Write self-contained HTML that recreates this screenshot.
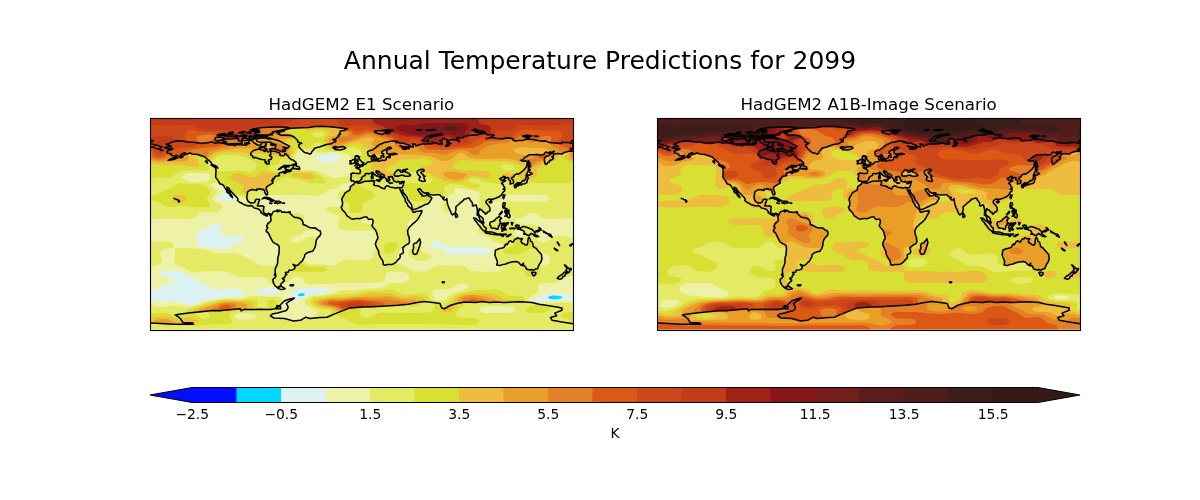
<!DOCTYPE html>
<html><head><meta charset="utf-8"><title>Annual Temperature Predictions for 2099</title>
<style>
html,body{margin:0;padding:0;background:#fff;}
body{width:1200px;height:500px;overflow:hidden;}
svg{display:block;}
text{font-family:"DejaVu Sans","Liberation Sans",sans-serif;fill:#000;}
</style></head><body>
<svg width="1200" height="500" viewBox="0 0 1200 500">
<rect width="1200" height="500" fill="#fff"/>
<text x="600" y="69.3" text-anchor="middle" font-size="25">Annual Temperature Predictions for 2099</text>
<text x="361.4" y="109.6" text-anchor="middle" font-size="16.67">HadGEM2 E1 Scenario</text>
<text x="868.6" y="109.6" text-anchor="middle" font-size="16.67">HadGEM2 A1B-Image Scenario</text>
<defs><clipPath id="mc"><rect x="0.2" y="-0.3" width="423" height="212"/></clipPath>
</defs>
<g transform="translate(150.30,118.80)" clip-path="url(#mc)">
<rect x="-1" y="-1" width="425" height="214" fill="#00d8fe"/>
<path fill="#dcf1f2" d="M-5.4 -5.4l433.6 0 0 222.2 -433.6 0zM150.5 174.5l-2.4 .9 -.6 .9 .3 .6 1.5 .5 2 0 2.1-.5 1.1-.9 -.1-.9 -.7-.5 -1.5-.2zM401.7 176.8l-3 1 -.7 .5 -.1 .6 .5 .6 1.6 .6 5 .6 5-.8 1.6-.7 .4-.6 -.9-.8 -2.9-.9 -3.2-.3z"/>
<path fill="#eef2a8" d="M-5.4 -5.4l433.6 0 0 178.7 -5.6 0 -3 1.5 -2.9 .5 -13.5-.8 -6.7 .4 -3.6 1.1 -8.9 4.1 -1.6 1.2 -.6 1.1 .1 .3 1.9 .7 4.7 .8 3.6-1.5 2-.4 11.8 0 12.9-1.5 9.4 .2 0 35.8 -433.6 0 0-35.8 5.5 0 7.1 1.6 3.2 .4 3.5-.1 8.6-.8 4.4 0 3.2 .8 5.6 2.8 2.3 .4 2.4 .1 4.7-1.1 5.8-3 3-.9 10.5-1.1 11.2-1.9 10.3 0 3.5-.4 3-1.2 .8-.9 .3-1.2 -.5-1.4 -1.3-1.3 -2-.9 -2.7-.6 -6.4-.3 -12.3 1 -3.3-.2 -2.3-.5 -2-1.1 -2.4-2.2 -1.5-1 -8.4-3.2 -4.8-3.8 -7.6-2.9 -6.2-3.8 -2.1-.6 -2.3-.2 -11.7 1 -2.1 .7 -.8 1.1 .2 1.4 1.5 1.3 7.8 2.3 2.5 1.1 .9 1.2 -.2 .9 -.6 .6 -1.8 .9 -7.2 2.1 -5.2 3.1 -5.6 2.3 -3 1.6 -5.5 0zM64.4 105.8l-2 .3 -2.1 .8 -4.8 3.3 -6.2 2.7 -1.7 1.1 -.8 1.8 .2 4.4 -1.3 3.5 .2 1.2 .7 .9 2.2 1.2 3.9 .9 14.4 2.2 6.4-.1 3.3-.5 2-.6 5-3.7 7.9-2.8 1.3-.7 .8-.9 .1-1.2 -.7-1 -1.2-.8 -2-.6 -4.1-.3 -9.7 .6 -2.4-.2 -1.9-.6 -1.2-.9 -.5-1.2 1.2-5 -.4-1.7 -1-1 -1.5-.6 -2-.4zM74.4 71.1l-2.5 3.9 -3.7 3.5 -.3 .9 .5 .9 1.6 .8 2.4 .6 3.2 .4 2.6-.1 3-.8 3.3-2.4 0-1.2 -1.4-1.4 -1-.6 -1.8 .2 -1.5-.7 -1.7-1.2zM114.3 169.2l-3.5 .5 -2.3 .7 -1.6 1.2 -.3 1.2 1.3 1.2 3.2 1.1 3.8 .5 4.7 0 3.5-.3 2.8-.8 1.9-1.2 .8-1.4 0-.6 -.4-.3 -1.8-1.2 -1.2-.4 -4.7-.4zM161.3 168.9l-10.8 .9 -3.9 .7 -2.3 .8 -2.1 1.3 -1.8 2.2 -1.4 2.7 -.3 2 2.4 1.2 .3 1.9 3.5-.2 2.6-.8 7.9-3.5 5-2.6 2.7-.5 7.5-.2 3.6-.6 3.5-1.1 1.2-.9 .5-.9 -.2-.6 -.8-.6 -3.3-.7 -6-.5zM176 35.7l-6.2 .7 -2.9 .7 -1.5 1.1 -.2 .7 .2 .9 1.2 1.5 2.2 1.1 3.4 .7 4.4 .4 4.4 0 4.1-.5 2.6-1 1.3-1.3 .2-1.2 -.4-1.2 -1.2-1.2 -1.6-.8 -4.1-.9zM287.5 122.9l-3.2 .3 -2.3 1.1 -1.2 1.8 -.1 1.2 .4 .8 .7 .6 1.3 .5 6.8 .7 2 .4 1.2 .8 2.7 3 1.4 .8 1.8 .4 5 .3 12.9-.3 11.4 .5 4.7-.1 3-.4 2-.8 1.5-1.1 .8-1.4 -.1-1.2 -.7-.9 -1.5-.6 -2.6-.4 -32.9-.1 -4.7-.3 -2.3-.9 -2.1-2.7 -1.5-1.1 -2-.7z"/>
<path fill="#e4ea63" d="M-5.4 -5.4l433.6 0 0 105.2 -19.4-.2 -10 .6 -4.4-.2 -2.1-.4 -1.6-.8 -3.3-3.2 -1.4-.9 -1.9-.6 -2-.2 -1.8 .2 -1.7 .6 -3.4 2.6 -2.2 1.2 -2.7 .7 -4.9 .8 -.7 .3 -.3 .5 .3 1.5 .7 1.2 2.3 1.5 3.5 .7 8.8-.2 3 .3 2.8 1.2 1.3 1.2 1.1 1.5 1.5 .7 .3 .5 0 .8 -1.1 1.8 -2.1 5 -.2 1.1 .2 1.2 .6 .9 2 1.2 3.5 .5 3.6-.5 2-.9 3.2-2.8 1.8-1.1 2.4-.8 2.9-.4 4.7 .1 4.1 .6 2.7 1.1 2.3 1.9 5.6 0 0 29.4 -5.6 0 0 .2 0 .4 5.6 0 0 6.1 -5.6 0 -8.2 2.8 -5.4 3.3 -3.1 1.1 -3.6 .4 -9.4 0 -3.7 .8 -1.2 .9 -.5 1.2 .8 4.1 -.4 1.5 -1.7 1.4 -4.7 2.5 -1.8 1.3 -1.4 1.8 -.6 2.1 .6 1.2 1.6 .8 11.3 1.6 5.8 .2 2.1-.9 2.6-.6 13-.9 4.4 .4 3.5 1.3 5.6 0 0 31.8 -433.6 0 0-31.7 5.5 0 3.6 2 4.4 .8 7-.1 10.3-1.2 2.6 .3 5.6 1.1 4.7 .1 3.2-.3 3.3-.8 8.2-3.1 2.9-.8 18.2-3.1 16.8-.4 3.9-.7 5.2-1.7 2.3-.4 10.6 .9 14.9 .2 1.8 .4 1.1 .6 .6 .9 .5 1.5 .2 1.4 -1.5 4.7 -.2 2.1 -1.7 3.2 -.1 1.2 -1.5 .9 -4.4 1.4 -.7 .9 .3 .9 1.2 1 2.1 .6 10 1 7.3 1.4 3.2 0 3.9-.6 5.2-2.3 4.7 .3 2.4-.5 1.5-.9 1-1.8 2.7-2.6 .1-.9 -.6-.6 -9.5-5.2 -2.1-1.5 -.9-1.2 -.2-1.8 .7-1.4 1.8-1.5 3.1-1.6 3.3-.8 8.8-.5 7.3-1.2 4.4-1.1 5.9-2.3 3.2-.8 3-.1 8.5 .6 11.4-2.1 10.9 .1 3.5-.3 3.5-1.2 3.3-2.7 1.4-.7 12.4-.5 4.5-.9 1.6-.8 1.2-1 .7-1.2 .2-1.4 -.8-3.6 -.7-.9 -1.2-.6 -6.1-.9 -8.8-.3 -3.3 .7 -2.3 1.5 -.7 1.7 .3 4.1 -.2 1.2 -.9 1.1 -1.5 .5 -27 .6 -13.5 0 -29 1.5 -4.4-.2 -3-.8 -1.5-1.2 -1.2-3.3 -1-1.1 -2.4-.9 -3.6-.1 -2 .4 -1.6 .6 -1.3 .9 -2 2.3 -1.3 1.1 -5.3 2 -.9 1.3 .5 2.6 -.6 .6 -1.3 .2 -2.6-1.1 -5.3-3.8 -2.8-.9 -.9-.8 -.9-2.1 -.9-1.2 -1.3-.9 -2-.7 -5.3-.5 -12.9 .8 -6.8-.3 -4-1.3 -5.4-3.7 -2-.6 -2.4-.4 -10.6 .2 -9.4-.3 -8.8 1.1 -3.5 0 -3.2-1.1 -5.9-3.8 -5.9-1.8 -1.6-.8 -1.1-1.1 -.5-2.1 .3-12.9 .6-.4 1.5-.2 10.5-.3 4.1 .2 13.3 1.5 3.2 1 5.3 2.3 2.9 .7 4.1 .2 10.3-.4 7.6 .7 3.6 1.2 5.2 3.3 6.5 2.5 4.4 3.4 2 .9 3.6 .5 7.9-.3 4.1 .2 1.3-1.4 .8-2.3 .2-4.5 1.2-7.6 -.1-3 -.6-1.1 -.7-.9 -3.9-2.3 -1.4-1.5 -3.3-6.5 -2.1-2.9 -.4-1.5 .8-5.3 .9-1.4 1.8-2.1 .6-1.2 .1-1.4 -.4-3.9 3.4-3 3-.9 3.2 0 3.8 1.2 5.3 .1 3.5 1.7 2.4-.7 2.3-.3 2.4 .1 2 .6 1.7 1.2 .9 1.8 .1 1.8 -.7 2 -.1 1.8 .2 1.3 .6 .9 5 2.6 1.4 .4 3.8 .3 1.2 .6 .6 .6 0 .6 -.3 .3 -6.4 0 -3.3 .6 -1.9 1.2 -3.1 3 -1.7 .6 -6.8 1.5 -1.7 1 -.7 1.2 .4 1.5 1.7 1.2 2.7 .7 3.2 .1 2.1-.4 1.6-.7 1-.9 2.1-2.6 1.7-.9 5.3-.6 5 0 .9 .2 0 1.2 -1.3 3.3 -1.4 5.1 -1.7 3.5 -1.8 1.7 -3.8 1.3 -1.5 .8 -1.2 1.2 -.7 1.6 -.7 3 .2 1.4 2.4 2.4 2.4 1.1 3.8 .4 9.4-.4 8.8 1.2 2.3 .1 1.5-.3 1.5-.6 2.9-2.8 1.5-1 3.2-1.1 5.6-.3 15 .5 4.1-.3 2.9-.8 1.6-1 .7-1.2 -.5-3.8 .2-1.5 .9-1 1.8-1 .3-.6 .2-1.2 -.6-4.1 1.4-5 0-1.7 -1.1-4.1 -1.1-1.4 -1.2-.7 -7.9 .3 -10-.4 -9.7 .1 -3.5-.3 -2.6-.9 -1.9-1.4 -.7-1.2 -.2-1.2 .2-2.3 1.8-4.4 -.1-1.5 -.6-1.2 -.9-.9 -1.8-.8 -7.7-2.4 -1.3-.9 -.7-.9 -.2-1.1 .4-.9 1-.9 1.5-.6 3.5-.2 7.7 1 1.2-.7 .8-1.8 -.2-2.4 -1.5-3.1 -2.1-.9 -1.1-1 -.2-1.2 .5-1.7 1.4-2.7 1.5-1.3 2.3-.7 4.4-.1 1.3-.8 2-2.9 2.3-2.4 -.1-.9 -1.4-.7 -4.7 .6 -4.7 1.3 -2.1 1.2 -3.1 2.7 -8.6 2.1 -1.4 .8 -3.5 3.2 -1.8 .9 -2.1 .5 -4.4 .2 -11.7-.7 -26.4 .3 -8.5-.4 -2.1 .6 -1.8-.6 -2.6 .3 -2.1 .6 -2.3 1.2 -1.1 1.5 1.7 .8 .7 1 .3 1.1 -.2 2.7 .3 .9 .6 .4 2.7 .8 1 1.1 .1 3.8 .5 2.4 -.4 .3 -1.8-.9 -2.3-2.6 -1.5-1 -6.5-2.1 -5-.6 -2.7-1.3 -.5-.6 .1-.6 1.8-1.2 1.4-1.8 -.4-1.6 -.8-1 -3.6-1.3 -4.7-.8 -5.5-3.8 -3.3-.4 -5.5-6.1 -3.3-1.8 -2-1.5 -4.4 .2 -1.2 .4 -.7 .7 -.2 .9 .3 1.2 1.5 1.7 4.1 2.7 .7 1.4 -.3 .9 -.7 .9 -4 3.2 -.6 1.2 .2 1.2 .9 1.2 1.4 1 6.1 2.8 1 .9 .4 .8 -.1 1.5 -.8 1.5 -1.3 1.4 -1.4 .9 -1.8 .7 -2.4 .4 -9.9-.3 -3.3 .3 -2 1 -2.6 2.9 -1.5 1.1 -2.1 .9 -2.6 .5 -45.5-.3zM40.7 54.2l-4.2 .7 -2.8 1.3 -1 .9 -.4 .9 0 .9 .4 .8 1.8 1.5 2.9 1.2 3.3 .7 3.5 .3 6.8-.1 5.2-.5 1.8-.7 1.1-1.8 .4-2 -.1-1.5 -.8-1 -1.5-.8 -2.7-.5 -4.3-.4zM140.8 46.5l-1.5 .6 .1 .6 1.7 .9 1.1-.1 .5-.8 .1-.9 -.6-.4zM150.2 31.8l-1.8 1 -1.5 1.4 -3.2 6.2 1.4 2.9 .3 2.6 2.2 2.7 .2 .9 -.4 .8 .7 .6 2.4 .3 9.9-.1 4.7 .6 3.3 1.1 6.1 3.1 4.1 1.8 3 1 2.6 .4 5-.3 9.1-1.5 1.2-.5 .8-2.1 .9-1.1 -1.6-4.4 .1-1.5 .7-2.1 -.7-1.7 0-1.2 .9-2.2 -.5-1.9 -.9-1.5 -2.1-1.5 -5.6-1.6 -5.5-.7 -4.7-.1 -8.8 .7 -3.6 0 -2.5-.6 -2.2-1.1 -1.4 .5 -2.1 1.5 -1.4 .3 -3.9-1.1 -3.2-1.5zM214.4 98.7l-1.7 .8 -1.7 1.3 .2 1.5 .9 1.1 2.1 1.1 3.2 .8 3.5 .3 .9-.7 .9-2 -.1-.9 -.7-.9 -3.3-1.1 -2.4-1.2zM259.1 85.5l-.4 .7 .4 .9 .8 .9 .9 .1 .3-.8 -.3-.8 -.9-.9zM305.7 69.1l-.8 .3 -.4 .6 .2 2.7 -.7 1.3 -1.4 1 -4.5 2.4 -2.9 2.9 -.9 .2 -.9-.3 -2.8-2.3 -2.2-1 -5.3-.4 -2 .3 -.4 .6 .7 2 0 1.2 -.9 1.8 -1.5 1.6 -1.4 .9 -6.8 2.6 -7.1 3.7 -.1 .8 1 .7 4.2-.4 1.4 .2 .8 .7 .1 1.5 -1.6 2.6 -1.9 2 -.9 .5 -3.2 .2 -2.7 .7 -1.7 1.2 -1.2 1.6 -.5 2 .6 3 -.4 4.1 1.4 6.4 -.2 3.9 -1 1.7 -3.7 2.7 -2.4 2.3 -1.4 1.1 -2.1 2.7 -1.3 3.5 .2 1.2 .8 .9 .2 .9 -1.2 3.8 .1 .5 2.1 1.1 7.1 2.5 1.4 .9 2.2 2.3 1 .8 1.8 .5 2.6 .3 7.1 .2 4.4-.5 2.6-1 3.8-2.8 1.9-1 2.5-.7 3.3-.3 8.2 .4 8.8-.2 3.8 .3 3.3 1.1 4.9 3.6 1.8 .7 2.3 .3 10.9-.1 9.1 .3 3.2-.3 2.4-.7 1.4-.9 .9-.8 .4-1.2 .1-1.5 -.5-.3 -3.2-.6 -1.5-1.2 -.7-4 -1.5-4.5 -.1-2.9 .5-1.5 .9-1.1 1.8-1.2 3.8-1.5 1-.9 .2-.8 -1.6-1.5 -1.6-1 -7.4-2.6 -4.4-3.6 -7-2.3 -2.4-1.7 -.7-1.1 -.1-1.8 .4-1.8 1.5-2.9 0-2.6 .5-1.8 -.7-2.9 0-1.4 .6-.1 .6 .2 1.2 1.2 .5 1.5 -.1 3 .7 1.2 1.5 .8 3.8 0 2-2 3.6-1.8 2.9-2.5 1.5-.8 .9 0 .6 .4 .5 .9 .4 1.8 .8 .7 1.9-1.1 2-.7 6.9-1 .9-.6 0-.9 -.5-1.8 -1.1-1.4 -1.3-.9 -.6 0 -.4 .6 .3 1.7 -.2 1.2 -.8 .6 -.9-.2 -1-1.3 0-2 -.3-.6 -3.7-2.7 -.8-.8 -.4-1.5 .1-2.9 .5-1.6 .9-1 2.7-.6 4.9-.3 31.7 .1 2.7-.5 2-.7 1.5-1 .4-1.2 -.3-1.2 -1.5-1.1 -2.1-.8 -2.9-.4 -16.2 .2 -14.1-.4 -5.6 .6 -1.3 .5 -1.1 1.7 -1.7 .7 -1.1 1.7 -1.2 .8 -2.4 .4 -5 .3 -2 .8 -2.1-.3 -.8 .2 -.4 .4 -.1 .9 2.2 4.1 .3 2.4 -.4 1.1 -1.1 1.2 -1.4 1 -1.2 .2 -1.5-.6 -4.4-3.8 0-2.4 -1-3.8 -.2-2 .3-1.8 1-2.9 .2-1.5 -.3-1.2 -.7-.9 -2.5-1 -9.7-1.5 -7.3-1.9zM367.7 111.7l-2.7 .6 -1.6 1.2 -.4 .8 0 .9 .3 .9 .8 .9 2.1 .8 3 .2 2.9-.4 2.3-1 .1-.5 -.8-1.8 -1.3-1.5 -2.4-1zM391.8 134.8l-.5 .4 -.2 .6 .2 5 -1.5 4.1 .1 1.1 .4 .4 2.9 .2 3.3-.6 1.7-1.1 1-1.8 .4-2.3 -.4-2.1 -1-1.5 -1.5-1 -2.3-.9zM90.3 194.5l-3 .5 -1.9 1 -.7 1.1 .5 1.5 1.5 1.2 2.1 .8 2.6 .4 3.3 0 4.4-.5 3.5-.7 2.1-1 1-1.4 -.3-.9 -.7-.5 -2.8-.9 -6.1-.7zM309.6 164.5l-2.7 .9 -4.2 3.3 -2.5 1.1 -3.3 .4 -9.4 .2 -2.3 .4 -1.8 .7 -1.1 1 -.4 1.4 .5 2.1 1.2 2.6 1.5 2.1 1.9 1 2.3 .3 2.6-.4 3.9-1.7 5.2-4.1 2.4-1.4 3.5-1.4 7.4-2 2.3-1.2 1.1-1.1 .2-.9 -.1-.9 -.5-.9 -1-.7 -3.2-.9zM334.8 187.4l-2.9 .6 -1.9 1.2 -.7 1.8 .2 .8 .7 .9 2.3 1.1 3.5 .5 21.1 0 3.2-.4 2.4-.6 1.8-1 .6-1.3 -.4-1.2 -1.4-1.1 -2.1-.8 -2.6-.4 -4.1-.2zM294.8 83.2l.7-.2 .9 .5 1.1 2 2.1 5.9 .1 1.5 -.4 .9 -2.4-.3 -2-.6 -1.5-1 -.9-1.3 -.5-2.1 .3-2.3 1-1.8zM-5.4 120.8l5.5 0 2.4 1.7 2.9 .8 10.3-.5 3.7 .3 1.9 .8 1.4 1.3 .7 1.5 .1 1.7 -1 .7 -5.3 .6 -3 .6 -2 .8 -1.5 1.1 -.6 1.2 -.1 1.5 1.3 4.4 .1 2.3 -.6 2.4 -1.3 1.4 -1.7 .8 -5.6 1.6 -1.2 .6 -.9 .9 -5.5 0zM268.7 121.7l.6 0 .6 .4 .7 1.6 -.8 6.2 .1 1.2 1.6 1.4 1.9 1.2 6.2 1.9 1.4 .8 .5 .8 -.1 .9 -.7 1.2 -1.4 1 -2.3 1 -3 .4 -4.1 .2 -3.5-.4 -2.3-.6 -2.4-1.2 -2.1-1.6 -1.5-1.7 -.6-2.1 .6-2.1 1.2-1.1 2.7-1.5 2.3-4.4 3.3-2.9zM-5.4 156.5l0-4.8 5.5 0 1 2.6 -.2 1.4 -.8 .8z"/>
<path fill="#d8e033" d="M-5.4 -5.4l433.6 0 0 67.2 -5.6 0 -1.5 1.4 -1.5 .7 -4.4 .8 -20.8-.3 -14.1-.6 -2.6 .1 -2.4 .8 -2.3 .5 -4.4 .2 -1.6-.4 -.3-.6 .1-1.1 -2.3-1 -.4 1.3 -.8 .6 -1.5 .5 -1.2-.2 -.9-.7 -1.6-2.6 -1-1.1 -4.1-.8 -.9 .4 -.2 .6 1.4 1.4 .2 .7 -1.7 2.3 -.8 .5 -6.8-.8 -10.3-.6 -1.7-.6 -2.7-2 -1.9-.9 -2.5-.6 -2.3 0 -2.1 .6 -1.4 .9 -.7 1.2 .2 .9 .6 .5 1.3 .5 6.2 .8 1.7 .5 .8 .6 .3 .9 -.3 .9 -.8 .7 -2.6 .8 -3.5 .1 -3.7-.8 -4.5-2.2 -2.7-.6 -8.8-.6 -5.9 .5 -2 .7 -1.1 1.1 -.2 1.4 1 3 .1 1.1 -2.5 3.7 -3.5-1.2 -9.1-.5 -8.8-2.7 -.7 .5 .1 .8 1 1.8 1.4 1.3 1.4 .4 3.3-.6 2.3 1.7 .7 1.3 -.1 .9 -.6 .9 -.9 .9 -.5 .1 -3.6-.3 -7.9 .2 -3.5-.3 -3.2-.9 -1.6-1.5 -.2-1.2 .7-3.8 -.7-1.5 -2.1-1.1 -5-1.5 -1.2-.6 2.2-2.3 .6-1.8 -.1-1.2 -2.6-.9 -4.1-.5 -1.8-.5 -1-.7 -2-2.4 -.8 0 -1.5 2.4 -1.2 .4 -1.4-.7 -2.4-2.8 -1.2-.4 -2.3 2.4 -.9 .5 -.9 .2 -.5-.5 .4-1.5 -.4-.8 -1.5-.8 -1.7-.1 -.5 3.2 .6 1.5 .2 2 -.1 .6 -.6 .3 -11.7-2.3 -1.2-.9 -1.3-2.7 -1.3-.5 -2.4-.4 -4.7-.2 -.4-.6 -.2-1.2 .1-.9 .5-.7 1.2-.5 3.8-.2 1.5-.3 2.6-2.3 1.2-.7 .9-1.4 -.1-3.3 -.8-1.4 -2-5.6 0-.9 1.2-3.2 0-1.8 -1.2-2 -2.4-2.1 -2.4-1 -2.9-.2 -3.5 .5 -5.3 1.9 -2.6 .5 -8.8 .3 -5.9-.3 -1.5-.4 -.9-.7 -.6-3.2 -1.1-1.5 -2.1-1.3 -2.3-.5 -1.8 .3 -1.5 .7 -3.2 3.5 -1.8 1.1 -2.6 .2 -6.2-1 -.8 .2 -3.3 1.9 -1.3 1.4 -1.1 1.7 -1.7 4.1 -2 2.5 -1.2 .4 -5.9-.6 -2.9 .5 -.9 .7 -.4 2.4 -1 1.2 -1.8 .8 -6.7 2.1 -1.3 .9 -.3 .9 .6 .7 1.4 .7 8.6 2.8 3.5-.5 3.3 .4 1.2-.3 .8-.6 .3-.6 -2-1.8 0-.6 .9-.3 1.3 .4 2.8 1.4 4.1 1.1 3.5 .3 9.4 .1 4.4 .6 4 1.7 8.9 5.9 1 1.2 .2 1.2 -.6 .6 -1.3 .5 -5.5 .4 -6.7-.5 -2.9-.6 -9.8-2.8 -12.8-2.4 -3-.2 -2.4 .9 -2.6 2.9 -1.1 .9 -1.8 .8 -2.4 .6 -1.3 1.2 -4.2 2.6 -.7 .9 -.2 .9 .5 3.8 -.5 .9 -.5 .3 -.7 .1 -.9-.4 -1.7-2.3 -.9-.7 -3.2-.6 -3.6 .9 -3.8 0 -1.7 .4 -1.7 1.1 -1.6 2.6 -.9 .6 -6.7-1.4 -4.4-.5 -4.5-3 -1.7-1.9 -2-.4 -.9-.5 -2.5-2.8 -3.5-2.1 -3.2-3.5 -1-1.4 -.3-1.5 .4-2.7 .7-1.7 .9-.7 8.2 .4 7.3-1.1 4.1-.3 4.5 .4 7 1.3 2.1-.1 2.3-1 2.1-2.1 1.3-2.4 .2-2.3 -.6-2.1 -1.2-1.1 -6.8-2.1 -5.3-2.7 -4.1-1 -6.1-.5 -6.8 .3 -4.7 .7 -2.8 1.1 -4.2 3 -5.2 1.4 -.6 .6 -.3 1.8 1.4 3.5 0 1.2 -.6 .9 -1.8 .8 -4.1 .5 -12.6-.3 -7.1 .6 -3.1 .7 -2.3 .9 -1.6 1 -3 2.8 -2.6 1.2 -3.2 .3 -11.2-.2 -3.2 1 -2.4 1.9 -5.5 0zM167.5 12.7l-2.7 .7 -1.9 1.1 -.7 1.5 .6 1.2 1.2 .7 1.4 .5 3.3 0 3.2-1.2 1.2-.9 .7-.9 -.1-1.2 -1.5-1.1 -2.1-.4zM261.4 53.2l-1.9 1 .1 2 -.9 1.2 -1.7 .5 -4 .1 -2 1.2 -1.2 1.1 -.7 1.2 -.1 .6 .4 .7 .9 .7 1.4 .2 1.3 .7 1.4 .2 10-.2 9.3 .6 3.3-.3 2.9-.6 2.1-.8 .8-.9 0-.9 -.7-.9 -3.1-1.7 -5-1.8 -3.8 .7 -2.3-1.9 -2.1-2.5 -2.3-.4zM355.1 45.3l-3.3 .6 -.9 .6 -.4 .6 0 .9 .4 1.2 .6 .9 1.2 .8 3 .7 4.4 .2 3.2-.4 1-.5 .5-.6 .1-.8 -.4-.9 -2.1-1.8 -3.3-1.2zM28.1 64.4l3.2 0 9.1 1.4 11.1-.2 2.1 .4 1.8 .8 5.3 6.4 -.5 1.2 -2.7 2.7 -.7 2 .2 1.5 .5 1.5 3 4.4 -.1 1.1 -1.5 .8 -3 .2 -10.3-.3 -13.5-1.1 -10.2 .9 -3.8-.1 -3.7-1 -3.6-2.6 -1.6-.8 -7.3-2.1 -1.8-1.4 -5.5 0 0-1.6 5.5 0 .8-.9 1.6-.8 7-2 5-3.4 7.1-2.6 4.1-3.4zM204.7 65.3l1.2-.1 3 .7 1.1 .7 2.4 2.2 1.3 .9 8.2 3 1.8 1.4 .7 1.8 -.6 2.3 -1.7 1.8 -2.1 1.1 -5 1.7 -2 1.3 -.9 1.8 .3 4.1 -.4 1.7 -2 1.5 -3.2 .8 -4.1-.4 -1.8-.7 -1.2-.9 -.9-1.7 .3-4.1 -.4-1.8 -.9-.9 -1.3-.7 -3.5-.6 -.8-2.2 .4-2.4 1.6-2.7 1.1-1.1 3.6-2.3 2.2-3.5zM367.4 119.9l2 0 1.5 .6 .5 .6 1.1 2.9 2.2 1.5 .9 .1 .9-.4 1.8-2.8 .5-.1 .9 .3 2.4 2 2 4.4 -.6 .5 -2.9 .3 -2.3 .6 -1.8 .9 -4.1 2.9 -4.1 1.2 -4.7 .4 -4.7-.2 -3.2-.7 -2-1.2 -.7-1.5 .8-1.4 2.1-1.3 5.6-1.9 1.9-.9 .9-1.2 -.3-2.4 .4-1.1 1.2-1.4zM240.6 123.4l3.2 .1 2.6 .8 1.2 1.2 -.1 1.5 -3.1 5 -2.4 2.3 -1.4 .6 -1.5 .3 -1.8-.1 -1.4-.4 -1.5-1 -1.1-1.7 -.3-2.1 .5-2.4 .9-1.5 1.5-1.2 2-.9zM150 144.3l1.6-.1 3.2 2.4 3.3 1.1 3.2 .2 7.9-.2 3.6 .5 3.2 1.4 .6 .6 .1 .8 -1 1.1 -1.8 .7 -6.1 .7 -18.8-.3 -3.2-.4 -2.6-.9 2-4.9zM387.7 149.9l1 0 .9 .8 .3 1.2 -.1 1.2 -.7 1.5 -1.2 1.6 -2.3 1.5 -3.5 .6 -3.6-.4 -2.7-1.3 -1.5-2 -.3-2.4 .8-2 3.7 .7 4.2 .2zM383.2 154.2l-.6 .7 .1 .8 .5 .7 .9 .2 .8-.9 -.1-.8 -.7-.7zM334.8 171.2l10.6-.7 3.5 .6 2.3 1.2 4.2 3.3 2.9 1.1 2.9 .2 7.1-.3 2.9 .4 1.2 .6 .9 1 1.2 3.6 -.6 .6 -1.2 .5 -4.4 .5 -13.2 .6 -8.8-.1 -6.5 .3 -7.9-.7 -6.8 .8 -9.2 .1 -1.3 1.5 -4.2 2.3 -2 1.7 -2.4 3.6 -.8 2.3 .4 .9 .7 .6 2.7 1 3.8 .4 11.4 .2 3 .7 1.4 1.2 .2 .9 -.3 1.2 -.7 .9 -1.2 .8 -3.2 .9 -5 .3 -14.1-.5 -32.3-.4 -40.5 0 -18.2 .7 -6.8-.3 -3.8-1.1 -5.6-3.6 -6.7-2.8 -1.6-1.1 -1.7-1.6 -5.2 .7 -2-.2 1.7-2.7 0-.9 -.7-.9 -2.3-.8 -8.5-1 -4.4-1.3 -2.3-1.3 -1.8-1.4 -1.4-1.8 -.7-1.7 .3-1.2 .8-.9 1.6-.7 2.3-.6 30.3-3.5 10.5-.7 11.8-2.6 13.2 0 10.6-1.2 2.3 .4 5.6 3 4.4 1.3 4.4 .1 11.2-.8 4.7 .4 2 .7 1.5 1 1.2 1.3 .7 1.6 .5 2.4 -.4 .3 -6.8 1.4 -1.5 .6 -1.1 1.1 -1.1 .8 -3.3 1 -2.9 0 -2.9-.6 -4.7 .1 -21.2 1.5 -19.1 .9 -2.8 .5 -2 4.1 0 1.5 .5 1.1 1.4 1.2 1.8 .8 2.3 .6 2.4 0 2-.3 1.8-.7 5.6-3.7 3.5-.8 35.2 .7 8.5-.3 5.3-.7 2.3-.9 1.1-1.1 .4-1.2 0-3.8 .3-1.1 2.4-.5 2.6 .2 1.4 .8 2.1 2.3 1.3 .3 .5-.3 0-1.4 .8-1.2 3.6-3.3 3.3-3.5 2.6-1.9 2.9-1.4 3.8-1.1 14.1-3zM89.4 181.1l13.2-.6 2.3 .4 1.5 .8 .6 .7 .1 1.2 0 5.6 -.4 1.2 -1.2 .9 -2.9 .8 -4.1 .3 -11.5 0 -2.9 .5 -2.3 .8 -1.7 1.4 -.6 1.7 .4 1.8 2 3.5 .2 1.2 -.9 1 -2.1 .8 -5.9 .6 -14.6-.2 -11.2 1.2 -6.2 .2 -20.8-.7 -18.2-1.2 -7.6-.1 0-11.1 5.5 0 6.2 .8 7.1-.4 2.9 .1 2.6 .6 5.3 2.2 1.8 .5 2.3-1.6 5.6-1.1 1.9-.7 .6-.9 -.3-1.2 .2-.6 1.2-.8 20.8-6.5 11.4-2.4 5.3-.8 4.4-.1zM52.1 193.9l-5.4 .6 -1 .3 -.2 .9 .9 1.1 1.9 1.2 2.9 1.2 2.4 .6 2 0 1.8-.4 1.5-.8 1-1.2 .2-.9 -.3-.8 -1.8-1.4 -1.5-.5zM119.3 181l2.4-.2 2.3 .4 1.5 .8 1.2 1.3 1.1 2.7 -2.1 2.9 -1.1 1 -1.7 .6 -2.4 .2 -2.3-.4 -1.4-.8 .5-4.4 0-2.9 .6-.7zM376.2 189.3l8.8-3.3 1.2 0 7.9 .8 3.8 .8 1.9 1 -.7 2.1 -1.5 1.4 -2.6 1.2 -3.5 .7 -5.9 .3 -5.3-.2 -3.2-.8 -1.2-.6 -.8-.9 -.2-.8 .2-.6zM407.6 186.9l1.8-.3 1.1 .3 0 .2 -.5 .4 -1.2 0 -1.5-.4zM416.4 193.6l11.8 .2 0 11.1 -5.6 0 -1.5-.3 -1.3-1 -.9-1.8 -1-1 -5.3-2.5 -1.3-1.2 -.2-1.1 .9-1.3 1.8-.7z"/>
<path fill="#eebd3f" d="M-5.4 -5.4l433.6 0 0 49.4 -5.6 0 -4.4-1.7 -3.2-1.9 -.9-.9 -.3-.9 2-2.8 .5-1.3 -.8 0 -3.8 1.3 -4.2 .2 -.6 .3 0 .2 .9 1.5 .1 .9 -.5 .9 -1 .9 -2.3 1.3 -3.5 1.3 -3.3 1.6 -3.6 .5 -1.9 1.1 -5 4.1 -.6 .9 -.1 .9 .9 3.8 -.3 .9 -.7 .9 -1.9 .9 -3.8 .9 -1.5 .1 -2-.5 -1.2 .9 -.9 .2 -3.8-.6 -1.7-.7 -1.4-1.2 -1-1.8 .5-.6 4-2 2.2-1.8 1-1.5 .3-2.6 -3.3-.6 -7.3-3 -5-1.2 -4.7-.5 -28.2 .1 -4.7-.3 -7.6-1 -3 .1 -3.8 1.4 -3.4 2.4 -.8 1.1 -.2 .9 .2 .9 .7 .9 2.9 1.5 5 1.1 4.7 .3 13.5 .1 6.5 .6 1.7 .6 1.1 1.1 .5 1.4 0 1.8 -.4 1 -.8 .8 -2.4 .5 -2.1-.3 -7-1.8 -2.7-.2 -2.3 .2 -3.8 1.3 -4.7 3.2 -1.5 .7 -2.3 .5 -3.6 .1 -7.3-.5 -4.7-.9 -2.3-1 -8-4.4 -9.7-3.5 -3.2-.8 -.4-.5 -.3-2 .1-.6 .6-.7 2.4-1 6.7-1.4 1.5-.7 .6-.6 .1-.9 -.6-1.2 -1.3-1.2 -1.8-.9 -2.6-.8 -3.2-.3 -9.7 1.1 -10 .1 -3.5 .8 -4.5 3.6 -6.9 2.6 -2.1 1.5 -.5 1.4 .7 1.2 2.7 1.3 4.4 .8 .3 .2 .6 2.7 2 1.8 -1.3 2 -.4 .2 -.9-.5 -1.8-1.8 -.8-.3 -.9 .1 -.9 .6 -1.1 2 -.7 .2 -1.4-1.3 -3-4 -3.8-2.5 -1.4-.5 -.9 .2 -.5 .6 -.4 1.5 -3.2-2.1 -1.7-3.8 -.1-1.8 .2-1.5 1.9-2.9 2.9-1.2 1-.8 -1.3-2.4 -1.2-1.2 -.9-.3 -3.8-.4 -1.1-.6 -.9-1 -.4-1.5 .5-1.2 3.1-2.3 -2.6-.3 -2-.6 -1.9-1.2 -2.9-2.9 -1.2-.5 -1.4-.1 -5 .5 -7.2 1.6 -2.2 .7 -1.5 1.7 -2 .7 -5.3 .3 -3.8-.1 -2.4-.4 -1.5-.7 -1-1.1 -1.1-2.3 -1.9-2.9 -.5-1.2 .4-1.2 3.3-3.2 1.2-1.8 0-1.7 -1.2-1.5 -3-1.1 -4.4-.5 -3.8 .2 -6.7 1.2 -2.1 .1 -1.8-.5 -1.4-1.2 -2.7-.1 -8.5 .3 -6 .7 .3 1.2 1.6 2.9 2.1 .5 1.9 1 1.7 1.5 .5 1.1 -.3 .6 -.6 .2 -6.9 1.3 -1.3 .6 -.7 .9 .1 .5 .6 .8 5 2.6 .8 .7 .5 .9 0 1.5 -1 5.9 -.9 2 -.9 .6 -.9-.1 -2.9-1.1 -3.3 .4 -2.9-.6 -7.6-.1 -2.1 .4 -2.3-1.4 -2.4-.4 -12.3-.7 -2.6 .4 -6.5-1.1 -11.7-.6 -5 0 -5.3 .6 -4.4 1.2 -2.4 1.1 -3.5 2.9 -2.6 1.1 -2.4-.2 -3.8-1.8 -4-1.2 -3-.4 -2.1 .1 3.4 3.9 1.8 4.7 .2 1.1 -.3 .6 -1.6 .8 -2.9 .1 -5-.3 -12-1.8 -14.1 0 -6.2-.3 -6.5-1.4 -5.5 0zM233.2 37l-1.7 1.3 -1.3 1.8 0 .6 2.2-.2 1.4-.7 .3-.9 0-1.2 -.3-.7zM378.5 52.7l-.8 .5 -.6 1.3 .1 1.1 .8 .5 1.7-.5 .6-.9 -.3-1.1 -.9-.8zM111.3 53l3.3-.3 5.9 .9 4.1 1.2 1.8 .8 .5 .6 -.4 .9 -3.4 4.1 -1.7 3 -3.5 2.6 -1.2 1.2 -.8 2 .3 2.7 -.4 .6 -.6-.2 -1.2-1.6 -1.1-.7 -2.1-.7 -2-.2 -3.6 1 -3.2 0 -2 .4 -2.1 1.1 -1.8 1.9 -1.7-.6 -1.7-1 -.4-.9 .1-.9 1.4-2.9 -.1-.9 -.4-.6 -2.1-1.4 -5.3-1.8 -2.4-1.1 -2-1.7 -1.1-1.9 .1-1.5 1.3-1.5 2.6-1 2.9-.4 2.4 .2 2.3 .5 7.4 3.2 1.7 .2 1.8-.2 2.6-1 3.9-3.1zM148 54.2l7.4-.1 4.3 .6 1.9 .8 1.3 1 1.1 1.5 .1 1.2 -1 .7 -2.4 .3 -8.2-.8 -7.8-1.7 -2-.9 -1.4-1.2 .2-.6 1-.4zM356.1 54.5l4.8 0 2.4 .6 1 .5 -.1 .9 -2 2.9 .2 2.4 -.3 .9 -.6 .2 -.9-.3 -2.3-2.8 -.9-.7 -4.1-1.3 -2.4 .2 .6-1.4 1-1 1.7-.7zM26.4 76.2l4 0 3.2 1 1.2 .7 .8 .9 .3 1.2 -.2 .9 -.6 .8 -.9 .5 -2.9 .8 -4.4 .1 -3-.6 -.8-.7 -.3-.9 .2-2.7 1.2-1.3zM218.7 174.5l19.2 0 3.6 .5 7.6 2.3 3.5 .7 4.1 .1 8.5-.4 3.6 .2 2.2 .4 1.6 .9 .7 .9 .3 1.5 -7.6 2.9 -7.2 1.4 -25.3 2 -19.9 1 -12.7 1.3 -2.1 .5 -8.1 2.6 -4.1 .7 -1.7-.4 -.2-1.8 -.7-.8 -1-.6 -2.9-.9 -7.9-1.1 -3.3-.7 -3.1-1.7 -1.1-1.2 -.6-1.2 .1-1.2 1.1-1.1 1.9-.8 3.4-.7 10.7-1.4 14-.4 14.5-1.8zM319.8 174.5l6.8-.2 16.4 .9 3.3 .9 5.6 3.4 4 1.6 3 .3 7.6-1 2.4 .5 1.5 1 -1.2 .5 -1.8 .2 -8.5 .1 -6.2 .6 -6.4 .1 -5.9 .5 -8.2-.6 -7.4 .9 -11.4-.1 -4.4 .9 -2.5 1 -4.1 5.5 -1.4 1.2 -1.7 .9 -2.4 .4 -2.3-.3 -1.9-1 -1.3-1.4 -.6-1.5 2.3 .4 1.8-.4 7.5-4.7 .5-.6 .6-2.3 .9-2.1 1.3-1.5 1.5-1.1 2.1-.9 2.8-.9zM74.5 182.2l6.4-.2 15.5 .6 3.3 .4 1.7 .8 1.1 1.3 .4 1.8 -.3 2.6 -1.2 .9 -2.6 .6 -4.4 .1 -2.7 .3 -4.1-.5 -14.9 1.7 -9.7-.1 -15.9 .7 -3.1-.2 -1.4-.6 .8-1.1 1.5-.9 8.1-3 14.4-3.9zM3.7 198.4l9.7-.6 4.1 .3 11.7 2.8 3.5 1.4 .2-1.7 1.3-1.3 2.5-.7 3.1-.1 2.3 .5 2.7 1.1 2 1.1 .9 1.2 -.6 .9 -1.2 .5 -6.1 1.3 -5.6-.6 -3.8 .8 -10.3 .1 -13.8-.8 -4.4-.7 -1.8-.6 -5.5 0 0-1.6 5.5 0 .5-1.6 1-1.1z"/>
<path fill="#e99f25" d="M-5.4 -5.4l433.6 0 0 46.8 -5.6 0 -2.5-1.3 -1.3-1.8 .5-4.1 0-.3 -.8-.4 -2.4-.2 -4.7 1.6 -5.3-.2 -1.3 .4 -.7 .6 -.8 3.5 -.7 .9 -1 .9 -2.2 .8 -.7-.3 .4-1.7 2-3 -.5-.2 -4.7 2.5 -1.6 3 -1.1 .9 -3.2 1.2 -5.3 3.1 -3.5 1.1 -4.6-4.5 -3.9-1.1 -1.5-.7 -3.5-.3 -8.8-1.6 -3.8-.4 -26.2 .3 -5.5-.4 -2.7-.5 -2.5-.9 -1.9-1.1 -3-2.4 -2.3-.7 -1.8 .1 -1.7 .7 -3.9 3.7 -3.1 2 -3.3 1.1 -3.5 .5 -4.1-.6 -7.9-3.6 -5.6-1.3 -17.9-1.3 -12.9-.2 -1.5 .3 -5 0 -1.7-.8 -2.1-2.2 -.9-.5 -1.2 .2 -.8 .6 -1.2 2.4 -5.3 .1 -4.1-.3 -2.4-.5 -.4-.6 .2-.7 .8-.9 3.7-1.9 1.1-1.2 .4-1.2 -.2-.5 -2.6-.9 -.7-.9 .2-1.2 2.3-3.2 -.2-.9 -1.3-1.1 -3.3-.8 -3.5 .2 -5.9 1.7 -8.5 2.9 -8.2 2.3 -5.4 2.4 -1.9 .3 -3.5-.3 -1.6-.6 -.9-.8 -1.4-3.6 -.1-1.1 .4-1.2 1.5-1.5 2.1-1.3 1.7-.5 2.7 .1 .5-.3 1.8-1.8 1.5-2.6 1.7-1.5 -.1-.6 -2.5-.8 -9.7-1.2 -7.9-.2 -6.5 .2 -7.9 .8 -10.3 .1 -8.2 .6 -3.2-.2 -1.1 .4 -.5 1.8 -1.8 2 .1 .6 1.5 .6 6.7 .9 1.7 1.2 .4 .6 0 .5 -.6 .4 -10.8 1.1 -2.1 .7 -.4 .8 .8 .9 5.9 3.5 1.3 1.2 .3 .8 -.3 2.4 1.2 2 .6 1.8 0 1.5 -.3 .6 -3.2-.4 -3.5 .6 -3.6-1.3 -6.4-.2 -.6-.2 -.7-.9 -.1-1.5 .8-.8 2.6-.9 .3-2.1 -.2-1.2 -.7-.8 -2.9-1.6 -2.3-.5 -1.2 .3 -.9 1.1 -.7 2.1 .7 2.7 -.6 .9 -.9 .3 -1.4-.1 -4.1-1 -4.4 0 -4.1-.9 -4.7-.3 -4.2 .1 -14 1.3 -7.7 1.2 -5.2 1.4 -2 1.2 -3.2 3.2 -1.9 1.2 -1.2-.2 -3.8-1.5 -4.5-1.2 -7.8-1.2 -1.5 .5 -.9 .9 .9 2.4 -.4 1.8 -.9 .8 -1.6 .7 -4.4 .4 -11.5-.2 -9.1 .7 -4.7-.1 -2.9-.5 -3-.9 -5.5 0zM103.8 21.6l-.4 .6 .4 .8 3.2 2.3 2.1 .6 .7-.2 .6-.6 0-.9 -.8-.7 -3.8-2 -1.1-.2zM369.7 28.9l-2.9 .5 -2 .8 -1 1.1 .1 1.1 .9 .9 1.6 .9 6.5 2.1 3.3 1.4 2.1-.1 6.1-1.7 7.4-.4 1.1-.5 2.7-1.7 3.8-.3 1.1-.3 .1-.3 -1.8-1.1 -2.1-.9 -5.5-1.3 -16.2-.4zM296.8 52.7l4-.1 11.7 1.5 3.2 .9 .6 .3 .2 .6 -.7 .9 -2.1 1.8 -3.6 2 -3.2 .5 -4.1-.2 -2.9-.7 -2.7-1 -2-1.2 -1.6-1.5 -.6-1.2 .5-1.1 1.3-.9zM318.7 176.3l7.6 0 8.5 1.3 6.5 1.7 6.2 2.9 -7.1 1 -8.2-.5 -8 1 -9.4-.4 -4.9 .1 -1.9-.4 -.2-1.4 .2-1.2 .8-1.2 1.1-.8 3.5-1.3zM207.7 178.2l31.4-.8 12 2.7 12.1 .6 2.1 .6 1.5 1.1 -.8 .6 -3.1 1.2 -5.6 1.3 -24.1 1.9 -19.6 1.1 -12.7 1.2 -9.1 2.5 -2.9 .5 -1.4-.3 -.9-1.7 -2.1-1.2 -3.2-1 -9.7-1.7 -2.5-1.1 -1.1-1.5 .1-.9 .5-.6 1.8-1 3.6-1 4.9-.8 4.4-.2 10 .1zM76.5 183l6.1 .2 10.9 1.3 2.8 .9 .6 .6 .1 .9 -1 1.1 -3.3 1.5 -1.3 .2 -3.2-.1 -6.1 1.3 -5.3 .7 -5 .3 -9.1-.2 -10.3 .5 -2.9-.1 -1.2-.3 1.5-1.1 2.3-1 15.3-4.9 4.7-1.2zM10 200.1l4.2 .1 4.1 .7 4.9 1.8 .9 .6 .7 .9 -3.8 .4 -4.7-.1 -9.7-.5 -3.2-1 .7-1.2 1.3-.9 2-.5z"/>
<path fill="#e38027" d="M-5.4 -5.4l433.6 0 0 44.2 -5.6 0 -.8-1.4 -.2-4.1 -1.1-.8 -3.8-.1 -4.7 1.3 -1-.1 -2.8-2.3 -7.3-4.4 -.9-.9 -.5-1.2 -3.6-2.2 -2.1-.4 -7.6 .5 -2.7 .9 -2.9 .3 -2.9-.6 -1.8-1.5 -6.2-.1 -4.7 .7 -3.6-1.1 -1.7 1.5 -2.6 .9 -12.6 1.4 -4.7 1.3 -8.3 4.3 -1.6 1.7 -1.1 3 -1 .7 -1.5 .3 -3.4-.4 -6-3.8 -2.3-.7 -2.7-.3 -3.2 .1 -3.2 .6 -2.7 1 -5 2.3 -2.9 .7 -2.4-.2 -5.8-1.2 -10.9-.6 -3.5-.7 -2.6-1.1 -.9-.8 -.4-.9 0-2.7 -3.5-1 -.8 0 -2.1 1.6 -2.4 .6 -2.5 1.2 -2.4 .8 -1.8-.2 -1.8-1.1 -2.9-.3 -1.3-.7 -.9-.9 -2.2-4.1 -5.3-2.7 -2.3-.8 -5.9-1.3 -6.2-2.2 -3.2-.8 -2.6 0 -2.7 .4 -11.7 3.5 -5.3 2.2 -2.9 .8 -4.2 .7 -2.6-.1 -.9-.8 -.4-2.4 .7-1.2 1.5-1.5 1.7 .6 3.6-.1 2.3-.7 1.1-1.2 -.1-1.2 -1-.9 -1.7-.7 -2.1-.1 .7-1.8 -.4-.9 -2.9-.9 -11.2-1.4 -7.6-.2 -6.5 .1 -7.9 1 -6.5 0 -11.7 .7 -4.7-.5 -4.4-.1 -2.7 .3 -.7 .1 -.1 .3 .3 1.4 1.7 .3 3 0 .6 .4 -2.7 2 -.3 1.2 .6 1.1 1.2 .3 7.6 .2 1.5 .5 .4 .6 -.1 .3 -5.6 .2 -3.8-.5 -1.7-.6 -3.6-3 -.9-.4 -1.2 0 -4.2 2.5 -1.6 1.6 -.9 .5 -6.5-.2 -4.1 .6 -4.4-.2 -2 .2 -4.1 1.9 -1 2.3 -1.4 1.1 -1.8 .2 -3.8-.7 -1.6 .3 -1.8 1.2 -3 1 -4.9 2.2 -16 3.6 -2 1.2 -1.7 3.4 -1.3 1.4 -8.8-2.6 -7.3-1.4 -1.5 .3 -4.1 1.7 -.6 .9 -.6 1.9 -1 .8 -1.3 .4 -7.4 .9 -1.7-.3 -1.5-.8 -1.2-.1 -8.2 1.5 -4.7 .1 -3.5-.8 -2.4-1.3 -5.5 0zM123.7 24.5l1.2-.1 2.9 .4 2.4 .7 2 1.1 1 .8 .7 1.2 -.6 2.4 -1.1 .8 -1.4 .2 -1.8-.3 -2.6-1.3 -.9-.9 -.5-2.9zM395.5 34.2l1.2-.1 1.2 .3 .7 .7 0 .6 -.9 1.1 -2.7 1.8 -2.1 2.7 -5.8 1.1 -3.7 2.7 -2.2 1 -2.7-3 -3.9-1.3 -.5-.5 .5-.6 1-.5 4.7 .1 2.1-.3 1.3-.8 .7-1.8 .5-.3 2.2-.6 5.2-.5zM318.8 178l4.9 0 4.9 .8 4.2 1.3 4 2.1 -4.6-.2 -5.9 1.1 -2.9 .2 -10.9-.9 -.3-.2 .1-1.5 1.1-1.3 2-.8zM204.4 179.8l5.6-.2 12.4 .7 14.7 .1 9.6 1.8 9.7 1.1 2.4 .6 .1 .3 -4.8 .9 -20.9 1.9 -12.3 .9 -7.3 .3 -13 1.1 -7.6 2 -2.9 .4 -2-1.9 -2.1-1.1 -3.3-1 -8.3-1.7 -1.8-.9 -.5-.9 .4-.9 1.5-.9 4.9-1.1 4.1-.3 10.6 .1zM76.6 184.2l4.9 .2 3.4 1 .8 .6 .1 .6 -1 2.6 -4.5 1.3 -7.1 .8 -14.4-.6 3.9-1.6 6.9-3.4 3.4-1z"/>
<path fill="#dd5715" d="M-5.4 -5.4l433.6 0 0 36.4 -5.6 0 -1.8-1.5 -3.2 0 -2.6-.5 -3.3-1.3 -3.1-2 -6.6-2.2 -1.7-1 .9-2.4 -.1-1.5 -.8-.8 -1.2-.5 -2.9-.3 -3.3 .4 -2.3 .9 -2.7 2.2 -3.2 .2 -2.9-.2 -1.6-.4 -1.3-.9 -1.5-2 -2.4-.6 -1.7 .3 -2.4 0 -1.7 .5 -1.8 1.2 -1.8 2.2 -1.1 0 -3-.9 -2 0 -3.8 .5 -4.7 1.4 -2.7 .4 -10.6 .2 -2.5 .4 -1.9 .7 -3.2 2.2 -3.2 1.7 -3 1.3 -2 .5 -12.6 .2 -12.7 1.7 -17.6-.3 -2.3-.4 -1.5-.8 -.9-1 -.8-2 -.4-.3 -5.5 0 -2.7-1 -.8-.1 -.9 .4 -1.8 1.6 -1.7 .3 -5.6-1.8 -5.9-1.2 -1.5-.8 -5.5-4.2 -10-2.9 3.5-2.7 0-.5 -1.2-.5 -6.1 .1 -1.6 .4 -1.4 .7 -3.8-.7 -3.2 0 -2.4 .5 -5.8 2.1 -3.6 .4 -2-.6 -3.2-3.1 -1.8-.8 -2.1-.4 -1.3-1.4 -1.6-.6 -14.7-2.1 -12 0 -9.1 1 -6.5 .1 -11.4 .7 -5-.7 -5.6-.1 -17.3 1.1 -6.2 .8 -1.4 .5 -.6 .8 1.8 1.8 .5 .8 .1 1.2 -.6 .9 -2.4 .8 -2.9 0 -3 .5 -2.3-.4 -.9 .2 -.7 .7 -1.5 3.2 -.8 .6 -1.7 0 -2.4-1.4 -1.1-.3 -3.8 .3 -7.8-.1 -.4 .6 .8 2 -.1 .9 -2.6 2.4 -2.9 1.1 -5.3 .9 -10.5 .4 -16.5 2.9 -2.3 .8 -1.5 .9 -1.8 1.8 -1.4 2.6 -2.6 1.3 -2-.1 -5.1-2.8 -2-.5 -3.1 1.8 -2.8 1.2 -3 .7 -2.6 .1 -2.3-.5 -1.8-1.2 -.7-1.2 -.6-3.5 -1.1-1.6 -5.5 0zM56.5 16l-6.2 .6 -2.8 .6 -1.4 .9 -.2 .5 .1 .9 .8 1.2 2.4 2.3 3.5 .9 11.7-.9 .8-.5 .1-2.2 .9-.8 1.5-.1 2.6 .6 1-.2 -.3-.6 -2.2-1.4 -4.4-1.5 -3.2-.5zM253.4 27.4l2.1 .4 .6 .5 -.1 .6 -1.3 .9 -1.5-.1 -.6-.5 -.2-.9 .3-.6zM395.9 35.1l.9 .3 0 .6 -3.9 3.4 -1.7 0 -1.5-.4 -1.1-.7 -.5-.9 4.8-.8zM320.3 180.7l2.2-.2 2 .3 2.4 .6 1.2 .8 -4.7 .6 -5.3-.6 .7-.9zM204.9 181l6.6 .1 17.6 1.9 2.4 .5 1.6 .7 1 .9 .3 .9 -.3 .3 -7 .7 -26.7 1.9 -8.3 1.8 -2-1.6 -2.4-1.2 -8.7-2.5 -1.2-.6 -.4-.6 1-.9 3.2-.7 12-.3zM75.5 186l2.7 0 1.8 .8 .5 .9 -.3 2.1 -6.7 .9 -5-.3 .7-1.5 1.7-1.4 2.1-.9z"/>
<path fill="#cc481b" d="M-5.4 -5.4l433.6 0 0 30.7 -5.6 0 -8.8-1.5 -4.4 .2 -2.3-.7 -.4-.3 .6-.5 4.4-3 .4-1.2 -.1-1.1 -1.3-3 -1.3-1.5 -2.1-1 -3.2-.5 -12.9 .5 -14.1-.9 -4.1 .1 -3.6 1.1 -4.6 2.5 -1.4 1.5 -1.3 2.7 -11.4 1.1 -5.9-.4 -3.8-1.3 -3 .7 -7.3 .6 -2.9 .9 -5.7 4.2 -2.9 1.4 -2.6 .9 -6.5 .8 -16.4 .7 -10-.5 -2.6-.5 -2-1 -6.2-.9 -5-.2 -.5-.1 -1.3-2.3 -1.7-.7 -1.5 .2 -1.1 .7 -1.6 3.1 -10.2-2 -1.5-.5 -1.2-.8 -1.1-1.2 -.8-1.8 -1.6-1.2 -2.6-1 -6.2-1.7 -.3-.2 1.7-1.5 .3-.8 -.8-.9 -1.8-.4 -9.4-.3 -4.4-.9 -3.8-.4 -2.9 .3 -4.7 1.6 -1.8 .2 -6.2-2.3 -4.4-.5 -2.9-.9 -15.6-2.2 -12.3 .1 -8.2 1 -5.9 .1 -11.4 .7 -4.7-.7 -3.8-.2 -10.3 .2 -9.7 .5 -7.9 1.6 -1.2 .7 -.6 .9 .3 .9 1.8 1 .6 .7 -.1 .9 -1.4 .7 -1.2 .1 -2.6-.6 -2.1 .1 -1.7-.2 -1.2-.5 -1.2-1.4 -1.5-.1 -.8 .7 .2 1.5 -.3 1.8 .1 2.2 -.4 .7 -.8 .3 -3.7-2.1 -.8-1.4 -1.7-1.1 -2-1.9 -.9 0 -2.7 1.2 -1.4 .1 -3.3-.9 -3.5 0 -4.4-.9 -12.9-.1 -3.8-.5 -7.4-1.5 -3.2 .2 -1.5 .7 -1 1.5 -1.3 4.1 0 1.1 .3 .9 2.1 1.8 7 1.9 3.4 1.3 1 .6 -.5 .6 -2.4 1.2 -3.3 .8 -15.2 1.9 -4.1 0 -4.2-.8 -1.4 0 -.9 .6 -.4 1 -1.6 2.3 -1.9 2.1 -2.3 1.3 -2.3 .4 -1.3-.3 -1-.8 -1.4-3.3 -2.2-2.3 0-.6 .6-.7 1.2-.3 3.2 1 1.5 .1 .9-.4 -.1-.9 -1.7-.9 -7.1-2.1 -5.5 0zM80.5 18.6l3-.3 .5 .3 -1.4 .4 -2.2-.1zM202.5 182.4l5.5-.2 6.4 .8 8 1.8 1.9 .9 .6 .9 -4.6 .5 -19.9 1.4 -5.9 1.2 -6.2-4 -.5-.6 .2-.3 1.2-.4z"/>
<path fill="#c33b17" d="M-5.4 -5.4l147.2 0 .1 6.1 -.6 1.8 -1.9 1.5 -3 1 -7.3 1.9 -9.2 0 -4.4-1 -2.9-.4 -4.1 .4 -2.1 1 -.5 .6 -.3 .9 -3.6 1.5 -2.3 2.3 -2.1 .6 -4.7-1 -5.6-.5 -9.7 .3 -10.8-.9 -10 .2 -3.5-.2 -4.1-.9 -6.8-3.1 -5-.8 -25.2 .2 -17.6-.2zM187.8 -5.4l240.4 0 0 11.2 -11.2 0 -13.2 .6 -20 .1 -9.4-.5 -4.1 .2 -3.2 .9 -5 3.1 -2.9 1.1 -2.7 .3 -6.7-.4 -2.7 .4 -2.3 1.4 -1.8 2.3 -3.5 .9 -5.9 .3 -2.9-.3 -7.3 0 -2.1 .3 -2.9 1.6 .6 2.3 -1.2 1.8 -2.4 1.5 -3.2 1 -2.9 .3 -3-.3 -1.5-.8 -.5-.9 .1-.8 -.5-.3 -2.9-.8 -3.2 .5 -2-1.3 -1.5-.3 -1.2 .4 -.9 .8 -.4 1 -.5 2.3 -1.2 .9 -2.3 .2 -4.1-.7 -2.9 .4 -3.2 0 -7.1-1 -.5-2.1 -.7-1.2 -1.7-1 -2.7-.5 -3.5 .2 -2.6 1 -1.2 1.2 -.9 2.4 -6.1-1 -1.3-.5 0-2.4 -1.2-1.8 -2.8-1.6 -6.8-1.9 -.3-.3 .5-1.7 -.8-.9 -2.6-.8 -5.9-.7 -14.7-4.7 -2.9-.4 -2.9 .1 -8.5 1.5 -3.6 .3 -3.5 0 -2.6-.6 -1.8-1.1 -.8-1.8zM277.9 17.7l-1.8 .8 -1.5 1.3 -.9 1.5 .3 .8 1.2 .3 1.3-.5 3.2-3.8 -.7-.5zM10.7 17.2l6.8-.1 3.8 .6 2 1.2 .7 1.2 .2 1.2 -3.8 1.9 -6.5 2.3 -2.6 1.7 -7-1.8 -4.2-1.7 -5.5 0 0-3.7 5.5 0 1.8-1.2 2.1-.8zM422.5 20.4l5.7 0 0 3.2 -5.6 0 -3.6-.8zM203 183.9l3.8-.2 3.7 .5 3.1 1.2 .5 .6 .1 .6 -.1 .3 -2.9 .3 -12.6 1 -1.5-.8 -.7-.8 .3-.9 1.1-.6z"/>
<path fill="#a02116" d="M222.4 -5.4l105.9 0 0 6.7 .8 2.1 1 .9 1.5 .8 7.6 2.2 1.3 1.1 .3 1.1 -1.9 4.8 -.9 .5 -1.7 0 -2.4-.5 -4.4-2.3 -3.2-1.1 -1.5-.1 -4.4 2.2 -1.4 1.2 -.8 1.5 -4.5 2.9 -1.5 .6 -6.7 1.3 -3.6-1 -2.6-1.2 -3.2 0 -3 .6 -1.2 .6 -1.5 1.5 -1.2 2.3 -.8 .6 -1.1 .2 -3.6-.3 -3.2 .8 -2.8-.1 -1.2-.3 -.4-.6 3.8-4.2 3.3-2.2 .2-.3 -.3-.2 -2-.2 -3.5 .6 -1.8 .8 -2.9 1.9 -2.1-1.1 -3.2-.7 -12.9-.5 -5.6-2 -7.4-1.9 -.7-.2 .1-1.2 -.8-.7 -3.3-1.1 -3.2-2.2 -7.1-2.5 -3.1-2 -.8-1.2 -.4-1.2z"/>
<path fill="#88151a" d="M274 4.6l28.8-.6 11.5 .7 2.3 .6 1.5 .7 .8 .9 .2 1.2 -.8 1.7 -4 4.4 -.5 1.2 .1 1.2 -.6 .6 -2 1 -5 .6 -1.4-1.4 -1.5-.8 -4.4-.9 -3.5-.1 -3.6 .4 -1.4-.8 -1.8-.1 -6.7 .4 -5.6 1.1 -15-1 -2.9-.7 -5-1.9 -5.7-1.7 -1.5-.9 -.7-1.2 .2-1.1 1.2-1.2 1.8-.8 2.3-.5 3.6 0 8.2 .8zM280 22.5l1.1 0 .7 .5 -1.6 .5 -1.3-.2 -.1-.3z"/>
<path fill="#741d1d" d="M297.5 5.7l6.5 0 5.9 .8 3.1 1.3 .7 .9 0 .8 -.9 1.5 -2.1 1.7 -2 .9 -2.4 .4 -21.1-1.2 -15.3 .3 -2.3-.3 -.7-.3 -.4-.6 .8-1.2 2.5-1.7 2.2-1.1 2.4-.7 3.8-.4 8.8 .2z"/>
<path fill="#591e1c" d="M297.9 7.5l3.7-.2 3.9 .5 2.3 .8 .6 .9 -.6 .9 -1.5 .8 -4.4 .6 -5.6-.5 -2-.6 -1.3-.9 0-.6 1-.7z"/>
<rect x="-1" y="210.6" width="426" height="1.2" fill="#fff" fill-opacity="0.55"/>
<path d="M14.1 28.7L18.8 27.6L21.1 27.9L19.4 26.8L15.9 25.5L19.4 24.4L21.7 23.1L27.6 22.0L32.9 22.5L37.6 23.1L43.4 23.5L48.1 24.1L51.7 24.7L54.0 24.1L55.2 24.1L59.9 23.5L61.1 22.9L64.6 24.1L69.3 23.7L74.0 24.7L76.9 25.6L78.7 26.1L83.4 26.2L84.5 27.2L85.7 25.8L89.2 25.8L92.8 26.1L96.3 26.1L97.5 25.2L98.6 24.1L98.6 22.0L100.4 21.1L102.7 22.9L103.9 24.1L105.7 25.2L108.0 26.4L109.2 26.7L111.0 25.2L111.6 23.7L115.1 23.7L115.9 25.2L115.1 26.4L115.9 27.0L113.3 27.9L110.4 27.8L110.4 29.4L108.6 30.2L105.7 30.9L102.7 31.9L101.0 33.7L100.2 35.2L100.8 36.6L102.2 36.8L102.7 38.8L105.7 38.8L108.6 39.9L111.6 40.7L114.7 41.0L114.8 43.4L115.7 44.4L116.8 45.4L118.6 45.2L119.0 44.0L118.6 42.0L118.0 41.5L120.9 40.2L121.5 39.3L121.3 37.9L119.2 36.8L120.4 35.6L120.4 34.1L119.8 32.4L122.7 32.5L125.1 32.4L127.2 33.5L129.4 34.1L129.8 35.8L129.8 36.6L131.5 37.0L133.9 36.6L135.0 34.9L136.2 35.8L138.0 37.6L139.1 39.3L140.9 40.7L143.3 41.5L144.1 42.3L145.6 43.4L146.0 44.6L144.7 45.2L142.7 45.6L140.9 46.7L137.4 46.6L133.3 46.7L132.3 47.8L130.8 48.4L129.5 49.6L128.0 50.7L129.2 50.5L131.5 48.8L133.3 48.0L135.6 48.1L135.9 48.7L134.5 49.3L135.3 50.5L135.4 51.4L136.6 51.7L138.6 51.9L139.4 52.1L140.6 50.5L141.1 51.7L139.7 52.6L136.8 53.3L134.5 54.6L133.6 54.3L133.9 53.4L135.6 52.5L134.1 52.6L132.7 52.8L132.7 53.3L130.9 53.7L129.2 54.3L128.3 55.2L128.2 55.8L129.2 56.4L128.5 57.0L127.4 57.1L125.6 57.3L124.5 58.0L124.5 58.7L123.9 59.5L123.3 60.0L122.7 59.4L123.2 60.6L122.5 61.9L122.1 62.4L121.7 61.1L121.5 62.2L122.2 62.8L122.7 64.2L121.5 64.9L120.0 65.8L118.6 66.6L117.4 67.4L116.3 68.3L115.8 69.9L116.7 72.2L117.3 74.2L117.2 75.7L116.1 76.2L115.3 75.2L114.3 73.2L114.3 71.9L113.1 70.6L112.4 70.5L111.2 70.8L110.1 70.0L108.0 70.1L106.6 70.1L106.2 71.4L106.6 71.6L105.1 71.5L103.6 70.9L101.2 70.8L99.8 71.4L97.5 72.8L97.0 74.0L97.2 75.3L96.6 76.9L96.5 79.3L97.2 81.4L98.3 83.0L99.8 83.8L100.5 84.3L102.4 84.0L103.9 84.0L104.9 82.8L105.2 81.3L105.7 80.8L107.4 80.4L109.2 80.4L109.4 81.3L108.6 82.4L108.4 84.0L107.9 84.2L107.7 85.1L107.7 86.3L107.0 87.0L108.0 87.2L109.8 87.1L111.6 86.9L113.3 87.7L113.7 88.2L113.3 89.8L113.2 91.1L113.1 92.8L113.5 93.6L114.5 94.5L115.3 95.1L116.3 95.3L117.4 94.9L118.0 94.4L119.2 94.6L120.5 95.5L121.2 96.3L122.7 93.2L123.5 92.6L125.6 92.2L127.4 91.1L127.6 92.2L127.2 93.0L128.9 92.2L129.2 91.4L130.9 92.3L131.5 93.4L133.9 93.2L136.2 93.6L138.6 93.1L139.7 94.5L140.9 95.7L142.7 97.5L144.4 98.6L146.8 98.8L150.3 100.0L151.5 101.0L152.7 103.6L152.7 105.7L154.4 106.3L155.0 106.5L159.1 108.6L162.6 109.1L164.4 109.0L166.2 110.0L167.9 111.4L170.0 112.1L170.5 115.1L169.7 116.8L167.9 118.6L166.2 120.9L165.6 123.3L165.3 126.2L164.7 128.6L164.0 129.8L162.2 132.6L160.6 132.7L157.0 133.9L154.4 136.0L154.3 138.0L153.2 139.7L152.1 142.1L150.3 143.5L148.7 145.3L146.9 146.7L145.4 146.7L142.8 145.6L144.2 147.4L144.8 148.5L143.8 150.3L142.1 151.1L138.6 151.4L138.2 153.2L135.0 153.8L136.6 155.6L135.0 156.2L134.5 158.5L132.1 159.7L132.7 160.3L134.1 161.1L134.0 161.8L132.1 163.8L130.9 164.7L130.3 166.2L131.0 167.1L129.8 167.3L128.0 168.9L126.8 168.5L125.1 167.3L123.9 165.6L122.7 163.2L122.7 160.9L122.6 160.5L124.5 159.1L125.6 157.3L124.8 155.0L125.1 154.4L124.8 152.1L125.1 149.4L125.5 148.9L126.2 147.4L127.3 144.4L127.4 140.9L127.6 138.6L128.6 135.5L128.7 133.4L128.9 130.3L128.8 127.3L127.4 126.0L125.1 124.8L123.1 123.6L121.8 122.0L120.8 119.8L119.5 117.4L118.6 115.1L117.5 113.7L116.0 112.7L115.9 111.2L117.1 109.7L117.5 108.6L116.4 108.3L116.4 106.9L117.3 105.7L117.4 104.7L118.8 104.0L118.8 103.6L120.4 102.6L120.8 101.1L120.4 99.2L120.5 97.8L119.9 97.2L119.5 95.9L118.0 95.1L117.0 95.9L117.0 97.1L115.4 96.9L115.7 96.3L114.0 96.1L113.1 95.7L111.9 94.4L110.6 93.9L110.7 92.8L109.8 91.6L108.5 90.4L108.3 90.1L106.3 89.8L103.9 89.2L102.2 87.5L100.4 86.7L98.0 87.2L94.1 86.0L91.6 84.5L89.2 83.4L87.2 81.7L87.7 80.4L86.4 78.4L84.0 76.0L82.8 74.8L81.1 72.9L79.6 71.6L78.7 69.3L76.6 68.3L76.9 70.5L78.7 72.2L80.4 75.2L81.8 77.3L82.3 78.8L79.8 76.7L79.6 75.2L77.3 73.7L76.3 73.0L77.3 72.2L75.5 70.5L74.3 68.5L73.7 67.3L72.2 65.8L69.8 65.2L68.2 62.7L67.5 61.3L66.0 59.3L65.3 58.2L65.5 55.2L65.8 51.4L64.9 48.8L67.5 49.3L66.7 47.8L64.6 46.6L61.6 45.8L61.1 44.0L58.7 41.7L57.0 40.5L54.6 38.2L51.7 37.1L47.3 35.8L42.3 35.2L39.3 34.1L37.0 35.2L33.5 36.2L35.2 33.8L32.3 34.6L31.1 35.8L29.9 37.2L27.6 38.8L25.2 39.9L22.3 40.9L19.4 41.3L17.8 41.6L20.5 40.2L22.9 39.3L25.8 38.2L27.0 36.6L24.7 37.0L21.1 36.8L21.1 35.2L17.0 34.1L16.4 32.9L18.2 31.7L22.3 30.5L22.3 29.6L20.0 29.9L17.0 29.9ZM205.1 63.5L207.8 64.2L209.0 64.5L211.4 63.6L214.9 62.5L217.2 62.5L220.2 62.2L222.9 61.9L224.3 62.2L223.7 62.9L223.8 64.0L224.0 64.9L223.2 65.9L224.4 66.7L226.9 67.0L229.2 67.6L230.9 69.0L232.5 69.5L233.9 70.1L234.8 69.3L235.0 68.0L236.6 67.0L238.4 67.4L239.5 68.1L240.7 68.6L243.1 68.8L245.4 69.4L246.6 69.0L247.8 68.6L249.3 68.9L251.3 69.0L251.9 68.7L252.5 67.2L253.1 65.9L253.4 64.0L253.9 62.7L253.1 62.7L252.0 62.5L250.7 63.3L249.9 63.4L247.4 62.4L247.2 63.1L245.7 63.1L244.2 62.5L243.5 62.2L243.3 61.1L242.8 60.6L242.7 59.5L242.1 59.3L242.1 58.7L241.9 58.0L241.8 57.8L240.0 57.7L239.5 58.5L239.0 58.8L238.3 58.1L237.9 58.8L238.4 59.5L238.7 60.4L239.5 60.8L239.5 61.4L238.6 61.2L238.6 61.8L238.3 62.8L237.6 62.8L236.8 62.5L236.1 61.3L237.0 60.7L236.1 60.6L235.7 59.9L235.1 59.2L234.1 58.4L234.1 57.1L233.7 56.2L232.5 55.5L230.6 54.6L229.2 53.8L228.9 52.8L227.7 53.1L227.3 52.3L227.5 52.0L225.8 52.5L225.9 53.0L226.0 54.0L227.2 54.5L228.0 55.8L230.4 56.5L230.2 57.1L231.3 57.4L232.5 58.0L233.1 58.6L233.0 58.9L231.3 58.1L230.9 59.1L231.4 59.9L230.7 60.6L230.2 61.2L229.8 61.1L229.9 60.1L230.3 59.7L229.7 58.6L228.7 58.0L228.0 57.8L227.3 57.3L226.5 57.2L225.7 56.7L224.4 55.9L223.7 55.2L223.5 54.6L222.9 53.9L221.8 53.5L220.9 54.1L219.9 54.4L218.4 55.1L217.6 54.8L216.6 54.7L215.5 54.8L214.9 55.3L215.0 55.9L215.2 56.0L213.9 57.1L212.5 57.5L212.3 57.9L211.0 59.3L211.6 60.1L210.8 60.7L210.4 61.5L208.8 62.6L206.2 62.6L205.0 63.3L204.8 63.4L204.0 62.8L203.1 62.0L202.0 62.2L200.8 62.2L201.0 60.6L200.2 60.1L200.8 58.7L201.1 57.3L200.9 56.1L200.4 55.2L201.5 54.7L202.1 54.3L204.7 54.5L206.9 54.6L207.8 54.7L209.3 54.7L209.6 54.6L210.0 53.2L210.1 52.1L210.0 51.4L209.0 50.7L208.8 50.1L208.1 49.9L206.2 49.6L205.7 48.8L206.7 48.5L207.8 48.4L209.0 48.6L209.5 48.5L209.5 47.4L210.0 47.7L211.1 47.8L211.5 47.6L212.7 47.1L213.2 46.1L213.6 45.8L214.8 45.6L216.1 44.6L216.9 43.6L217.7 43.2L219.6 43.0L220.8 42.7L221.5 42.4L221.8 42.2L221.5 41.2L221.1 40.5L220.9 39.3L221.5 38.6L223.8 37.9L223.7 38.5L223.5 39.2L224.2 39.5L223.3 39.8L222.9 40.5L222.6 41.1L223.1 41.7L224.2 42.3L225.5 42.0L227.2 41.7L228.0 42.4L230.4 41.9L232.5 41.3L233.3 41.8L234.6 41.7L234.8 41.2L236.0 40.7L236.1 40.3L236.0 39.0L236.6 38.2L237.9 37.9L238.6 38.8L239.5 38.8L240.0 37.8L240.0 37.1L239.0 36.8L238.8 36.2L240.5 35.8L244.2 35.8L246.8 35.3L245.4 35.0L244.8 34.5L242.5 34.8L240.7 35.0L238.4 35.5L237.2 34.8L236.5 34.1L236.4 32.9L236.4 31.6L238.4 30.6L240.1 29.7L241.2 29.4L240.3 28.5L239.7 28.4L237.4 28.7L236.6 29.8L235.4 30.8L233.7 31.5L232.5 32.3L231.8 32.4L231.6 33.2L231.6 34.4L233.1 35.0L233.4 35.8L232.3 36.6L231.1 36.9L231.0 37.8L230.6 39.1L230.2 39.7L229.7 39.7L228.4 39.9L228.0 40.6L226.5 40.5L226.3 39.9L226.5 39.2L225.3 37.9L224.5 36.6L223.8 35.5L223.7 36.2L222.5 36.5L220.8 37.5L219.6 37.6L217.9 36.5L217.5 34.8L217.2 33.5L217.5 32.6L218.6 32.3L219.6 31.7L221.3 31.1L222.9 30.9L223.1 30.3L224.3 29.5L225.8 28.5L226.3 27.7L228.3 26.7L229.0 25.8L230.7 25.2L233.7 23.8L235.8 23.4L239.2 22.7L241.7 22.2L244.2 22.3L247.8 23.0L245.4 23.6L246.6 23.8L250.1 24.3L253.6 24.5L256.0 25.5L258.9 26.4L259.5 27.4L258.3 27.9L256.0 28.1L252.5 27.6L249.5 26.9L250.7 27.6L252.2 28.8L252.1 29.9L254.8 30.6L256.0 30.2L254.2 29.4L255.4 29.2L257.7 29.8L258.9 29.8L258.3 28.8L260.7 27.7L263.0 28.2L263.0 27.0L262.8 25.4L262.2 25.1L265.4 25.5L265.4 27.1L266.6 27.0L268.3 26.2L271.3 25.4L273.6 24.8L274.8 25.5L275.9 25.2L279.5 24.8L281.8 25.0L282.4 23.8L283.0 23.7L287.1 24.7L287.7 25.2L290.0 24.9L291.8 25.5L291.8 23.5L289.7 22.3L291.8 21.1L292.4 20.0L293.6 19.6L295.9 20.1L296.9 21.1L296.5 22.3L296.9 24.1L297.9 25.2L295.3 27.0L295.9 27.8L298.3 27.0L298.8 25.2L300.6 24.7L298.3 23.5L298.3 21.7L300.0 20.8L303.0 20.8L305.3 21.0L307.1 21.4L308.8 22.9L308.8 21.7L306.5 20.0L306.5 19.3L310.6 19.0L313.5 18.8L313.5 17.6L318.2 16.8L321.7 16.3L325.3 16.4L327.6 15.9L330.0 15.3L333.8 14.4L335.8 14.8L337.0 15.9L340.5 15.6L344.1 16.4L340.5 18.8L335.8 20.0L340.5 18.9L344.1 19.0L344.6 19.5L352.3 20.0L355.8 19.1L360.5 19.4L362.8 20.0L362.8 21.4L365.2 22.3L367.5 21.7L372.2 21.7L375.8 20.5L376.9 20.2L382.8 20.7L387.5 21.7L391.0 22.3L395.7 22.3L399.2 23.8L401.6 24.0L411.0 24.7L411.6 23.5L414.5 23.7L418.0 23.8L422.7 24.7L422.7 29.4L421.0 29.9L419.8 29.7L421.6 31.5L421.9 32.3L419.2 32.3L415.7 33.1L413.3 34.1L411.6 35.2L411.3 35.3L407.5 34.8L404.5 35.3L403.1 35.5L403.1 37.6L401.6 37.8L403.1 39.7L401.4 41.1L399.2 41.7L399.2 43.2L397.5 43.6L397.2 44.6L395.4 45.8L394.5 44.0L394.0 41.1L394.3 39.0L395.7 37.8L398.1 37.0L401.0 34.9L403.4 33.5L403.9 32.3L401.6 33.5L399.2 33.1L399.2 34.5L395.4 33.3L393.4 35.8L389.9 36.5L388.4 35.8L386.3 35.8L382.2 35.9L379.3 36.0L375.8 37.9L373.4 39.6L372.5 41.3L370.1 41.5L372.2 42.3L373.4 42.5L375.5 42.0L377.4 43.1L376.9 44.3L377.4 44.7L376.7 45.2L376.6 46.4L376.2 48.1L376.1 48.3L374.0 50.7L371.7 52.8L370.5 53.7L368.1 55.3L366.4 55.0L365.0 55.8L364.0 56.4L363.7 57.2L363.8 57.8L361.7 58.7L361.1 59.5L362.1 60.5L363.3 62.2L363.4 63.4L363.1 64.3L361.7 64.7L359.9 65.3L359.8 64.0L360.1 62.5L360.0 61.6L358.5 61.3L358.1 60.5L358.5 59.3L357.4 58.7L355.8 59.1L354.0 60.0L354.0 59.3L354.9 58.1L353.4 57.5L351.7 58.9L349.9 59.7L349.6 59.9L350.5 60.8L351.1 61.6L353.1 61.3L355.2 61.8L355.0 62.4L353.2 62.8L352.6 63.4L351.5 64.2L351.3 64.8L352.6 65.5L353.4 67.4L354.4 68.5L354.4 69.4L352.9 70.1L354.6 70.7L354.2 72.2L353.2 72.8L352.3 74.2L351.8 75.2L350.7 76.6L350.0 77.0L348.4 78.3L345.8 79.1L345.5 79.5L344.6 79.6L342.9 80.1L341.1 80.7L340.9 81.8L340.3 80.4L338.8 80.2L336.8 81.3L335.8 82.4L335.6 83.6L336.4 84.8L337.6 86.2L338.4 86.8L339.4 88.7L339.7 90.4L339.6 91.8L338.2 93.0L337.0 93.5L336.7 94.4L335.0 95.5L334.7 93.9L333.5 93.4L332.9 93.2L332.1 91.9L331.5 91.4L330.0 90.8L329.4 89.8L328.8 90.4L328.8 91.6L328.2 92.8L327.9 94.8L328.8 95.7L329.4 97.2L330.6 97.7L331.5 98.4L332.8 100.0L332.8 102.2L333.7 104.0L332.9 104.2L331.7 103.2L330.3 102.2L329.4 100.4L329.1 98.9L328.8 98.0L328.2 97.1L327.0 96.3L326.8 96.1L327.0 94.5L327.1 92.8L327.0 91.0L326.7 89.2L326.1 87.5L326.0 86.3L324.7 86.3L323.4 87.1L322.1 86.9L322.3 85.1L321.7 83.4L320.6 82.2L319.7 81.0L319.2 79.5L317.6 79.3L315.9 80.0L313.5 80.4L313.3 81.6L311.8 82.5L310.0 84.0L308.0 86.0L306.5 87.0L305.5 88.1L305.7 90.3L305.2 92.8L305.1 93.6L304.1 94.8L303.2 95.2L302.4 96.2L301.2 95.1L300.6 93.4L299.8 91.6L298.8 89.5L298.3 88.1L297.4 85.7L296.9 83.4L296.7 81.6L296.6 80.4L296.5 79.8L296.1 80.8L294.7 81.3L293.6 81.0L292.4 79.6L293.9 78.7L291.8 78.1L290.6 77.5L290.0 76.6L289.5 75.9L286.5 76.0L283.6 76.2L280.6 75.9L278.6 75.5L278.1 74.0L275.9 74.3L274.2 74.3L272.4 73.2L271.0 71.6L270.1 70.2L268.9 70.0L267.7 70.5L267.7 71.2L268.6 72.6L270.1 74.3L270.3 75.5L271.3 75.2L272.0 76.3L271.6 77.1L273.0 77.3L275.1 77.0L276.3 76.0L277.2 74.9L277.6 76.3L278.1 77.3L280.2 78.0L281.6 79.3L280.4 81.6L279.2 83.4L278.3 84.5L276.3 85.4L274.8 85.7L272.7 86.9L269.5 88.4L267.1 89.6L264.2 90.7L262.4 90.8L262.1 89.8L261.6 88.1L261.4 86.3L260.1 84.5L258.9 82.8L257.4 81.0L257.3 80.4L256.6 78.1L255.2 76.3L253.6 74.6L252.5 72.8L252.5 71.0L251.6 73.0L249.6 70.5L250.7 72.8L251.3 74.2L252.5 76.3L253.3 77.7L254.7 79.8L255.0 81.6L255.2 82.7L256.6 84.5L257.7 87.1L259.5 88.7L261.3 90.4L262.2 91.1L262.1 92.2L263.0 93.4L264.2 93.4L266.6 92.5L268.9 92.4L271.5 91.7L271.4 93.4L271.0 94.5L269.8 96.3L268.3 99.2L267.1 101.0L264.7 103.3L262.4 105.1L260.7 106.9L259.5 108.0L258.6 109.2L258.0 110.4L257.2 112.1L257.5 113.7L257.7 115.7L258.3 117.4L258.9 118.6L259.0 120.9L259.3 122.7L258.9 123.9L258.1 125.1L256.0 126.0L254.8 126.8L253.6 128.0L252.3 128.9L252.9 130.9L253.1 133.3L252.6 134.5L250.1 135.6L249.6 136.2L250.0 138.0L249.4 139.5L247.8 140.8L246.6 142.4L244.8 144.1L243.1 145.1L241.5 145.6L239.5 145.7L237.2 145.8L234.8 146.5L233.0 145.8L232.9 144.1L232.7 142.7L231.7 140.9L230.7 139.3L229.8 138.0L229.0 136.2L228.4 133.9L228.4 132.6L227.2 130.3L226.0 127.8L225.2 126.0L225.2 124.5L225.8 123.3L226.3 121.5L227.3 120.4L227.6 118.6L226.9 116.0L226.4 113.9L225.8 112.7L225.5 111.6L224.6 110.4L223.1 109.0L221.9 107.1L221.7 106.5L222.4 105.2L222.6 103.9L222.9 102.4L222.5 101.1L221.7 100.4L220.8 100.4L219.6 100.5L218.4 100.6L217.2 99.2L216.6 98.3L215.4 98.2L213.7 98.3L212.5 98.8L211.4 99.2L209.0 100.0L207.8 99.7L206.7 99.6L204.3 100.0L202.6 100.5L200.8 99.8L198.7 98.3L196.7 97.0L195.9 95.7L195.3 94.5L193.8 92.8L192.6 91.6L191.8 91.1L191.6 89.8L190.8 88.4L192.0 86.9L192.2 84.5L192.2 82.8L191.4 81.0L192.0 79.3L192.6 77.9L193.8 76.3L194.3 74.8L196.1 73.2L197.3 72.6L199.4 71.3L200.0 69.9L199.9 68.7L200.4 67.5L202.4 66.2L203.4 65.8L204.1 64.3L204.4 63.6M0.0 24.8L3.5 25.6L8.2 27.0L12.0 28.1L10.6 28.8L8.8 30.1L5.9 29.6L4.7 28.8L1.8 27.9L1.2 28.4L0.0 29.4M378.7 118.2L379.9 120.4L380.2 122.5L382.0 123.3L382.6 125.6L383.2 128.0L385.7 129.4L386.7 130.7L388.4 132.7L390.4 135.0L391.3 136.0L391.3 138.0L391.7 139.4L391.0 142.1L390.4 143.6L389.0 145.5L388.3 147.0L387.5 148.9L387.5 149.7L385.2 150.2L383.3 151.6L381.3 150.7L379.9 151.2L377.5 150.8L375.8 149.7L375.2 148.0L374.0 146.8L373.1 147.0L372.2 147.0L373.2 144.4L370.9 146.5L369.9 145.4L368.9 144.2L368.1 143.5L365.8 142.7L362.8 142.9L359.3 143.6L357.0 144.4L354.6 145.5L352.3 145.6L349.9 146.8L346.5 146.1L346.6 145.1L347.2 143.3L346.4 140.9L345.9 139.5L345.2 138.0L344.6 136.2L344.9 134.5L345.0 132.1L345.3 131.3L346.4 130.9L348.5 129.9L350.6 129.5L352.9 128.9L354.0 128.0L354.9 126.8L355.0 125.6L356.4 125.1L356.7 126.0L357.6 124.5L358.7 122.7L360.3 122.0L361.7 123.1L362.8 123.2L363.5 122.1L364.6 120.5L365.1 120.2L366.4 120.0L367.1 119.0L368.1 119.5L369.9 120.0L371.7 119.7L372.1 120.1L371.1 121.3L370.8 122.9L371.7 124.2L373.2 124.8L374.8 126.0L376.3 126.3L376.8 126.2L377.5 123.9L377.6 121.5L377.9 120.1L378.2 118.8ZM126.2 13.9L133.9 12.3L135.0 10.6L140.9 9.4L150.3 8.9L158.5 8.6L164.4 7.8L172.6 7.5L179.7 7.9L186.7 8.8L197.3 10.0L193.8 11.7L190.2 12.3L189.1 14.1L190.2 15.5L187.9 16.4L188.5 17.6L186.7 18.8L185.5 20.2L182.6 20.8L185.5 21.7L185.5 22.9L183.2 23.5L180.8 25.0L176.1 25.7L172.6 27.0L169.1 28.3L166.7 28.7L164.4 29.4L163.2 31.1L161.5 32.9L160.9 34.6L159.7 35.3L157.3 34.4L154.4 33.8L152.7 32.3L150.9 30.5L150.3 29.9L148.5 27.6L148.5 25.8L151.5 24.4L147.4 23.1L147.4 21.7L145.6 20.0L143.8 18.2L140.9 16.7L136.2 16.3L130.9 16.4L128.0 15.3L129.2 14.3ZM139.1 27.4L136.2 25.8L132.7 24.1L130.9 22.9L128.0 21.7L123.3 20.5L119.8 20.0L116.3 19.1L111.6 19.0L106.3 20.0L106.3 22.3L108.0 23.1L111.6 23.5L116.3 23.5L119.8 23.5L123.3 25.2L125.6 25.8L125.1 27.6L124.5 29.4L119.8 29.9L120.4 30.5L123.9 29.9L126.8 30.8L129.2 31.9L131.5 32.6L133.9 33.0L135.0 32.3L132.1 31.1L135.0 31.5L135.6 30.5L132.7 28.2L136.2 29.0L137.4 29.4ZM72.8 22.3L74.0 20.0L78.7 20.2L82.2 20.0L85.7 19.4L88.1 20.0L88.1 21.7L91.6 22.9L92.2 23.8L91.6 24.7L86.9 24.8L82.2 25.0L78.1 25.1L75.2 24.3L73.4 23.3L76.3 22.9ZM64.0 21.1L65.8 18.4L68.7 18.2L72.8 19.0L75.2 19.7L71.6 21.1L68.1 22.0L66.3 22.0ZM122.1 15.9L117.4 16.1L106.9 15.9L104.5 14.1L109.2 12.9L103.3 11.2L102.2 10.2L111.6 8.8L123.3 8.1L131.5 8.2L138.6 8.8L136.2 10.0L131.5 11.2L126.8 12.3L122.1 13.2L123.3 14.1L119.8 15.3ZM117.4 17.0L111.6 16.9L103.3 16.2L103.3 17.8L108.0 18.2L115.1 18.2L117.4 18.0ZM109.2 13.9L101.0 12.3L99.8 11.2L105.7 10.6L109.2 11.5ZM74.0 17.0L75.2 16.1L82.2 16.1L86.9 16.4L86.9 17.6L82.2 17.8L77.5 18.0ZM91.6 20.0L93.9 19.0L97.5 19.7L97.5 21.1L95.1 21.7L91.6 21.1ZM98.6 19.4L99.8 18.8L104.5 18.8L105.1 20.0L102.2 20.8L99.2 20.5ZM89.2 17.0L93.9 15.9L96.9 16.7L96.3 17.6L91.6 17.6ZM109.2 28.8L112.7 28.4L116.3 29.9L116.8 30.9L113.9 31.4L111.0 31.1L109.2 30.5ZM94.5 24.4L97.5 23.7L99.2 24.7L96.9 25.2ZM141.8 49.8L144.0 46.1L146.2 45.1L145.8 46.4L145.6 47.0L146.8 47.6L148.5 47.8L149.1 48.7L149.5 49.9L148.5 50.8L148.0 49.9L146.2 50.5L145.6 49.8ZM111.7 80.0L113.9 78.7L114.7 78.4L117.4 78.7L119.8 79.5L122.1 80.8L124.2 81.8L122.7 82.3L120.1 82.3L120.7 81.5L119.2 81.0L117.4 80.2L115.7 79.6L114.1 79.1L113.3 79.6ZM124.0 84.1L125.9 84.0L126.5 83.7L125.9 83.0L125.2 82.4L127.2 82.4L129.2 82.5L130.1 83.1L131.0 83.8L130.3 84.1L128.6 84.2L127.4 84.9L126.8 84.3L124.7 84.4ZM119.4 84.1L121.8 84.4L121.2 84.8L119.5 84.5ZM132.5 84.1L134.2 84.2L134.1 84.5L132.5 84.5ZM60.7 46.0L64.0 46.7L66.3 48.7L64.6 48.4L62.8 47.6ZM55.2 42.3L56.6 42.3L57.2 44.3L55.8 43.4ZM29.9 38.2L32.3 37.2L32.6 38.3L30.5 39.0ZM10.0 31.1L12.9 31.5L12.9 31.7L10.0 31.5ZM28.2 82.0L29.4 82.5L28.5 83.4L28.2 82.7ZM27.4 81.0L28.2 81.3L27.7 81.5ZM25.6 80.3L26.2 80.6L25.8 80.7ZM23.8 79.6L24.3 79.7L24.1 80.0ZM182.6 28.8L184.9 27.7L187.3 28.7L190.2 27.9L192.6 27.6L194.3 28.2L195.4 29.1L194.0 30.2L190.8 30.9L189.1 31.2L186.7 30.8L184.7 30.8L185.5 30.1L183.2 29.5L185.3 29.0ZM204.7 46.9L207.3 46.7L207.3 46.3L210.2 46.1L212.9 45.7L212.3 45.2L213.4 43.9L211.7 43.4L211.4 42.7L210.0 41.6L209.5 40.5L208.8 39.9L207.8 39.9L209.0 38.2L209.3 38.0L206.7 38.0L207.8 36.9L205.5 36.9L204.6 38.2L204.8 39.3L204.8 40.7L205.7 40.5L205.5 41.5L207.3 41.2L207.8 42.3L207.8 43.0L206.1 43.1L205.8 43.7L206.7 44.0L205.3 44.7L207.8 45.2L208.2 45.1L206.4 45.6ZM199.6 45.1L204.0 44.4L204.3 43.1L204.9 41.7L204.3 40.9L202.6 40.7L201.4 41.7L199.6 42.0L199.6 43.0L200.8 43.3L199.9 44.4ZM224.3 12.3L230.2 11.7L234.8 12.0L236.6 13.5L233.1 14.7L231.3 15.7L227.8 14.7L224.3 13.5ZM232.5 11.5L238.4 11.2L243.1 11.5L240.7 12.6L234.8 12.3ZM236.6 13.9L239.5 14.3L237.8 14.9L236.0 14.6ZM271.8 21.7L273.6 22.5L278.3 22.8L276.5 21.1L278.9 19.4L280.1 18.4L284.2 17.3L291.2 16.2L292.4 15.5L288.9 15.3L281.8 16.2L277.1 17.6L274.8 19.3L274.2 20.5ZM266.6 11.4L271.3 10.8L270.1 11.7ZM275.9 11.4L281.8 10.6L285.3 11.0L280.6 11.7ZM324.1 12.7L328.8 12.0L333.5 12.7L334.7 13.6L328.8 14.1L326.4 13.5ZM321.7 11.5L325.3 10.3L327.6 11.2L324.1 12.0ZM372.2 17.3L375.8 16.4L381.6 17.0L379.3 17.8L373.4 18.0ZM375.8 19.0L379.3 19.3L378.1 19.7L375.8 19.5ZM384.0 17.3L388.1 17.4L386.3 17.8ZM421.0 22.3L422.7 21.7L422.7 22.4M0.0 21.7L2.9 22.0L2.3 22.4L0.0 22.4M378.1 41.9L379.3 43.4L379.6 45.8L380.5 47.8L379.3 48.1L379.0 50.5L379.9 51.1L378.1 51.7L378.1 49.9L378.1 47.0L377.9 44.6L377.9 42.9ZM375.8 57.0L376.3 55.2L377.8 52.3L382.0 54.8L379.3 56.4L376.9 55.8L376.7 56.7ZM376.9 57.1L378.1 59.3L376.9 61.3L376.7 63.4L375.8 64.3L374.4 64.9L372.2 65.1L370.8 66.3L369.9 65.2L367.5 65.4L365.2 65.8L365.8 64.9L367.5 64.0L370.5 63.9L372.0 62.5L372.6 61.6L374.0 61.9L375.2 60.5L375.8 58.7L376.1 57.5ZM364.0 66.3L366.0 66.2L365.8 68.7L364.6 69.0L364.0 67.5ZM367.0 66.0L369.3 65.5L369.1 66.3L367.5 67.2L366.7 66.7ZM353.4 76.1L354.6 76.3L353.2 79.8L352.4 78.7ZM339.0 83.0L340.5 82.1L341.7 82.7L340.5 84.2L339.0 83.8ZM352.9 84.0L354.6 84.0L355.0 85.7L354.0 87.1L354.6 89.0L357.0 90.4L356.4 90.7L354.6 89.5L353.1 89.5L352.6 88.3L352.3 86.9L352.7 85.1ZM354.6 97.5L356.4 95.6L358.5 94.2L359.9 96.9L359.6 98.3L358.7 99.1L357.2 98.3L357.0 96.9ZM357.3 91.0L358.7 91.4L358.5 93.7L357.6 93.4ZM354.6 91.8L356.0 92.2L356.0 94.9L355.1 94.4L354.6 93.4ZM349.0 95.8L351.7 92.4L352.0 93.4L349.7 95.9ZM340.1 103.3L342.2 102.7L344.1 101.9L345.2 100.4L347.6 98.6L348.8 97.5L349.6 98.3L351.3 99.5L349.9 100.6L349.3 101.6L349.9 103.3L351.1 104.5L349.3 105.1L349.3 106.6L348.2 107.4L347.9 109.2L347.6 110.4L345.8 110.4L345.8 109.7L344.1 109.4L342.3 109.4L340.8 109.0L340.5 107.4L339.6 106.3L339.4 104.5ZM323.3 99.1L325.9 99.6L327.3 101.2L329.1 102.7L330.6 103.3L332.3 105.1L333.3 106.9L334.1 108.0L335.8 109.2L335.6 112.5L334.1 112.4L332.3 111.0L330.6 109.2L329.1 106.9L327.6 105.3L326.4 103.3L324.7 101.6ZM334.9 113.7L335.8 112.7L338.8 113.3L341.5 113.2L343.7 113.9L345.8 114.7L345.8 115.9L341.7 115.4L338.2 114.8L336.3 114.4ZM346.6 115.3L351.1 115.3L351.1 116.1L346.6 116.0ZM352.0 115.5L355.8 115.3L355.8 116.0L352.0 116.1ZM356.4 117.8L358.1 116.3L360.8 115.5L359.9 116.4L357.6 117.7ZM351.1 116.8L353.2 117.1L352.5 117.7ZM351.7 112.3L351.7 109.8L350.9 108.9L352.0 105.4L353.2 104.2L355.8 104.5L358.1 103.8L357.6 105.2L353.4 105.2L352.5 106.7L354.0 106.7L356.2 106.7L354.6 107.8L354.0 108.0L355.2 109.6L355.8 111.0L354.6 111.3L354.0 110.4L353.4 108.9L352.7 109.2L352.7 112.1ZM361.1 103.6L362.5 103.9L361.7 106.3L361.3 105.1ZM361.7 109.2L365.0 109.4L364.0 109.9L361.7 109.8ZM359.3 109.4L360.7 109.6L360.1 110.1ZM365.2 106.6L367.0 106.2L368.7 106.6L369.1 108.6L369.9 109.6L371.7 108.3L373.4 107.6L376.9 108.7L379.3 109.7L381.0 110.1L382.6 111.6L384.0 112.7L384.9 113.5L384.0 113.8L384.6 115.1L385.7 116.3L387.5 117.4L388.4 117.8L386.9 117.9L384.6 117.4L382.8 115.7L381.0 114.7L379.9 115.4L379.3 116.5L376.9 116.4L375.2 115.2L373.4 115.5L374.2 114.1L373.4 112.1L371.1 111.1L368.7 110.3L367.5 110.4L367.3 109.6L366.4 109.0L368.4 108.4L366.4 108.1L365.2 107.3ZM385.5 112.3L387.5 111.6L389.3 110.6L390.2 110.7L389.3 112.1L387.5 113.0L385.7 112.7ZM388.4 108.7L390.4 109.8L391.0 111.2L389.9 110.1ZM392.9 112.0L394.4 113.3L393.7 113.7ZM398.7 116.6L400.2 117.2L399.2 117.3ZM395.7 114.3L399.0 115.5L397.5 115.3ZM305.3 94.2L306.7 95.7L307.4 97.5L306.5 98.4L305.5 98.6L305.1 96.9ZM269.3 119.8L270.4 123.9L269.8 125.1L269.5 126.8L268.3 130.3L267.1 133.3L266.6 135.0L264.4 135.6L263.0 135.0L262.2 132.1L263.4 129.2L263.0 126.2L264.2 124.5L266.0 124.1L267.7 122.1L268.7 120.9ZM381.3 153.5L385.5 153.7L385.4 155.6L384.0 156.8L382.8 156.8L382.0 155.4ZM414.2 146.1L416.0 147.1L416.9 148.5L417.8 148.9L418.3 149.8L420.4 149.8L421.0 150.0L420.3 151.7L419.2 151.8L419.1 153.0L417.2 154.5L416.6 154.2L417.0 152.9L415.4 151.8L416.4 150.9L416.5 149.5L415.9 148.4L414.5 146.8ZM414.2 153.2L415.9 154.1L416.0 154.8L414.5 156.2L414.6 157.1L412.5 157.7L411.9 159.6L409.8 160.4L408.1 159.9L406.9 159.5L408.6 157.6L411.0 156.2L412.7 154.8ZM403.9 129.3L405.7 130.3L407.5 131.9L406.3 131.8L404.5 130.3ZM419.6 126.2L421.1 126.3L420.7 127.1L419.6 126.9ZM407.0 123.3L407.7 123.9L407.2 124.1ZM139.7 166.2L143.3 166.0L142.7 167.0L140.3 167.0ZM130.8 167.4L134.8 169.8L133.3 170.4L130.3 170.6L127.4 169.4L128.8 168.5L128.6 167.7ZM292.0 163.0L294.1 163.2L293.6 164.0L292.2 163.9ZM226.0 61.1L229.7 60.7L229.1 62.6L226.0 61.5ZM221.0 57.5L222.6 57.5L222.6 59.7L221.3 59.9L221.1 58.1ZM221.5 55.8L222.4 55.2L222.4 57.0L221.6 56.8ZM239.1 64.0L242.2 64.3L239.5 64.6ZM249.3 64.6L251.9 63.9L250.9 64.8L249.5 64.9ZM224.3 40.3L226.0 39.9L226.0 40.7L224.9 41.1ZM232.7 38.4L233.7 37.7L233.4 38.5ZM138.7 93.1L139.9 93.0L139.7 93.8L138.7 93.8ZM124.5 154.8L125.2 155.0L125.1 156.6L124.0 156.4ZM126.8 186.7L130.3 187.9L130.3 190.2L125.6 189.6ZM66.9 16.2L71.6 14.9L75.2 14.8L74.0 15.9L69.3 16.6ZM77.5 14.9L81.0 14.0L82.8 14.3L81.6 14.9ZM78.7 13.7L82.2 13.2L83.4 13.7L81.0 14.0ZM88.1 13.9L92.8 12.6L95.1 13.2L93.4 14.1L89.8 14.3ZM96.3 14.1L98.6 13.2L100.4 13.9L98.0 14.4ZM98.6 14.7L101.0 14.3L101.6 14.8ZM98.0 17.4L101.0 16.9L101.6 17.8L99.2 18.1ZM71.0 16.8L72.8 16.4L73.4 17.0ZM88.1 17.1L89.8 16.9L89.2 17.6ZM116.3 19.5L119.8 19.1L121.5 20.0L118.6 20.3ZM120.4 25.6L122.7 26.0L122.1 26.7L120.6 26.3ZM113.3 31.7L115.1 31.8L115.3 32.4L113.7 32.6ZM117.1 32.4L118.0 32.8L117.7 33.3ZM115.1 43.2L116.5 43.3L116.0 43.7ZM85.7 19.0L88.1 19.3L87.5 19.8ZM123.3 26.0L124.7 26.0L124.1 26.5ZM119.2 31.1L120.4 31.4L119.8 31.7ZM135.6 47.1L138.6 47.6L138.8 48.0L136.4 47.8ZM136.0 50.7L138.6 51.1L138.0 51.7L136.2 51.3ZM395.0 113.4L396.4 114.3L396.0 114.5L394.9 113.8ZM399.9 115.4L400.9 116.7L400.4 117.0L399.8 115.8ZM400.8 117.7L401.9 118.2L401.4 118.5ZM407.7 124.4L408.4 125.1L407.8 125.1ZM408.8 126.3L409.3 126.5L409.0 126.7ZM420.9 125.5L422.7 124.7L422.6 125.3L421.2 125.8ZM244.2 57.0L245.4 57.3L248.4 57.3L250.7 56.4L252.7 56.4L254.2 57.2L256.0 57.5L258.3 57.5L260.2 56.8L260.1 55.8L258.3 54.6L256.6 53.5L255.4 53.2L254.3 52.5L255.4 51.1L257.2 50.3L256.0 50.4L252.5 51.3L252.5 52.3L253.6 52.8L252.5 53.1L250.9 53.5L249.5 52.4L250.7 51.7L248.9 51.1L247.8 51.0L247.4 51.1L246.2 52.3L245.1 53.4L244.2 54.8L243.9 55.8L244.2 56.5ZM267.1 52.3L268.9 51.1L271.3 50.5L273.6 50.7L273.6 52.5L271.6 52.8L271.3 53.4L270.4 53.7L271.8 55.0L273.0 55.8L273.0 57.0L274.8 57.5L273.6 58.1L273.6 59.3L274.8 61.6L274.8 62.4L272.4 62.7L270.7 62.0L268.9 61.4L268.9 59.9L269.5 58.4L270.3 58.4L268.9 57.0L267.7 55.8L267.1 54.6L266.6 53.4ZM0.0 204.1L10.6 204.7L23.0 205.5L35.3 205.4L43.3 205.5L42.4 204.1L32.6 203.7L30.1 199.7L26.5 197.0L24.8 196.1L30.1 195.3L40.6 193.9L53.0 192.6L61.9 191.8L70.7 191.8L81.3 190.8L90.1 190.0L91.0 192.1L93.6 190.5L99.0 190.8L109.6 190.5L120.1 190.8L124.6 190.0L127.2 189.1L130.7 185.5L134.2 182.0L139.6 180.2L144.0 179.3L141.4 181.2L138.7 182.6L136.0 184.7L137.9 188.2L136.9 190.8L136.0 191.8L127.2 194.3L121.9 195.3L120.1 197.0L123.6 199.2L134.2 199.7L143.1 202.3L150.2 201.5L155.5 198.4L159.9 199.7L169.6 198.8L176.7 198.4L183.8 195.3L192.6 191.8L199.6 189.1L212.0 188.3L222.6 187.9L235.0 187.3L247.3 186.5L258.0 185.5L266.8 183.8L273.8 182.6L282.6 183.8L289.7 184.7L291.4 189.1L294.1 190.0L300.4 186.5L307.4 184.4L314.5 183.3L325.0 183.8L332.1 182.6L339.2 183.8L346.3 183.3L353.3 183.8L362.1 183.3L370.9 182.9L381.6 183.8L388.7 185.5L397.5 186.8L406.3 188.2L411.6 189.1L411.6 191.4L404.5 194.3L406.3 197.0L400.2 198.8L401.9 201.5L411.6 203.3L422.7 204.9" fill="none" stroke="#000" stroke-width="1.55" stroke-linejoin="round" stroke-linecap="round"/>
</g>
<g transform="translate(657.57,118.80)" clip-path="url(#mc)">
<rect x="-1" y="-1" width="425" height="214" fill="#eef2a8"/>
<path fill="#e4ea63" d="M-5.4 -5.4l433.6 0 0 222.2 -433.6 0zM10.1 181l-4.1 .6 -2.5 1.4 -.8 1.2 -.3 1.2 .1 1.2 .6 1.1 1.5 .9 2 .5 2.4 0 2.9-.4 3.6-1 3.1-1.2 2.5-1.4 .8-1.2 -.2-.9 -.5-.6 -2.3-.9 -4.1-.6zM33 163.9l-2.3 .3 -2.4 .6 -3 1.5 -2.2 1.5 -.9 1.1 -.2 1.2 .3 1.2 1 1.5 2.4 1.9 2.9 1.3 3.8 .8 5.3 .5 20.6 1.1 5 0 5.3-.9 1.9-.9 1-1.2 -.4-1.5 -1.7-1.5 -7.9-3.1 -4.4-3.3 -2.4-1.1 -3.5-.5 -9.7 .2zM402.3 176.6l-2.7 .3 -2 .6 -.8 .5 -.2 .9 .8 .6 1.7 .6 5 .5 5.1-.5 1.7-.6 .7-.6 -.5-.9 -2.1-.8 -3.1-.6z"/>
<path fill="#d8e033" d="M-5.4 -5.4l433.6 0 0 172.2 -5.6 0 -.2 1.3 .2 2.2 5.6 0 0 2.4 -5.6 0 -.5 1.2 -.9 .9 -1.3 .5 -1.7 .3 -13.5-1.2 -4.7 .1 -4.4 .4 -2.4 .4 -1.7 .7 -1 .9 -.4 1.1 .5 1.2 1.5 1.2 2 .8 2.6 .6 6.8 .5 11.5-.3 2.6 .4 1.4 .9 .6 1.1 .2 1.3 -.3 2.9 .2 .9 .5 .7 2.4 1.1 5.6 0 0 25.5 -433.6 0 0-25.4 5.5 0 3 .7 3.2 .4 4.7-.5 5.3-2 7.7-3.4 2.5-1.5 4.5-3.3 2-.7 2.7-.5 10.5-.7 19.1-.3 14.7-2 13.5 1 4.8-.3 2-.5 1.5-.9 3.2-3.6 1.7-1.2 2.7-.9 5.2-1 1.5-.7 1.1-1.4 .8-3.9 -.2-2 -1.1-1.5 -1.8-.9 -2.6-.6 -11.5-.7 -4.2-1 -1.9-1.2 -1.4-1.7 -.7-2.4 .1-2 .9-1.5 1.4-1 2-.7 2.4-.1 3.2 .9 4.7 3 2.6 1.1 3.3 .4 3.2-.7 1.5-1.1 .5-1.2 -.2-1.5 -1.1-3.2 0-.9 .4-.9 1.2-1 2.1-.7 2.3-.3 3 0 1.7-4.8 .4-2.9 -.1-2 -.5-1.6 -.3-.2 -4.2 .1 -2.6-.7 -1.7-1.1 -3-3.5 -1.5-.8 -2-.5 -2.7 0 -2.3 .8 -1.3 1 -2.2 2.7 -2.1 1.3 -2.3 .6 -3.3 .3 -19.6-.3 -3.8-1.1 -4.6-3.5 -3.1-1.2 -2.9-.5 -3.5-.1 -3.6 .1 -2.6 .5 -2.6 1 -4.7 3.1 -8 2.4 -1.5 1.2 -.4 1.1 .7 1.2 1.2 .8 7.4 2.3 5.3 3.4 6.4 2.3 2.1 1.2 1 1.5 .2 2 -.6 2.1 -1.5 1.6 -2.4 1.2 -3.2 .8 -4.4 .3 -4.7-.1 -2.6-.4 -2.3-.8 -1.4-.9 -3.1-2.6 -2.9-1.1 -7.1-.5 -6.4 .6 -3 1.1 -2.3 2 -1.7 2.6 0 2.1 .9 1.1 1.7 .9 7.6 1.5 2.4 .9 .8 .5 .4 .9 -.3 .9 -.8 .9 -2.8 1.7 -3.2 .8 -2.9 .1 -9.1-.6 -3 .5 -1.5 1.1 -5.5 0zM257.9 139.3l-4.4 .8 -1.5 .7 -1.4 1.1 -.7 1.2 -.2 1.2 .3 1.2 .9 1.1 1.4 1 2.1 .6 2.6 .2 2.9-.2 3.6-.6 2.9-.9 1.7-.9 1-1.2 .4-1.5 -.1-1.2 -.6-1 -1.2-.7 -3.8-.8zM297.2 129.6l-2.6 1.1 -1.5 1.8 -.5 2.7 .7 2.3 .8 .9 1.4 .9 7.6 2.8 1.7 1.3 2.4 2.4 2.1 1 2.9 .4 7.9-.3 3.3 .3 2.9 1.1 7.3 4 2.7 .8 2.6 .3 5-.1 12.9-1.3 13.8 .1 2.7-.4 1.8-1 -.5-1.1 -1.3-1.5 -3.3-1.7 -2.5-2.1 -1.6-.6 -2.3 0 -2.4 .3 -6.1 2.1 -5.3 1.4 -1.8-.2 -2-1 -4.1-.8 -1.8-1.2 -.6-1.2 .2-1.2 1.2-3.2 -.2-1.2 -1.3-1.1 -2.2-.9 -3.6-.6 -4.1-.2 -12 1 -4.7-.2 -3.6-1.2 -4.3-3.4 -1.8-1 -2.9-.6zM306 72.1l-.5 .3 .2 .3 1 .3 2.3 0 1.4-.3 -.1-.3 -1-.3zM358.6 158.4l-2.9 .7 -2 1 -.9 1.2 .4 1.2 1.6 1.2 2.9 .9 4.1 .4 4.7 .1 3.5-.4 2.7-.6 1.8-1 .9-1.5 0-.9 -.7-.9 -2.6-1 -7.3-.6z"/>
<path fill="#eebd3f" d="M-5.4 -5.4l433.6 0 0 81.3 -5.6 0 -11.5 .8 -5.8-.4 -3.9-1.2 -4.9-3.8 -2.1-.7 -2.3-.3 -12.1 .2 -12.6-.6 -11.7 .1 -.5 1.8 -1.4 2.9 -.1 .9 .9 2 -.7 1.5 -.9 .3 -.9-.1 -1.7 1.5 -2.4 1 -5.6 .8 -1.7 1 -2.4-.3 -.8 .5 -.1 1.2 1.9 3.5 .4 2.1 -.8 1.8 -2.3 1.6 -1.2 .2 -1-.4 -3.6-3.2 -.3-.6 .5-1.5 .1-1.5 -.5-1.1 -.9-.9 -3.4-1.6 -4.1-.9 -3.2-2.5 -2.1-.3 -1.5 .4 -1.4 .8 -5.7 5.6 -1.3 2 -1.4 5.3 -.6 .9 -.7 .5 -2.4 .2 -2.6-1.6 -9.1-.2 -2.9 .3 -3 1 -3.5 3.1 -2.4 1.3 -4.7 .7 -4.1 0 -2.6-.3 -2.1 .3 -2.4 1.1 -1.9 2.1 -.7 1.5 -.2 2 -1.2 3.3 -.4 2 .2 2.3 1.2 5 -.1 4.1 -1.2 1.9 -3.8 2.8 -2.7 2.6 -1.7 .8 -1 1.3 -.2 2.1 .7 3.2 0 1.2 -1.6 2.6 -2.8 3.6 1.1 3.1 1.4 2.7 1.2 .5 2 .2 12.7 .2 14.4 .6 24.9 .1 5.6-.3 8.5-.9 4.1 .1 2.7 .7 2.9 1.5 2 1.4 1 1.5 .1 2.1 -1.4 2.7 -1.4 1.4 -2.4 .9 -4.4 .4 -12.3-.4 -28.8 .5 -13.2-.4 -10.5 .3 -4.2-.4 -2.9-1.1 -1.7-1.6 -.3-1.7 .4-4.7 -.4-1.2 -.7-.6 -1.4-.3 -2.9-.2 -16.8 .6 -5.5-.5 -4.2-.7 -2.3-1 -1.5-1.4 -.4-1.5 -.4-4.4 -.3-.9 -.9-.7 -2.7-.6 -9.1-.1 -3.8-.6 -2.3-1 -5-3.2 -6.8-2.5 -2.1-1.3 -1.1-1.1 -.6-1.2 -.4-1.8 .1-1.4 .3-1.2 .7-.9 2.2-1.2 3.9-.6 10.5-.1 9.7-.6 3.8 .1 3 .4 1.6 .5 1 .9 .4 1.2 -.6 1.2 -2.3 1.1 -6.2 1.5 -2.2 .8 -1 .7 -.3 .6 0 .5 .5 .6 1.5 .9 6.6 2.7 4.4 3.8 6 1.1 1.9 .6 3.6 3.2 1.8 1 3.2 .6 3-.7 -.5-2.9 -1.3-2.1 -.6-.6 -3.2-.9 -1.6-.8 -1.2-1.5 -.9-2.3 -.1-1.5 .5-1.2 2.7-1.5 -1.1-5.5 1.9-6.2 -1.7-6.4 -2.4-3.8 -.6-1.5 .1-4.1 -.3-1.1 -.9-.7 -2.3-.6 -2.4-1.2 -1.2-.3 -5.2 1.1 -8 .3 -2-.8 -2.7-2 -5.9-7 -.3-1.8 .7-4.1 -.9-2.6 -3.6-1.7 -1.4-1.6 -.3-1.7 .5-5.3 -.2-.9 -.6-.6 -1.8-.4 -2.9 .2 -2.6 .6 -1.8 .9 -.9 .8 -.6 1.1 .2 4.4 -.5 1.5 -1.9 1.5 -3.1 .8 -5 .3 -12.3-.1 -11.7 .5 -5.6-.1 -2.9-.5 -1.8-.6 -1.2-1.2 -.2-1.2 .5-.9 1.3-.8 8.1-2.6 5.4-3.3 5.5-2.2 5-2.6 4.4-1 8.8-.3 2.9-.5 2.9-1.3 3.6-3.3 2.9-.9 2.6-.1 3 .4 2.3 .8 1.5 1 .4 .9 0 .9 -1.1 4.1 .2 .9 .5 .4 2.3 .5 6.8 .2 3.9-4.1 .5-.9 0-.6 -2.2-2.3 -1-3.6 -1.5-1.1 -2.9-3.2 -1.8-1.2 -2.3-.6 -3.3-.2 -3.8 .4 -4.7 .9 -3.3 1.3 -3.1 2.8 -1.8 1 -3.8 1.2 -5 .9 -8.5 .4 -14.1-.9 -3.8 .2 -3.3 .5 -2.7 .9 -4 2.4 -2.4 .9 -1.4 1.4 -4 2.4 -.7 .8 -.2 1.2 .7 3.8 -.3 .9 -.8 .7 -.9 .1 -.9-.5 -1.9-2.9 -1.3-.8 -2.9-.4 -2.6 1.2 2.1 4.4 1 4.1 .2 1.4 -.4 3 .2 .9 .7 .5 2.3 .8 .8 .7 .5 1.2 .2 3.2 .5 1.1 .9 .8 3 1.2 2.9-1.4 2.6-2 3.9-.9 2.3 .2 3.5 1.2 5.6 0 2.1 .8 2.3-.6 2.6-.3 2.7 .2 2.6 .6 2.7 1.6 .8 1 .6 1.5 .3 3.2 -.5 1.8 -1 1.2 .4 1.4 1.1 .9 3.6 1.8 4.7 .5 2 .7 3.5 2.4 1.2 2 .2 1.4 -.3 1.5 -3.4 4.7 -.6 1.5 -1.3 5.2 -2.2 3.4 -1.5 1.2 -3.5 1.3 -1.8 1.1 -1.1 1.3 -1.6 3.2 -1.4 1.3 -7.3 .6 -2.1 .5 -1.4 .8 -.9 .9 -.2 .9 .5 4.1 -.1 .9 -.6 .9 -3 1.7 -6.2 2.4 -1.4 .8 -1.1 1.2 -.5 1.2 0 1.5 1.4 4.1 1 1.4 1 2.4 3.3 2.3 7.6-.3 5.6 .5 2.9 1.1 3.5 2.6 1.5 .8 2.1 .6 2 .2 3.9-.5 5.5-2.8 3.6-.7 12.9 1.1 15.5-.4 47.9 .5 10.6-.4 3.8 .1 3.5 .6 8.8 2.7 10 .7 2.6 .6 1.5 1 .9 1.1 1.6 5.3 .7 .7 .9 .1 1.5-.3 2-.8 3.8-2.6 1.6-2.1 1.7-4.2 1.1-1.3 2.4-1 3.2-.6 4.1-.1 5 .3 15.3 2.6 16.4 0 27 1.7 3.3 1 5.1 4.3 4 1.7 5 .7 12.6 .3 3.5 .7 1 .7 .3 .9 -.3 1.1 -1.1 1.8 .1 1.7 .3 .4 2.8 1.1 6.9 1.8 5.6 0 0 22.6 -433.6 0 0-22.6 5.5 0 5 1.1 3.9 .4 3.2 0 2.3-.4 2.1-.9 3.2-3.1 3.4-2.1 11.9-5.7 2.9-.9 3.5-.6 7.7-.8 16.7-.5 13.8-1.1 18.8 .4 4.7-1 5.6-2.9 2.3-.8 2.7-.2 7.6 .9 2-.3 1.5-.6 1.4-1.2 2.4-2.6 -4.7-5.3 -.8-1.8 -.4-1.7 .4-1.8 1.5-2 .4-.9 -.3-2.7 .1-4.9 2.2-7.4 1.7-6.7 .4-4.4 -.3-2.4 -.8-1.7 -1.1-1.1 -3.3-1.7 -1.3-1.1 -3.9-5.7 -4.7 .1 -3-.2 -2.6-.7 -2-1.1 -.7-.9 -.3-1.2 .3-3.5 -.2-1.1 -.7-1.2 -1.7-1.2 -2.9-.9 -3.9-.4 -12.6 .7 -6.1-.2 -3.9-.7 -1.4-.6 -1.1-.8 -.5-1.5 .7-1.5 1.8-1 2.9-.7 23.2-.3 12.3 .7 7.6-.1 .2-1.5 -.5-1.4 -.5-.8 -2.4 .8 -1.5-.3 -1.4-.8 -1.8-1.6 -1.7-2.7 -1.5-1.1 -5.6-1 -6.2-.2 -2.3-.5 -1.5-.8 -.8-.8 -3-4.5 -2.2-4 -4.9-5 -2.5-5.5 -1.8-1.5 -2.4-.7 -2.9-.1 -.6 .5 .4 1.5 -.8 .8 -1.7 1 -2.3 .5 -2.4 0 -2.2-.3 -1.9-.6 -1.6-.8 -1-1.2 -.5-1.8 .7-5 .5-9.4 -1-2 -2.4-1.6 -3.8-.8 -10 .2 -8.5-.9 -3.2 .3 -2.6 .9 -2.5 1.6 -1 1.5 -.2 1.1 .6 3.3 -.2 .8 -.6 .9 -2 1.2 -7.3 2.3 -1.3 .9 -.7 1.2 .4 1.2 1.3 .9 7.6 2.3 2.6 1.5 .9 1.4 .4 1.5 -.4 1.5 -.9 1.1 -3.2 1.7 -4.4 .9 -21.4 .1zM177.8 31.3l-2 .3 -1.2 .5 -.6 .9 -.3 1.5 .3 1.8 .7 1.4 1.3 1.1 1.8 .9 2.9 .8 3.8 .6 9.1 .5 5-.4 1.3-.5 .8-.9 .1-1.2 -.5-1.2 -1.1-1.1 -1.5-.7 -10.1-3.5 -4.6-.7zM277.9 83.2l-2.1 .5 -1.8 .7 -2 1.5 -.4 .8 1.3 .1 5.2-2.1 1-1.2zM287.8 76.7l-6.1-.1 -1 .5 .7 2.6 -.4 2.4 .4 .5 12.2-.5 -.1-.6 -1.4-2.1 -2.5-2zM300.8 70l-1.2 .3 -.8 .6 -.4 .6 .1 .9 1.5 1.1 2.8 1 4.4 .4 6.5-.2 3.5-.4 1.5-.8 -.2-.5 -.8-.6 -3.7-1.2 -8-1.1zM46.5 194.5l-7.2 .9 -1.1 1.1 0 1.2 1 1.1 1.8 .6 2.9 .3 4.1 0 8-.8 2.5-.9 .7-.9 -.3-.6 -.9-.5 -2.9-.9 -4.5-.7zM43.1 76.2l3.7-.1 15.9 .7 5.3 .6 2 .8 1.3 1.2 .7 1.8 -.1 2.3 -1 2 -1.8 1.3 -2.9 .9 -4.4 .4 -17-.3 -15 .7 -21.1 .3 -5.6-.7 -1.9-.8 -1.1-1.1 -5.5 0 0-1.4 5.5 0 .9-1 1.2-.6 3.8-1 5.3-.3 12.3 .4 5.9-.6 3.5-1.2 5.9-3.4zM126.1 82.9l2-.8 1.2 .1 .7 .7 0 .9 -.4 .6 -1.2 .5 -1.1 .1 -.9-.3 -.6-.6 -.1-.6zM176.9 87.3l3.5 0 2.9 .8 3.3 1.9 .8 .9 .1 .8 -1.3 1.2 -6.7 2.6 -4.1 3.1 -2.1 .9 -2 .2 -2.1-.3 -2-1 -1.6-1.4 -1.1-1.7 -.6-1.8 .1-1.5 .8-1.1 1.5-1 2.4-.8zM357.2 94.4l1.4 .4 1.1 1.3 .3 1.5 -.6 1.8 3.3 .6 1.2 .6 .9 .9 .4 1.1 -.2 .9 -1.2 1.4 -2.6 1 -3.8 .2 -.9 .3 -.8 .6 -1.5 2.3 -.9 .3 -1.2-.4 -1.3-2.2 -.7-.1 -3.3 2.8 -6.1 .1 -3.2 1.3 -.8 1.8 -.4 .1 -2.1-.4 -2.5-1.2 -2.8-1.6 -1.3-1.6 -.4-1.5 -.2-2.6 -1-3.3 .3-.3 1.8-.5 1.1-2.4 2.1 .4 2.6 2 2.1 .2 1.7 .5 2.7 1.7 2.9-1 4.4-3.4 1.8-.3 .9 .5 .6 .9 .2 3.2 .3 .7 .6 .4 .5-.2 .1-1.5 .9-1.1 1.5-.7 2.1-.5 -1.3-1.6 -.3-1.4 .5-1.4zM381.4 105.8l2.7 .2 2.4 .8 1.4 1.1 .9 1.5 1.2 1.2 .1 .8 -.4 1 -1.4 2.2 -1.2 1 -.9 1.1 -1.2 .5 -3.5 .1 -1.5 .9 -.2 .8 .8 2.4 1.9 2.9 1.4 3 2.9 2.6 4.2 5 .8 1.8 .4 2.6 -.1 1.8 -.5 1.7 -2.2 3.7 -1.3 2.8 -.7 .9 -2.2 1.4 -.4 .9 1.5 1.8 .2 .6 1.1-1.6 2.7-1 3.8 0 3.2 .9 1.5 1.4 .3 .8 -.1 .9 -1.1 1.4 -2 .9 -3.6 .5 -3.1-.4 -1.8-1 -1.2-1.9 -1.5 1.3 -.9 .1 -.8-.2 -.8-.7 -.5-.9 0-1.1 .5-1.5 -.4-.6 -4.7-1.5 -3.2-3.2 -3.3-1.7 -2.6-2.1 -1.2-.5 -2.3-.3 -3 .3 -6.4 2.1 -5.3 1.4 -1.2-.1 -1.2-.5 -1.1-1.5 -2-9.1 .1-2.4 .8-1.7 2.2-1.4 4.1-1.2 1.5-.7 5.6-5.5 2.2-1.5 .6-2.1 1.6-1.4 2.6-.9 7.7-1.2 .1-1.5 -.6-1.4 -2.5-2.2 -2.5-1.3 -.7-.9 .2-.6 .7-.1 1.4 .9 .9 .2 3-1 2.9-.4 2.6-1zM338.7 113.8l2.6-.1 1.1 .3 .5 .6 -.5 .4 -1.7-.1 -1.6-.6zM268.4 121.1l1.2 0 .6 .5 .5 1 -.1 5.5 1.8 1.8 .7 1.8 -.1 1.4 -.8 1.5 -1 .9 -1.6 .7 -4.4 .6 -5.5-.3 -2.1-.6 -1.3-.7 -.6-.9 -.2-1.2 .3-1.4 .7-1.2 2.1-1.5 3.4-1.1 1.9-3zM405.1 122.9l7.5-.3 5.6 .5 2.1 .6 1.4 .9 .6 .9 .1 1.2 -1 1.4 -1.8 .9 -2.6 .6 -3.2 .3 -5.6-.1 -4.7-.4 -2.6-.7 -1.6-1.1 -.4-.9 -.1-.9 1-1.5 1.9-.9zM151.6 143.4l1.2-.3 1.8 1.5 2 1.1 2.1 .7 2.3 .3 4.1 .1 10.9-.8 7 .4 2.2 .5 1.7 .9 1 1.2 .2 1.2 -.8 1.1 -1.9 1.1 -2.7 .6 -3.2 .2 -27.3-.2 -5-.4 -3.2-1 -.2-1.1 1.2-3.3 2.8-1.3zM416.8 149.6l1.1-.3 1.6 .6 .9 .8 .7 1.6 1.5 .4 5.6 0 0 5.7 -5.6 0 -2.1 .5 -2.3 .1 -3.8-.4 -3.6 1 -1.3-.3 -.4-.6 -.1-.6 .6-1.2 2.7-3.2 3-1.8zM-5.4 158.2l0-5.4 5.5 0 1.1 .9 .6 .9 .2 1.1 -.3 1.2 -1.6 1.3z"/>
<path fill="#e99f25" d="M-5.4 -5.4l433.6 0 0 48.8 -5.6 0 -2.7-1 -3.2-.5 -2.9 .3 -3.3 1 -6.4 3.5 -7.9 3.5 -8 5.3 -9.1 3.2 -2.6 4.9 -1.2 1 -1.7 .7 -8.6 1.6 -1.7-1 -3-.2 -5.8-1.5 -.6 .5 -.1 .6 .7 3.2 -.3 2.7 -3.5 5.3 -2 1.4 -2.4 1.2 -5.3 1.6 -3.5 .3 -2.4 1.4 -4-1.5 -2.3-1.5 -.3-.6 -.1-.9 .9-2.3 .1-1.2 -.4-.9 -1.3-.8 -3.6-1.2 -12.4-2.4 -5.7-1.9 -3.5-.7 -4.1-.3 -3.5 .2 -2.4 .6 -1.2 1 -.5 1.4 .4 1.5 1 1.5 2.2 2.3 .6 1.2 0 1.5 -.7 1.3 -.3 0 -3.8-2.3 -1.5-.6 -7.6-.4 -4.9-1.3 -3.6-.6 -.9 .2 -.3 .4 .1 .9 1.1 1.6 1.4 .6 2.7-.5 .9 .2 2.3 1.9 .2 .9 -.4 .9 -4.2 .5 -3.2 1.1 -2.4 1.3 -4.4 3.2 -2.6 1.4 -.6-.2 -1.5-1.7 -1.1-.9 -1.2 0 -.4 .6 .2 1.1 1.5 3 -.7 1.7 -.7 4.1 -2.4 5.9 -.7 4.4 .4 2.4 1.2 1.7 .2 3 1.2 5.5 .3 3.3 -.4 1.7 -1.2 1.3 -4.4 2.9 -4.1 .6 -.9 .5 -.8 .9 -.7 2.1 0 3.2 .4 2.3 1 2.4 -.7 1.7 -1.2 1.6 -1.8 1.3 -2.1 1 -6.7 .7 -.9-.3 -.7-.7 -1.6-3.6 -3.1-4.4 -1.4-5.5 -1.6-4.7 -.1-2.4 1.9-4.1 .2-1.5 -2.1-6.9 -2.3-4.8 -.1-4.4 -.5-1.5 -1.1-.9 -2.5-.6 -2.3-1.5 -1.5-.4 -1.7 .1 -3.8 .9 -7.1 .6 -1.5-.3 -1.7-1 -2.5-2.2 -4.6-5.8 -.3-1.5 .5-3.2 -.3-2.4 -1-2.9 -1.5-1.9 -.4-1.3 .3-2.1 1.3-1.8 2-1.1 3.7-.6 1.6-.7 .9-.8 1.4-2.2 2.4-2.2 .5-.9 .2-.9 -.3-.5 -1.9-1.5 -.8-1.5 -.4-4.4 .4-2 -.8-2.1 -.1-1.5 .3-.8 .8-.8 4.4-1.6 .6-1.2 0-2.6 -.2-.6 -.4-.2 -1.7 1.4 -1.5 .4 -1-.4 -.2-.6 .1-.6 .8-.9 2.4-1 1-2.8 .8-.9 1.7-.3 1.8 .9 .2-.3 -.2-1.7 .2-1.5 .6-1.2 1.2-1.1 2.4-1.2 5-1.5 1.3-.9 .6-1.1 0-1.5 -.5-1.2 -1.2-1.1 -2.3-.9 -3.5-.4 -3.5 .2 -3.7 .7 -6.3 2.1 -1.7 1.2 -1.8 2.3 -1.5 1.4 -1.5 .6 -2.9 .5 -2.4 .1 -2.3-.3 -2.7-1.1 -5-.9 -2.6-1.5 -2.6 .4 -4.1 1.4 -1.7 .9 -1 1.2 -2.6 2.3 0 .6 1.7 1.8 .5 1.1 .1 1.2 -.7 1.2 -1.9 1.2 -5.9 1.5 -2.3 1.1 -2.8 2.3 -.8 1.2 -.3 1.2 .1 .9 .5 .6 1.8 .8 10.3 1.4 3.2 1 .9 .9 .3 1.1 -.5 1.2 -1.1 .9 -1.8 .9 -2.2 .6 -5.3 .6 -4.9-.3 -8.3-1.5 -10.9 .2 -3.5-.2 -4.1 2.1 -1.6 2 -1.8 3.5 -3.9 2.6 -1.1 1 -.6 1.7 .5 3.5 -.6 1.1 -1.2-.2 -1.5-2.3 -1-.9 -2.2-.7 -2-.3 -3 .8 -3.5 0 -2 .6 -1.8 1.4 -1.3 2.6 -1.1 .8 -6.1-.1 -2.7-.7 -1.6-1.2 -1-1.4 -2.3-5 -1.2-1.5 -1.2-1 -1.6-.8 -1.9-.5 -6.2-.3 -2-1.1 -2.5-2.8 -.8-1.7 -.2-1.8 .3-5.6 -.4-2 -2.6-2.1 -2.4-3.2 -2.9-1.7 -2.9-2.9 -3.5-1.6 -2.4-.7 -7.6-1.4 -3.8 .7 -2.7-.1 -.6 .6 .2 1.2 2.9 1.8 .3 .6 -.4 .6 -2.1 .7 -8.6 1.9 -7.8 3.1 -3.6 .9 -4.1 0 -4.1-.6 -2.3-.9 -3.3-2.1 -5.5 0zM222.1 55l-.5 .3 -.2 2.1 .4 1.7 1.7 .6 1.3 2.1 2 1.7 7.3 3.8 2.4-.4 1.1 .1 4.4 2 3.6 .7 5.2-.8 1.1-.9 .7-1.5 .5-2.1 -.2-.6 -.6-.5 -5.9 0 -1.7-.3 -1.5-.8 -1.5-1.9 -.8-.6 -.9 .4 -1.2 2 -.6 .4 -.9 0 -1-.7 -3.4-4.5 -1.3-1.1 -1.9-.5 -1.2 .5 -.8 0 -4.2-1.2zM247.3 52.6l-1.2 1 -.6 1.1 .1 1.2 .8 .6 1.5 .1 3.8-.7 5.3 1.1 .9-.2 .5-.6 -.6-1.2 -3.4-2.2 -.9 0 -2.1 .8 -2.9-1.1zM416.7 34.2l-2.5 .9 -1.5 .9 1.1 .3 2.3 0 1.5-.5 .8-.7 .1-.6 -.3-.4zM211.5 60.5l-1.7 1.9 -.2 .6 .2 .2 1.4 0 2-.8 .1-.6 -.6-.9 -.6-.5zM214.7 54.7l-1.4 .9 -.4 .6 .1 .2 .8-.2 .7-.6 .4-.6zM98.9 76.8l1.6 0 1.5 .4 1.5 1 .9 1.1 .4 1 0 .6 -.8 1.7 -.8 .9 -1.5 .6 -1.4-.2 -1.3-.7 -1-1.1 -.7-1.8 -.1-1.8 .5-1.1zM125.7 92.9l3.6-.1 4.1 1.2 5 0 1 .4 2 1.4 1.1 .4 3.8-.8 3 .5 1.4 1 1 1.3 .6 5 .6 1.7 1 1.2 5.1 2.9 1.4 .4 4.4 .5 3.9 2.4 .9 1.5 0 2 -.6 1.2 -2.8 3.8 -1.4 5.6 -1.4 2.4 -.6 .3 -9.4 0 -5.3-.4 -4.1-1.2 -6.6-3.8 -2.8-1.1 -2.4-.2 -1.7 .3 -1.2 .8 -1.2 1.7 -3.2-1.2 -1.8-1.1 -1.2-1.5 -3-5.6 -2.4-2.9 -.4-1.8 1-5 .8-1.3 2-2.2 .7-1.2 .2-5 2.8-2.6zM348.2 99.1l1 0 .6 1.2 -.2 3.5 -1 1.7 -7.3 .9 -.4-.3 -.5-1.2 .4-.8 3.1-1.7 2.9-2.5zM368.1 118.7l3.4 0 2.2 .9 .9 1.5 0 3.2 1 1 1.2-.1 2-2.1 .6 0 .9 .5 1.3 1.3 1.8 3.2 2.8 2.5 4 4.9 .9 3.2 -.2 2.9 -3.5 6.7 -1.2 1.2 -3.2 1.2 -4.7-.6 -1.5-.8 -1.8-2 -1.1-.9 -3.2-1.5 -2.7-2 -2.1-.6 -2.6-.1 -2.4 .4 -10.5 3.1 -1.5-.1 -1.2-.8 -2.3-8.7 .1-2.4 .6-1.5 2.1-1.4 5.1-1.8 6.2-5.5 2.9-1 3.2-3zM268.2 122.9l1 0 .5 1.1 -.6 7.7 -.5 1.4 -1 1 -1.2 .4 -3.2-.7 -1.8 .3 -.6-.4 -.7-.9 .2-1.1 2.3-2.1 2-4zM129.9 168.9l.6-.1 1.3 .4 .8 .6 0 .6 -.6 .3 -1.3-.3 -.8-.8zM137.8 171.3l4.1-.2 3.9 .5 2.3 .8 3.8 2.2 2.4 1 3.2 .8 3.2 .3 4.4-.3 6.8-1.8 3.8-.4 29.9 .3 53.2-.4 4.4 .2 3.5 .7 7.6 2.3 6.8 1.2 2.2 .7 .9 .6 .6 .9 .3 2.3 .3 .3 3.6 1.9 2.6 3.4 .9 .6 1.2 .2 2.1-.6 6.2-4 5.5-7.4 1.5-1.5 2-1.2 3-.7 3.5-.2 4.4 .1 14.1 1.9 11.1 0 5.3 .2 21.7 2.5 3.3 .7 2.1 .9 7 5 -.3 .6 -1.5 .6 -7.3 2 -1.8 .9 -.6 .6 -.1 .9 .7 .8 1.3 .6 4 .8 11.7 .9 2.1 .6 4.1 2.1 2.6 1 3.3-.4 2-2 1.8-.7 7.6 .8 6.5 1.4 5.6 0 0 20.2 -433.6 0 0-20.1 5.5 0 5.6 1.2 4.7 .5 4.7 0 4.1-.4 3.3-.8 1.5-1 .5-.8 .2-3.3 .6-.8 1.1-.9 12.2-5.7 4.4-1.3 9.7-1.3 27.6-1.3 6.7 0 10 .5 3.8-.2 3.5-.7 7.7-2.4 2.6-.2 7.7 .4 3.5-.4 2.6-1.2 3.2-3 1.5-1 2.1-.8zM199.5 190.6l-5.8 1.8 -5.6 2.7 .1 2.9 .3 .9 1.2 .9 2.7 .7 9.4 .6 6.5-.5 2-.7 1.3-1 .3-.9 0-1.2 -1-1.4 -1.7-.8 -5.8-1.6 -2.1-1.2 -1.2-1.1zM62.7 193.3l-21.7 .9 -5 .8 -1.8 .6 -.9 .6 -.9 3.9 .9 1 2.4 .4 19.3 0 11.5-.8 2.8-.6 1.2-.9 .2-.9 -.6-1.5 -1.1-1.1 -1.4-.9 -2.2-.9zM95.8 193.5l-2 1 -1.3 1.5 -.8 2.3 .2 .9 .4 .6 2.4 .9 4.1 .3 3.3-.4 1.6-.8 .4-.9 -.3-1.5 -.7-1.4 -1.1-1.2 -1.5-.9 -1.4-.4z"/>
<path fill="#e38027" d="M-5.4 -5.4l433.6 0 0 40.9 -5.6 0 -1.2-2 -3.5-.2 -2.1 .4 -4.4 1.7 -4.5 .6 -.8 .5 2.4 1.5 .8 .9 -.7 1.2 -6.3 3.7 -8.5 4.3 -7.3 4.7 -4.6 1.4 -1.9 1.6 -2.3 .7 -1-.6 -.4-2.9 -1.3-1.2 -1.7 0 -3.6 1.8 -3.5 2.3 -2 2.5 -.8 1.6 .4 2.4 -.2 .9 -.6 .8 -.9 .4 -1.2 .1 -.8-.5 -1.8-2.6 -1.2-1.2 -3.5-.9 -1 0 -.5 .3 -.2 .6 1.4 1.8 -1 2.9 1.1 3.8 -.2 1.5 -.5 .9 -7.9-.9 -9.7-.3 -12.6-1.1 -5-.9 -6.5-2.1 -3.5-.7 -19.4-1.6 -2 .1 -1.2 .6 -1.3 3.7 -1.9 1.4 -3.5 .8 -5.9 .1 -1.5-.4 -1.4-2.5 -1.5-1.5 -5.9-2.6 -4.7-2.7 -2.6-.6 -3.3 0 -2.3 .4 -2.6 1.1 -1.2 .1 -1.5-.8 -2.1-2.5 -1.1-.4 -1.5 .5 -1.2 2 -.6 .1 -.6-.5 -.9-1.4 -.6-2.4 -2.6-1.5 -4.4-1.8 -1.1-.1 -1.8 .5 -9.9-2.1 -2.6-1.1 -.9-1.8 .8-1.2 4.4-3.2 3.5-1.8 1.5-2.6 .6-.1 1.7 1.5 .6 0 .6-.5 -.1-1.2 -.8-1.2 -1.2-.4 -2 .4 -2.6-.9 -1.4-1.1 -.6-1.8 .3-1.2 .8-.8 4.6-2.1 2.6-2.4 1-1.4 0-3.5 -.3-.9 -.7-.9 -2.8-1.3 -9.4-2.3 -4.7-.3 -2.7 .7 -6.1 2.8 -9.2 2.2 -.3 .5 .8 2.1 -.2 1.5 1.8 .5 .6 .9 -.6 .7 -1.7 .7 -2.7 .5 -2.3-.2 -1.1-.5 -1.6-1.3 -2.7-.8 -1.1-.9 -1.7-.5 -1.5 0 -9.4 2.6 -2.1 1.4 -3.7 3.9 -1 .5 -2 0 -4.7-1.3 -1.4 .2 -1.5 1.8 -2.3 4.7 -2.6 2 .7 1.8 .4 2.6 1.4 2.4 0 .9 -.3 .4 -1.7 .5 -2.4-.4 -.5-.8 -.3-2.1 -1-.5 -4.2 .2 -2.2 .6 -.4 .9 1 1.7 .9 .5 3.8 .7 .4 .6 -.3 .9 -1.3 .7 -2.4 .5 -1.7 .1 -3-.7 -1.1 .2 -1.2 .6 -1.8 2.4 -2.6 1.7 -1.2 1.2 -2.9 5 -3.5 2.3 -1.2 1.1 -.8 1.6 -.4 3.1 -2.6-2 -4.7-1.5 -.3-1.3 -1.2-1 -1.8-.7 -2.3-.3 -2.9 .2 -2.4 .6 -2 1.2 -3 3 -1.1 .4 -1.2 .1 -1.2-.4 -1.2-.7 -4.4-4.8 -2.9-1.9 -4.1-.9 -6.5 .2 -1.7-1.1 -2.1-2.2 -.8-2 .2-3.5 1.2-5.3 -.2-.9 -.7-.7 -2.6-1.2 -2.8-3.1 -5.5-4.1 -3-1.5 -3.7-1 -7.9-1.5 -3.8 .5 -3.3-.5 -1.4 .7 -2.3 2.7 -2.4 1.5 -3.5 .9 -10.9 1.7 -3.5-.5 -5-1.7 -2.8-1.3 -1.1-1.3 -5.5 0zM21.3 33.6l-.5 .3 .5 1 1.2 1 1.4 .6 .7 0 .3-.5 1.2-.9 -.2-.9 -1-.6zM248.2 51.5l-1.8 .6 -1.8 2.1 -.4 1.7 .4 .9 .7 .5 2 .4 4.7-.8 5.3 1.3 1.5-.4 .9-.9 0-1 -.6-.9 -4.4-3.4 -.9 0 -2.4 1zM268.5 52.4l-1.2 .9 -.2 .9 .2 .8 1.7 2.7 .3 2.3 .3 .9 .9 .6 1.2 0 .7-.6 .2-.6 -2-4.1 -.6-3.2 -.5-.6zM153.7 53.3l3.5-.2 3.2 .4 1.9 .7 .6 .5 .1 .6 -.8 .9 -1.2 .5 -3.5 .5 -3.8-.4 -1.6-.6 -1.1-.9 -.2-.6 .3-.5zM203.4 54.5l3.1 .1 1 .4 .6 .6 .2 5.6 -1.9 2.1 .2 .5 .5 .5 1.5 .5 2.6 .2 3.5 .7 8.8-.1 1.8 .9 3.5 1.2 3.3 1.9 2 .8 .8 2.3 .7 1.1 1.4 1.2 1.8 .8 2.4 .6 3.2 .3 3.5 0 3.2-.4 2.1 .2 1.2-.6 .9-1.2 2.4-1.7 2-1.1 3.5-.8 5-.2 .4 .3 .5 2.6 2.1 3.8 -.5 .9 -1.5 1.2 -4 2.4 -2.3 .9 -2.4 .2 -2.6-.7 -7.3 .4 -3 1.2 -4.4 3 -4.1 1.1 -6.2 .2 -10.2-.8 -4.4 .2 -3.6 1.3 -4.1 3.4 -2 1.1 -3.3 .4 -3.2-.6 -1.6-.8 -1.1-.9 -.6-.8 -.2-1.2 .3-1.5 1.2-2.9 .3-1.5 -.5-4.1 .5-4.7 -.3-1.2 -.9-1.1 0-.3 2-4.1 2.5-2.4 1.2-2.1 -.4-.8 -2.5-1.8 -.6-1.2 .1-4.4 .6-.8zM373.7 61.8l.7 0 .2 .3 -.5 .9 -1.4 .6 -1.3 0 .4-.9zM131.9 100l2.7-.3 2.3 .5 6.2 3 8.8 2.4 3 2.3 .4 1.5 -.4 1.7 -1 1.5 -2.2 2 -.5 1.2 .1 .9 1.8 4.1 -.1 1.5 -.6 .8 -1.1 .7 -1.7 .4 -2.1 0 -1.7-.5 -2.7-1.2 -5.3-3.3 -5.6-2.4 -1.6-1.3 -.6-.9 -.1-1.1 1.2-3.6 .2-1.1 -.5-1.2 -1.8-2.9 -.5-1.8 .3-.9 .7-.9zM226.1 110.8l3 .2 3.1 1 1.7 1.5 .2 .8 -.1 .6 -.9 .9 -1 .6 -3.6 1.1 -.3-.1 -1-2.5zM227.1 123.4l4.7 1.4 4.2 2.5 4.3 1.8 1.5 1.1 1.1 2 .4 3.3 -.3 2.9 -1 1.7 -1.4 .8 -5 1.3 -1.8 1 -3.5-5.4 -.7-1.4 -1-4.2 -2.3-5.5 0-1.8zM356.6 129l3.5-.1 2.9 .7 1.3 .9 .6 .9 .3 .8 -.2 .9 -.7 .9 -1 .7 -3.5 .8 -3.9-.3 -2.9-1.2 -1-1.5 .4-1.4 1.5-1.2zM138.3 173.6l2.8-.2 2.6 .2 9.4 3.6 5 1 4.7 .3 5-.2 8.8-1.7 6.4-.4 21.5 .4 26.7-.5 24.3 0 5.9 .3 3.8 .9 5.9 2.4 5 1.3 1.9 .9 .3 .3 -.4 .3 -4.7 .6 -2.7 1.3 -1.3 3.6 0 1.2 1 1.5 2.7 1.1 3.5 .7 4.7 .4 6.7-.5 2.7-.7 2-1 1.8-.1 1.8-.7 7.6-4.3 2.3-1.7 3.4-4.7 1.8-1.7 1.9-1.1 2.3-.6 3.3-.4 3.5 0 12.9 1.7 12.9 0 8.2 .8 14.5 2.5 2.9 .8 2.2 1 .2 .8 -1.3 .5 -11.4 .3 -10.8 1.3 3.7 2.3 7.7 3.3 5 3.1 2 .9 2.7 .4 8.5 .3 4.1 .6 3.2 1.1 5 3 2.3 .5 3.9 .2 2 1 2.1 .4 3.5 .1 2.1-.3 .4-.2 .5-1.4 .7-.9 1.1-.6 1.7-.4 3 .1 4.9 .9 5.6 0 0 17.3 -433.6 0 0-17.3 5.5 0 5.9 1.1 6.2 .4 5.9-.2 9.9-.9 1.8 1 2.6 2.6 1.2 .5 1.2 .1 5.9-.6 5.8-.1 34.4 .9 19.1-.4 11.7 .6 11.4 0 10.6 .3 14.4-.7 16.4 .2 39.4-.5 7.9 .6 8.5 1.9 3.5 .3 3.3-.2 3.2-.9 3-1.3 1.2-1.2 .1-.6 -.5-.6 -1.7-1.2 -7.4-2.8 -1.7-1 -.4-.6 -.1-.8 .8-3 -.1-1.4 -1.4-1.5 -2.1-.2 -6.1-.1 -14.1 .8 -6 1.8 -11.6 4.9 -4.7 1.6 -6.8 .5 -9.1 1.2 -6.5-.5 -5.5 2.4 -5.3 .9 -2.1-.2 -7.3-1.7 -10-.9 -4.1-1.4 -6.2 .5 -3.2-.3 -1.5-.7 -1.2-1 -1-1.4 -1.8-3.9 -1.2-.1 -9.4-.6 -3.9 .6 -3.5-.6 -14.7 1.5 -10.2 0 -14.7 .8 -10.6-.1 -1.2-.2 -.2-.4 0-.9 .5-.8 4.2-4.4 2.9-1.6 4.1-1.1 9.7-1.1 25.5-1 17.1 .7 3.8-.5 6.4-1.8 3-.5 15.2 0 2.4-.7 3.8-3.9 1.5-.9zM309.3 187.4l-2.4 .6 -1.5 .9 -.4 .9 .6 1.2 1.4 .8 1.7 .6 4.1 .4 4.4-.9 1.3-.6 .7-.9 .1-.9 -.4-.6 -2.1-1.2 -3.7-.5z"/>
<path fill="#dd5715" d="M-5.4 -5.4l433.6 0 0 37.6 -5.9 0 -5.3 .6 -5.3 1.8 -4.4 .3 -2 .5 -1.2 1.1 -.5 3 -.6 1.2 -3.9 3.1 -2.6 1.5 -2.7-.1 -7.3 4.7 -3 1.2 -2.9 .1 -3.8-1.7 -1-1.2 -.2-2.1 -5.3 .5 -7-.5 -3.2 .2 -4.2 1 -3.8 1.8 -1.1 1.1 .1 .6 .7 .7 1.8 .7 5.6 1.4 4.2 1.9 0 .9 -1.3 2.9 .4 3 -.7 .9 -.6 0 -.6-.3 -1.8-2.7 -1.1-1 -3.8-1.3 -1.2-.1 -2.6 1.2 -3.3-.4 -2.9 .6 -2.6 1.3 -4.4 3.1 -2.6 1 -4.5 .8 -4.4 .1 -10.8-2.1 -13-.7 -4.4-.4 -9.7-2.2 -10.5-1.9 -1.8-.5 -1.5-1.3 -1.4-2 -.8-2.7 -1.3-.7 -2 .1 -2.1 1.3 -2.3-.4 -1.8 .3 -1.2 .5 -1.1 1.1 -2.4-1.3 -1.4-1.8 -.6-.4 -1.5 0 -2.4 1 -2.3-.7 -1.2-.1 -2 .9 -2.7 2.5 -1.5-1 -2-.6 -11.5-1.1 -4.7-1 -2.6-.9 -1.1-.9 -.4-1.2 .6-1.5 1.5-1.5 2.6-1.4 5.3-.4 4.1-1 1.8-1.4 1.9-2.8 -.2-1.1 -1.9-3.3 -.7-.7 -.6-.2 -.9 .1 -.8 .6 -1.2 2.1 -10.9 .8 -.9-.3 -.5-.6 -.1-1.2 .7-.9 4.3-2.1 5.6-4.6 4.5-3.2 -.2-1.2 -1.2-1.2 -2.7-1.5 -3.2-1.1 -5.7-1.5 -5.6-1.1 -4.1-.3 -4.1 .3 -3.5 .8 -5 2.4 -2.6 .9 -9.1 1 -1.2 .7 -1.2 2 -1.2 .8 -2 .6 -2.7 0 -.8-.2 -.6-3.2 -.6-.9 -1.1-.9 -8.3-2.8 -5.3-3.3 -6.3-3 -4-.1 -5.3 .2 -4.3 .5 -.4 .3 1.2 3 1.2 1.7 1.4 1.2 5.6 2.4 1.8 1.1 .9 1.2 .2 1.2 -.7 1.7 -2.2 1.7 -.6 1 -.2 1.1 .3 2.1 -.2 .9 -2.2 1.8 -2.5 5.2 -2 1.8 0 .6 1.2 2.6 -.2 1.2 -1.2 .6 -9.1 1 -3.8 1.9 -1.7 1.2 -1.5 1.6 -.7 1.6 0 1.5 .9 1.4 -.1 .3 -2.9 2.7 -1.7 2.3 -1.4 2.8 -1.2 1 -2.6 .1 -9.4-1.1 -6.2-.2 -4.1 .4 -6.2 1.6 -1.7 .2 -2.1-.7 -4.1-2.8 -2.6-.9 -3.8-.3 -8 .6 -1.1-.6 -1.6-1.5 -.7-1.5 -.1-2.1 .6-2.8 .9-1.9 3.5-.8 1.8-1.2 .4-1.2 -.6-1.5 -1.9-1.9 -2.5-1.6 -4-1.3 -4.6-.8 -4.7-3 -2.1-.9 -4.1-1.2 -7.9-1.6 -4.1 0 -1.4-1.5 -1.9-1 -2.9-.7 -3.8-.4 -4.1-.1 -3 1 -.9 .7 -.7 .8 -.4 2.7 -2.1 1.2 -3.2 .5 -3.5 0 -3-.7 -1.7-1 -3.6-3 -5.5 0zM140.4 106.4l3.6-.2 3.8 .7 2.2 1.3 .4 .6 0 .8 -1.2 1.5 -2.6 1.2 -3.5 .5 -2.6-.3 -1.6-1.1 -.6-2 .6-2.1zM319.1 176.9l5.1 0 11.5 1.5 10.2-.1 4.2 .3 5 .8 11.3 2.5 -.1 .3 -1.5 .2 -9.4 1.4 -14.4 .7 -2.7-.1 -5.5-.8 -9.4 .9 -11.8-.6 -1.2-.3 -.2-.9 .5-.8 1.2-1.8 1.2-1.2 2.6-1.3zM141.7 177.5l3.5 0 13.8 2.6 5.2 .4 6.2-.4 9.1-1.8 4.7-.4 19.1 .4 48.1-.4 3.9 .3 2.9 .5 1.7 .8 .6 1.2 -.6 3.8 -.9 .9 -2 .7 -6.7 .7 -16.8 1.3 -19.9 .5 -13.2 .8 -5 1.4 -11.5 4.3 -5 1.2 -.2-.1 -.1-.5 .8-3.9 -.5-.8 -.7-.6 -1.9-.7 -2.7-.3 -6.4 .3 -3.2 1 -1.1 .8 -.5 .9 .1 1.8 2.2 3.8 -4 .9 -5.6-.4 -5.5 2.4 -5 .6 -2.4-.1 -7.6-1.7 -9.7-1.1 -2.6-1.2 -.7-1.2 .7-1.1 5.2-2.1 2.4-2 .2-1.2 -.8-1.8 -1.7 .4 -2.1 1.8 -1.2 .6 -4.7 .8 -3.8-.1 -10.3-1 -10.2-.4 -3.6 .6 -3.8-.4 -7.6 1.1 -7.9 .7 -9.1 0 -13.8 .8 -4.4-.2 -1.6-.3 -.2-.3 .5-3.2 1.5-2 2.8-1.5 4.9-1.1 8.8-.8 23.5-.7 16.1 1.1 3.8-.5 7.7-2 5.3-.4 4.7 .1 3.5 .5 2.3 .8 2.4 1.5 7.5-4.4 1.4-1.5zM338 187.1l5.3-.1 4.3 1 6.9 3.7 5.8 2.6 5 3.6 2.1 .9 3.2 .3 9.1-.9 2.1 .3 1.7 .5 1.6 1.1 2.5 2.7 1.5 1 2.4 .8 5.4 1.3 2 1.2 .5 .9 .3 1.5 0 7.3 -166.5 0 0-6.8 .8-1.1 1.3-.9 3.2-1.4 3.2-.7 10 .2 3.3-.4 2.6-1.1 .7-.7 .3-.9 -.2-.9 -.8-.9 -1.5-.8 -1.7-.5 -3.3-.3 -8.8 .2 -2.3-.3 -2.4-.8 -3-1.6 -1.1-1.1 0-1.2 .7-.6 1.1-.5 5-.5 18.2 .1 13.8 1.5 10 .4 7-.3 9.4-1.3 9.1 1.4 7.3 .1 4.4-.5 3.6-.9 2.6-1.3 2.9-2.6 1.8-1.1 2.9-.8zM5.1 204.5l5-.2 7.4 .4 9.4 1.8 4.4 .4 14.3-.9 32 .8 21.5-.3 12.3 .4 22 .2 14.7-.4 38.2 .1 17.6-.4 2.9 .3 2.7 .7 1.9 .9 1 .9 .6 1.4 -.1 6.2 -218.3 0 0-10.5 5.5 0 .5-.7 1.2-.5zM422.4 216.8l.2-9.3 5.6 0 0 9.3z"/>
<path fill="#cc481b" d="M-5.4 -5.4l433.6 0 0 36.5 -5.6 0 -2.7 .8 -4.1 .5 -5 1.6 -3.5 0 -4.4 .6 -2-1.1 -4.7 .3 -1.1 .7 -.4 .9 .3 1 .9 .6 2.3 0 3.5-1.6 .6 .1 .1 3.7 -.8 1.5 -3.1 2.5 -1.5 .8 -1.4 .2 -2.7-1.5 -7.6 4.8 -2.1 .8 -1.7 .3 -.6-.2 -1.5-2.5 -1.7-1.7 -1.8-.8 -3.3-.7 -1.4-1 -2.3-.3 -2.1-.7 -1.5-1 -2.3-2.6 -1.8-1.1 -3.5-.7 -7.9-.1 -3.2-.3 -2.7-1 -3.8-2.3 -2.4-.7 -3.2-.2 -3.5 .4 -2.4 .8 -5.2 2.4 -4.4 .7 -5.6-.4 -9.8-2.7 -9.3-1.2 -4.1-.2 -3.2 .2 -3 .7 -2.1 1 -.9 .9 -.6 1.2 .1 1.5 .5 1.4 .9 1.2 1.1 .9 3.4 1.1 4.1 .3 10.3-.2 16.7 .8 24.6-.8 3.9 .3 2.9 .7 2.3 .9 1 1 -.3 .9 -1.6 1.1 -6.8 3 -1.6 1 -.9 1.3 0 3.3 -.6 1.4 -2.7 2.1 -3.2 1.5 -2 .4 -2.4 .2 -7.6-.8 -3.8-.1 -12.7 1.5 -5 0 -16.1-3.3 -4.1-1.2 -2.6-1.2 -3.6-2.1 -1.4-1.8 -.9-.6 -2.5-.4 -9.6-3.9 -1.2-.8 -.8-1.2 0-1.2 .8-3.8 -.2-.9 -.6-.8 -2.1-1.1 -7.3-1.9 -1.3-.9 -2.5-2.3 -2.1-1.2 -2-.7 -1.9 .4 -.8-1.2 -1.9-1.4 -1.5-1.8 .7-.9 3.4-2 .4-.6 -.1-.3 -3.8-2.1 -6.6-2.5 -5.6-1.6 -5.5-1.1 -3.8-.3 -4.7 .1 -6.2 .7 -2.4 .8 -6.1 2.7 -3.2 .7 -3.3 .2 -.9-.3 0-.5 3.2-6.8 -.5-.6 -1-.3 -2.2 0 -4.2 1.3 -3.2 .1 -2.6-.9 -.8-.8 -.5-1.1 -5.5-.4 -4.4 .1 -7.6 1 -11.5 .2 -9.8 1.1 1.1 4.1 3.5 .7 3 2 1.4 1.4 .6 1.2 .1 .9 -.4 1.7 2.6 1.3 .6 .8 -.6 4.2 -1.5 .9 -1.1 1.3 -.8 1.5 -1.3 4.1 -.8 1.2 -1.3 1.2 .1 1.2 1 2 -.5 .2 -6.1-.4 -3 .1 -4.1 1 -3.8 1.5 -4.6 2.9 -2.3 2.1 -.3 1.4 1.2 3.8 -.2 1.2 -.7 .9 -1.4 .9 -2.3 .7 -2.6 .4 -2.4 0 -1.8-.2 -1.4-.6 -.8-.9 -1-2.4 -1-1.1 -1.9-1.1 -6.1-2.4 -1.3-.9 -.8-1.2 0-2.1 .5-1.1 .8-.9 1.9-1.2 5-2.3 1.6-1.2 -3.6-3.8 -3-.7 -3.8-.4 -12.3 .4 -3.2-.2 -2.7-.5 -2.3-1 -4.7-2.8 -6.3-2.8 -1.7-1.4 -.4-1.5 -7.8 .4 -9-1 -4.5 0 -2.3 2.1 -3 1 -3.2 .4 -9.1 0 -3.8 1.6 -1.5 2.5 -1.4 1.4 -1.5 .7 -1.8 .3 -2 0 -1.8-.4 -4-2.2 -1.9-.8 -6.1 0zM67.7 52.8l7.9-.5 2.9 .5 2 1.4 .5 .8 0 .9 -.7 .9 -1 .6 -3.5 1.2 -4.6 .9 -3.5 .1 -1-1 -.5-1.5 0-1.8 .6-2.1zM320.4 178.3l4.7 0 10.3 1.7 12.9 .1 4.8 .9 4.2 1.4 -4.9 .8 -11.7 .5 -8.5-1 -5.9 .9 -2.6 .2 -7.1-.8 -1.8-.4 -.7-.4 1-1.5 1.5-1.2 1.8-.7zM185.8 180.1l23.4-.2 26.4 .9 14.1-.6 2.6 .4 1.6 .7 1 1.1 .6 2.1 -2.2 .9 -4.5 .6 -48.4 3 -15.6 4.7 -.3-.1 .2-2.6 -.6-1.5 -1.7-1.4 -2.3-.8 -3.8-.3 -12.3 .1 -3 .5 -6.1 1.9 -5.3 .2 -3.3-.4 -2.6-1 -1.5-1.4 -.6-1.8 .2-2.1 1-1.4 1.5-.9 2-.5 5.3 .3 8.2 2.1 3.3 .4 9.7-1 9.3-1.6zM136.7 182.2l1.4 0 -1.5 2.6 -.1 2.6 -.4 .8 -2.4-1.4 -1.2-1.1 0-.3 1.6-2.1zM115.9 182.4l4.6-.2 4.1 .6 3 1.4 1.2 1.2 0 .6 -4.2 3.8 -1.7 .6 -2.4 .3 -4.4-.1 -8.8-1.4 -1-1.5 -.1-1.1 1.9-1.5 4-1.8zM61.8 184.5l24.1-.5 4.4 .3 4.6 1.1 1.5 .9 .2 .6 -.8 .5 -4.5 2.1 -3.1-.1 -11.7 2 -4.4 .3 -9.1 0 -10.9 .7 -3.5-.1 -1.6-.5 .4-2.3 .9-1.5 2-1.4 2.7-.9 3.8-.7zM335.8 199.2l7.5-.1 5.9 .6 1.5 .5 .8 .6 .6 1 -.1 .9 -.9 1.5 -1.9 1.1 -2.6 .6 -3.9 .4 -5 0 -4.1-.5 -2.6-.9 -1.6-1.3 -.3-1.5 1-1.5 2.4-.9z"/>
<path fill="#c33b17" d="M-5.4 -5.4l433.6 0 0 35.5 -5.6 0 -3.2 .8 -5-.4 -12.4 .2 -5.8-.4 -3.6-.9 -3.2-2.5 -1.5-.7 -11.1-1.3 -2.4-.8 -1.7-1.3 -3.3-.3 -3.8 .4 -2.3-.3 -2.1 1.4 -3.2 .6 -12.3-.8 -2.1 .6 -3.2 2.3 -2.1 .8 -3.2 .5 -9.4 .7 -6.2 1.9 -2.3 .4 -5-.2 -24.9-2.8 -4.2 .1 -7 1 -2.6 0 -3-.7 -1-1 -1.6-.5 -2.4-1.8 -1.4-.5 -2.7 .1 -2 1.1 -1.5 .2 -4.1-.7 -5.6-.5 -3.1-.9 -.8-.6 .4-1.1 -.2-.6 -1-.9 -10.9-4.2 -.1-.5 .6-1.8 -1-.6 -3.9-.1 -4.1 .5 -5.2-1.1 -4.2-.3 -9.9 .5 -4.7 .9 -6.3 2.9 -4.3 1 -.7-.4 0-1.2 1.2-3.2 2.1-2.1 -.6-.6 -2-.4 -11.2-1.4 -12.3-.3 -7.9 1 -10.9 .2 -7.9 .8 -3.2-.1 -.9 .3 -1 2 -1.7 1.7 .1 .6 1.4 .5 5.3 .5 1.8 .5 2.2 1.5 1.1 1.7 -.3 .9 -2.8 1.2 -.7 .6 -.4 .8 .3 1.2 2.2 2.7 .4 1.4 -.7 7.1 -1 2.3 -2.4 2.6 -4.4-.6 -3.8 .5 -9.7 2.9 -1.2 .5 -.9 1.3 -1.1 .7 -2.1 0 -2.9 1.2 -3.3 .7 -4.4 .3 -2.2-.7 -.4-.6 0-.9 1.2-1.4 3.9-2.7 .4-.5 -1.7-1.2 -2.9-1.3 -1.2-.9 -1.5-1.6 -.8-2.4 -5.6-1.9 -6.7-3.1 -2.7-.3 -6.8 .5 -2.9-.2 -5-1.6 -1.2-.7 -.9-1.2 -3.2-.2 -3.8-.7 -10 .9 -8.8-1.1 -15.8-.8 -3.4 .4 -1.9 .6 -1.6 .9 -1.9 1.6 -4.1 0 -2.3 .5 -1.9 2 -2.6 1.2 -5.3-.4 -7 .1zM252.9 28l1.5-.1 .8 .7 -.5 .6 -1.2 .2 -.7-.5zM380.7 35.4l4.9 .4 3 .7 2 1.2 -.1 1.8 -1.4 1.7 -2.8 2.1 -2.8 1.7 -2.3 .8 -2.5-2.5 -4.8-1.2 -.9-.6 -.3-.8 .4-.9 1.9-2.1 3.3-1.8zM322 180.4l3.5 0 5.2 1.2 -.1 .3 -2.2 .5 -3.3 .6 -3.8-.2 -2.4-.6 1.4-1.2zM201.3 181.6l8.2-.1 7.3 1 2.8 .8 1.6 .9 .9 1 .2 1.4 -.3 .3 -2.6 .3 -19.3 1.4 -10 2.8 -1.1-5.1 .2-1.2 .7-.9 1.7-.9 2.3-.6zM148.4 182.2l2.6 .2 2.4 .8 1.4 1 .2 1.2 -1.2 1.2 -2.5 .7 -2.6 .1 -2.4-.5 -.9-.6 -.7-.9 0-1.5 1.3-1.2zM338.4 182.4l3.5-.2 .9 .2 -1.8 .2zM119.2 183.6l2.5 .1 2.3 .5 1.9 1.2 .8 .8 -.1 .4 -1.9 2.3 -2 .9 -4.5 .3 -4.2-.9 -.9-2.3 .6-1.5 2.1-1.2zM63.1 185.7l19 .1 2.7 .5 .4 .3 .2 .5 -.8 2.1 -.5 .3 -7.3 1.4 -4.4 .4 -9.1 0 -8.8 .5 -3.9-.3 .8-2.3 2.2-1.7 4.1-1.2z"/>
<path fill="#a02116" d="M-5.4 -5.4l433.6 0 0 34.1 -5.6 0 -7.4-.7 -13.2-.2 -2.1-.4 -1.4-.5 -.6-.9 .7-1.2 -2.2-1.2 -1.7-.5 -5.6 .1 -3.8 .8 -3.8 .1 -3.5-.6 -3-1.5 -5.6-.3 -4.1 .3 -4.1-1.1 -.9 .1 -2.3 1.1 -2.6 .1 -2.1-.3 -1.6-.6 -6.6-1.1 -3.2-1.1 -3 1.8 -4.4 1.7 -2.3 .5 -4.4 0 -2.4 .3 -12.9 4.1 -5.9 .6 -9.1-.4 -3.7-1.4 -1.9-1.1 -1.1 .6 -1.8 .2 -5-.8 -3.2 .7 -3.5 .2 -7.7-.5 -1.7-.5 -2.4-1.9 -2.9-.7 -4.3 .3 -2.5 1.2 -4.7-.4 -1.6-.8 .4-1.2 -.8-.9 -2.8-1.2 -11.3-3.5 -.5-.3 .5-1.5 -.3-.5 -.9-.5 -1.4-.3 -8.3-.1 -4.7-.9 -3.5-.4 -13.8 .9 -4.4 .9 -4.9 2.7 -2.7 .8 -.3-1.1 .5-2 1-1.1 2.6-1.2 .1-.7 -.7-.6 -2.3-.5 -12.1-1.3 -7.6-.4 -5.6 .1 -7.6 1 -7.1 .1 -11.7 .9 -3.8-.4 -2.4 .3 -2.3-.5 -2.1 0 -2 .1 -.3 .3 -.3 1.5 2.9 0 3.5-.9 .6 .1 .6 .8 -.1 .6 -.5 .7 -2.6 1.5 -.2 .7 .5 .6 1.4 .4 8 .6 1.6 .8 1.3 1.4 -.2 .9 -5.9 1.8 -1.1 .6 -.7 .9 .6 1.7 1.5 2.1 .6 1.7 1.3 1.2 1.2 4.4 -.1 2.4 -.6 1.1 -1 .6 -3.5-1.1 -2.7 .7 -2.2 .1 -8 1.9 -2.7 2.2 -1.4 2.2 -1.2 .4 -1.2-.6 -1.8-2.3 -1.1-.9 -8.2-2.4 -1.8-1 -1.2-1.1 -.5-1 .3-3.5 -3.4-2.1 -2.8-2.6 -6.2-1.3 -1.5 0 -3.8 .8 -4.7-.8 -5.9-.3 -4.4-.9 -3.8-.1 -3.5-.6 -10.3 1 -8.5-1.1 -15.5-1 -5 .7 -5.6 2 -3.2-.2 -3.5 .6 -1.6 .6 -1.4 1.4 -1.5 .5 -4.1 .5 -6.7 0zM66.8 19.5l-.6 .3 -.3 .6 .6 .7 1.5 .1 1.1-.8 -.3-.6 -.5-.3zM123.4 14.2l-1.1 .6 -2.7 2.1 -.4 .9 .3 .5 1.4 .9 2.5 1 4.2 .8 1.4-.1 .3-.8 -.3-1.2 -1.8-3.2 -2-1.4zM293.7 21.3l-.9 .7 -.3 1.1 2.4-1.2 0-.3 -.4-.3zM378.9 36.8l2-.2 3.2 .5 1 .3 -.1 .9 -.6 1.2 -1 1.2 -3.1 2 -5.9-1.5 -.3-.5 .6-1.2 2.3-1.8zM203.8 183.3l3.7 0 3.3 .6 2.3 1.2 .3 1.2 -.3 .6 -1.3 .2 -13.2 1.2 -.6 0 -1-.9 -.2-.5 .2-.9 1.2-1.2 2.2-.9zM66.4 187.4l5.1 0 4.1 .3 2.3 .8 1.4 1.3 -6.9 1 -16.4 .2 1.1-1.3 2.2-1.1 3.1-.7z"/>
<path fill="#88151a" d="M-5.4 -5.4l433.6 0 0 31.1 -5.6 0 -8.2-1 -4.4 .8 -2.1 0 -7.3-1.1 -4.7-1.8 -1.5-.3 -8.5 .2 -4.1 .4 -2.4-.4 -2.2-1.2 -1-.2 -7-.2 -3.6 .3 -4.4-1.4 -8.2 .6 -2.6-.1 -5.6-.8 -1.5-.6 -1.7-1.4 -1.2-.2 -3.8 1.8 -3.8 .4 -3-.6 -2.6-1.5 -4.4-.2 -2.1 .2 -1.8 .7 1 2.3 -.4 1.1 -1 1 -3.1 1.5 -4.1 1.1 -4.7 .5 -3.5-.5 -1.2-.9 0-2 -.2-.3 -.9-.2 -1.2 .5 -.3 .6 .3 1.7 -.2 .9 -1 .8 -.9 .1 -.5-.6 0-2.7 -.4-1.1 -1.1-1.2 -1.2-.4 -1.2 .3 -.8 .7 -.6 .9 -.6 2.3 -1.2 .8 -2.1 .1 -3.8-.7 -3.5 .7 -4.1 .1 -6.5-.8 -2-2.1 -2.7-1.1 -10.2-1.5 -15.3-3.7 -2.7-.9 -.5-1.7 -1.5-1 -10.3-.8 -6.1-1.3 -3.6-.1 -8.8 .7 -7 .3 -3.2 .5 -.4-1.3 -.5-.6 -2.1-.7 -14.4-1.5 -6.1-.3 -6.8 0 -7.9 1.1 -6.5 .1 -11.7 .9 -4.4-.6 -6.5-.3 -7 .4 -2.3 .6 -.7 3.6 .4 1.4 -1.6 2.1 -.1 1.4 1.1 1 8.6 3.2 5.8 3.8 1.2 1.4 .5 3.2 1.8 .5 1.4 2 .6 1.4 -.1 1.2 -.5 .2 -2.6-.5 -2.4 .8 -1.1 .1 -3.3-.8 -3.8 1 -4.1 .2 -.9-.4 -1-1.5 -2.8-.5 -2.9 .4 -6.2 1.6 -2.3 .3 -.9-.3 -.9-.8 -.4-.7 -.1-.9 1.1-2.1 2.6-2.3 -.4-1.8 .4-1.4 -.7-2.1 .1-.6 1.3-1.1 0-.3 -2.1-.7 -2-1.7 -1-.3 -.9 .1 -1.1 .7 -2.1 2.7 -1.3 1.2 -1 .6 -1.2 .2 -1.8-.4 -4.4-2.5 -3.8 .5 -3.5 .1 -2.7-.3 -2-.8 -.5 2 -1.6 .6 -1.7-.2 -3.8-.8 -3 .2 -3.5-.5 -10.3 1.1 -8.5-1.1 -15.3-1.1 -4.9 .6 -4.7 1.3 -3.6-.1 -3.2 .3 -7.6 1.8 -3.3-.3 -5.5 0zM67.4 18.6l-1.5 .4 -.9 1.1 .2 1.2 1 .7 1.2 .3 .9-.2 1.7-.8 1.1-.9 -.2-.6 -.9-.6zM278.7 18.1l-2 .5 -1.3 .9 -.8 1.2 .1 .9 1.1 .1 1.2-.7 1.9-2.4zM192.1 13.1l2.5-.3 -2.4 2 -1.4 .6 -.1-.9 .6-1zM133.2 16.6l6.4 .1 1.7 .8 .7 1.1 -4.2 .9 -3.2 .1 -2.4-.7 -1.6-1.4 .8-.6zM119.2 38.6l.4 .3 -.1 .6 -1.9 2 -.2-.3 .5-.8z"/>
<path fill="#741d1d" d="M-5.4 -5.4l433.6 0 0 30 -5.6 0 -8.5-.6 -3.8 .9 -1.8 0 -7.9-1.2 -5.9-2.1 -13.2 0 -2.1-.5 -3.5-1.8 -2.6 .5 -.4-2 -1.1-1.2 -2.1-.6 -3.5-.3 -2.9 .2 -1.8 .6 -.6 .7 .1 1.1 -9.5 1.2 -6.4-.6 -1.3-.6 -1.7-1.4 -1.1-.4 -3.5 .4 -1.8 .6 -1.8 .2 -2-.3 -2.1-.9 -8.5 .1 -2.7 .6 -2.6 1.1 -.5 .6 0 1.2 -.6 .9 -1.2 .8 -1.8 .5 -2.6 .1 -7.7-2 -3.8 .5 -2.3-1 -1.5-.2 -1.2 .4 -1.1 .9 -.7 1.2 -.5 1.7 -1.2 .9 -1.5 .1 -3.8-.7 -3.5 .8 -3.5 0 -5.6-1.1 -1-2 -2.2-1.2 -11.8-2 -13.5-2.8 -4.1-1.2 -1.1-1.6 -2.7-1 -8.3-.8 -5.8-1.4 -2.9-.5 -3.3 .1 -8.2 .8 -3.8 0 -6.2-.4 -1.4-.7 -1.8-.4 -7.4-.4 -7-.9 -10.5-.2 -3.6 .1 -7.3 1 -6.2 .1 -11.7 .8 -4.4-.7 -4.4-.3 -8.2 .2 -17.1 2.1 -1 .4 -.3 .6 1.7 1.8 .7 1.1 .3 1.5 0 2.1 -1.1 .4 -5.3-.3 -2.9 .9 -3.2-.4 -.9 .7 -.4 1 .1 1.2 .9 1.4 -.6 .6 -4.1-1.4 -2.9-1.6 -5.3 .3 -4.7-.3 -2.7-.5 -3.8-1.8 -2.3-.3 -1.8 .3 -1.3 .9 -.5 1.2 .4 1.8 -.4 .5 -3.2-.1 -8.5 1.2 -2.1 0 -7.9-1.1 -14.7-1.1 -4.9 .6 -3.6 .9 -2.9-.4 -4.4 .3 -3.8 .7 -3.8 1 -9.7-.1zM278.4 17.4l-1.8 .7 -2.1 1.4 -1.1 1.5 -.2 .6 .3 .7 .5 .4 1.2 .1 1.9-.9 3.2-3.8 -.3-.6zM374.4 17.2l-.8 .3 0 .5 .5 .4 .9 .1 .4-.7zM134.7 17.2l4.3-.1 1.1 .4 .5 .6 -4.2 .3 -2.9-.6 .2-.3zM117.7 21.6l1.3-.2 2.1 .6 7 4.3 2 2 .3 1.2 -.2 1.2 -.9 .7 -.9 .2 -2.3-.1 -.9-.4 -1-1.3 .2-2.6 -.4-1.2 -2.3-2.1 -1.2-.7 -1.8-.4 -2.1 0zM70.2 22.5l1.9-.9 .9 .2 .5 1 -.2 .5 -1.2 .4 -1.8-.7zM122.2 32.1l2.7-.1 .9 .4 .4 .6 -1 .9 -3.2 .4 -.5-.4 -.2-.9 .4-.6z"/>
<path fill="#591e1c" d="M-5.4 -5.4l433.6 0 0 28.9 -8 .2 -6.4-.3 -4.4 .9 -3.8-.4 -4.5-.9 -2.4-.8 1.5-1.5 -.2-.9 -1.8-.9 -3.2-.6 -2.1 0 -2 .4 -3 1.9 -6.1-.1 -1.4-.4 -.8-.6 -.4-.9 -.2-2 -.9-1.2 -1.3-.7 -5.6-.9 -10.6-.4 -6.1 .4 -4.4 .9 -2.2 1.3 -.5 1.2 .4 1.1 -.7 .2 -2.3-.4 -1.8-1.7 -1.1-.4 -4.7 .2 -7.4-.7 -3.8 .5 -4.4 0 -2.4 .3 -3.2 .9 -3.8 2.1 -5.6 .8 -5.3-.7 -4.1 .2 -3.2-.4 -1.2 .3 -1.3 .9 -.9 1.2 -.9 2 -.9 .6 -1.3 .1 -3.8-.5 -3.2 .7 -2.1 0 -1.7-.3 -.4-.6 3.6-4.1 2.5-2 .2-.6 -1.8-.2 -3.2 .5 -2.1 .9 -2.6 2 -3.3-.9 -10.2-1.3 -13.2-2.5 -5.9-1.6 -.7-1 -1.7-.8 -2.9-.5 -6.5-.8 -6.7-1.9 -2.9-.5 -3.6-.1 -7 1 -3.5 .2 -10.6-1.6 -6.5 .2 -9.4-.9 -9.9-.2 -3.9 .2 -7 1 -6.2 .1 -11.4 .7 -4.4-.7 -4.1-.3 -9.1 .2 -10 .8 -7.1 .9 -1.8 .6 -.7 .6 -.2 .6 .3 .6 1.9 1.2 .8 .8 .1 1.2 -.7 .9 -1.7 .8 -2.9-.1 -2.4 .5 -2.9-1.2 -1.8 0 -.8 .9 -.8 3.5 -.4 .6 -.6 .2 -1.2-.2 -2.9-1.7 -5.6 .5 -4.4-.4 -2.2-.8 -3.1-1.8 -.9-.1 -3.2 .3 -2.4 .7 -3.2-.3 -4.1-.1 -18.2 1.6 -3.5 .9 -.2 .6 1 .9 -8.2-.5 -6.4 .7 -4.7-.4 -8 .9 -6.4 1.4 -8.2-.2zM80.3 15l-3.1 1.3 -.5 .6 .7 .3 1.4 .2 3.2-.5 .2-.6 -.6-.9 -.4-.3z"/>
<path fill="#4d1e1b" d="M-5.4 -5.4l433.6 0 0 26.3 -5.6 0 -3.4-3.1 -1.9-.9 -2.1-.4 -2.9-.1 -5.9 .4 -2.9 0 -14.1-1.3 -6.7-2.2 -4.2-.7 -21.1-.9 -5.6 .4 -4.2 .7 -2.5 .9 -2.1 1.7 -1.4-.2 -3.6 .3 -1.7-.2 -4.1-.9 -3.2-1.6 -1.8-.2 -.7 .5 .4 1.4 -1.2 .7 -5 .2 -3.5 .4 -2.4 .7 -2.7 1.6 -1.7 .3 -3.8 .1 -2.3-.7 -2.7-.3 -5.2 .4 -4.2 1.2 -1.6 1.3 -.9 1.2 -.7 1.4 -.9 .6 -4.4-.4 -4.1 .8 -1.2-.4 -.2-.6 .8-1.6 1.8-1.9 3.5-1.9 4.4-1 .7-.3 .1-.3 -1.1-.2 -6.7 .2 -4.1 .8 -3 1.2 -10.6-.8 -6.4-.9 -10-1.9 -5.9-1.6 -.8-.9 -.9-.3 -8.8-1.5 -11.5-3.2 -4.4-.1 -7 1.1 -3 .2 -2.9-.3 -7-1.6 -4.7-.3 -3.8 .3 -1.3 .4 -.8 .6 -.6 0 -6.4-.6 -11.2-.1 -9.1 1.1 -5.6 .1 -11.7 .8 -5-.8 -5.3-.3 -8.8 .1 -9.4 .6 -5.6 .7 -3.2 .8 -1.1 .8 -.7 .9 -.2 .9 .3 .6 2.5 .9 .8 .8 -.2 .9 -1.1 .6 -1.2 .1 -1.1-.4 -1.8-1.5 -1.5 1.1 -1.8-.2 -1-.6 -1-1.4 -.6-.4 -1.2 0 -1 .4 -.5 .6 -.2 .5 .3 1.5 -.2 1.8 .3 1.7 -.2 .6 -.5 .4 -.6-.1 -1.1-.9 -2.1-2.6 -2.4-1.3 -1.7-1.6 -.9-.3 -4.1 1.5 -4.7-.4 -4.7 1.5 -7.7-.4 -5.5 0 -10.3 1.4 -12.1 .9 -11.7 1.3 -14.1 2.2 -3.5 .2 -2.7-.4 -5.5 0zM409.6 22.2l3.4 .3 -3.6 1.1 -4-.6 .2-.2 1.1-.4z"/>
<path fill="#3c1d19" d="M186.3 -5.4l176.5 0 .1 6.7 .6 1.2 1.9 1.2 2.9 .9 3.5 .5 14.7 0 7.6 .7 2.5 .8 2 1.2 1.4 1.7 .5 1.8 -.4 .9 -1 .6 -1.8 .4 -2.3 .1 -2.9-.3 -7.4-1.8 -4.4-.7 -25.8-.5 -7.9 .5 -4.2 .7 -2.3 1.2 -1.5 2.1 -2.6-.3 -5-2.2 -5.3-.9 -1.3 .5 -.3 .6 .2 1.2 -.4 .1 -5.8-.7 -5.6 0 -2.9 .5 -6.2 2 -11.7 1.2 -.6-1.2 -1.8-.4 -7 .5 -3.6 .6 -14.1-.3 -6.8-.9 -7.6-1.4 -10.2-3.2 -9.9-2.1 -5.7-2.3 -3.2-.8 -6.2-.3 -9.7 1.3 -16.1-2.6 -2-.9 -.9-1.2zM82.9 5.1l5 .2 3.5 .9 1.3 .7 .8 .9 .5 1.2 -.2 .8 -1.5 1.2 -3.8 .9 -12 .2 -10.9 1.2 -11.7-.2 -9 2 -3.7 .6 -15.2 .4 -5.3 .4 -3.2 .6 -6.8 1.8 -2.9 .4 -2.1-.1 -1.7-.6 -1.1-.8 -2.8-3 -5.5 0 0-6.5 5.5 0 2.4-1.6 3.8-.9 4.4-.1 10 .4 18.8 .3 13.5-.7 15.8 0zM422.6 8.7l5.6-.1 0 6 -5.6 0 -.4-.4 -.9-1.1 -.2-1.2 .4-1.5z"/>
<path fill="#331a16" d="M247 -5.4l68.9 0 0 6.4 .6 1.5 2.5 1.5 8.2 2.6 1.4 1.2 .2 1.2 -1.2 1.1 -2.5 0 -2 .7 -10.6-.4 -4.1 .2 -2.9 .7 -5 1.7 -3 .4 -3.2-.1 -7.3-1.2 -5.3 .2 -.3-.1 .7-.6 -1-.4 -1.2 .4 .6 .6 -.3 .3 -9.4 .9 -6.7-.1 -8-1 -4.2-1 -3.3-1.2 -2.6-1.4 -1-1.2 -.1-1.5 1.5-2.6 .5-1.5z"/>
<rect x="-1" y="210.6" width="426" height="1.2" fill="#fff" fill-opacity="0.55"/>
<path d="M14.1 28.7L18.8 27.6L21.1 27.9L19.4 26.8L15.9 25.5L19.4 24.4L21.7 23.1L27.6 22.0L32.9 22.5L37.6 23.1L43.4 23.5L48.1 24.1L51.7 24.7L54.0 24.1L55.2 24.1L59.9 23.5L61.1 22.9L64.6 24.1L69.3 23.7L74.0 24.7L76.9 25.6L78.7 26.1L83.4 26.2L84.5 27.2L85.7 25.8L89.2 25.8L92.8 26.1L96.3 26.1L97.5 25.2L98.6 24.1L98.6 22.0L100.4 21.1L102.7 22.9L103.9 24.1L105.7 25.2L108.0 26.4L109.2 26.7L111.0 25.2L111.6 23.7L115.1 23.7L115.9 25.2L115.1 26.4L115.9 27.0L113.3 27.9L110.4 27.8L110.4 29.4L108.6 30.2L105.7 30.9L102.7 31.9L101.0 33.7L100.2 35.2L100.8 36.6L102.2 36.8L102.7 38.8L105.7 38.8L108.6 39.9L111.6 40.7L114.7 41.0L114.8 43.4L115.7 44.4L116.8 45.4L118.6 45.2L119.0 44.0L118.6 42.0L118.0 41.5L120.9 40.2L121.5 39.3L121.3 37.9L119.2 36.8L120.4 35.6L120.4 34.1L119.8 32.4L122.7 32.5L125.1 32.4L127.2 33.5L129.4 34.1L129.8 35.8L129.8 36.6L131.5 37.0L133.9 36.6L135.0 34.9L136.2 35.8L138.0 37.6L139.1 39.3L140.9 40.7L143.3 41.5L144.1 42.3L145.6 43.4L146.0 44.6L144.7 45.2L142.7 45.6L140.9 46.7L137.4 46.6L133.3 46.7L132.3 47.8L130.8 48.4L129.5 49.6L128.0 50.7L129.2 50.5L131.5 48.8L133.3 48.0L135.6 48.1L135.9 48.7L134.5 49.3L135.3 50.5L135.4 51.4L136.6 51.7L138.6 51.9L139.4 52.1L140.6 50.5L141.1 51.7L139.7 52.6L136.8 53.3L134.5 54.6L133.6 54.3L133.9 53.4L135.6 52.5L134.1 52.6L132.7 52.8L132.7 53.3L130.9 53.7L129.2 54.3L128.3 55.2L128.2 55.8L129.2 56.4L128.5 57.0L127.4 57.1L125.6 57.3L124.5 58.0L124.5 58.7L123.9 59.5L123.3 60.0L122.7 59.4L123.2 60.6L122.5 61.9L122.1 62.4L121.7 61.1L121.5 62.2L122.2 62.8L122.7 64.2L121.5 64.9L120.0 65.8L118.6 66.6L117.4 67.4L116.3 68.3L115.8 69.9L116.7 72.2L117.3 74.2L117.2 75.7L116.1 76.2L115.3 75.2L114.3 73.2L114.3 71.9L113.1 70.6L112.4 70.5L111.2 70.8L110.1 70.0L108.0 70.1L106.6 70.1L106.2 71.4L106.6 71.6L105.1 71.5L103.6 70.9L101.2 70.8L99.8 71.4L97.5 72.8L97.0 74.0L97.2 75.3L96.6 76.9L96.5 79.3L97.2 81.4L98.3 83.0L99.8 83.8L100.5 84.3L102.4 84.0L103.9 84.0L104.9 82.8L105.2 81.3L105.7 80.8L107.4 80.4L109.2 80.4L109.4 81.3L108.6 82.4L108.4 84.0L107.9 84.2L107.7 85.1L107.7 86.3L107.0 87.0L108.0 87.2L109.8 87.1L111.6 86.9L113.3 87.7L113.7 88.2L113.3 89.8L113.2 91.1L113.1 92.8L113.5 93.6L114.5 94.5L115.3 95.1L116.3 95.3L117.4 94.9L118.0 94.4L119.2 94.6L120.5 95.5L121.2 96.3L122.7 93.2L123.5 92.6L125.6 92.2L127.4 91.1L127.6 92.2L127.2 93.0L128.9 92.2L129.2 91.4L130.9 92.3L131.5 93.4L133.9 93.2L136.2 93.6L138.6 93.1L139.7 94.5L140.9 95.7L142.7 97.5L144.4 98.6L146.8 98.8L150.3 100.0L151.5 101.0L152.7 103.6L152.7 105.7L154.4 106.3L155.0 106.5L159.1 108.6L162.6 109.1L164.4 109.0L166.2 110.0L167.9 111.4L170.0 112.1L170.5 115.1L169.7 116.8L167.9 118.6L166.2 120.9L165.6 123.3L165.3 126.2L164.7 128.6L164.0 129.8L162.2 132.6L160.6 132.7L157.0 133.9L154.4 136.0L154.3 138.0L153.2 139.7L152.1 142.1L150.3 143.5L148.7 145.3L146.9 146.7L145.4 146.7L142.8 145.6L144.2 147.4L144.8 148.5L143.8 150.3L142.1 151.1L138.6 151.4L138.2 153.2L135.0 153.8L136.6 155.6L135.0 156.2L134.5 158.5L132.1 159.7L132.7 160.3L134.1 161.1L134.0 161.8L132.1 163.8L130.9 164.7L130.3 166.2L131.0 167.1L129.8 167.3L128.0 168.9L126.8 168.5L125.1 167.3L123.9 165.6L122.7 163.2L122.7 160.9L122.6 160.5L124.5 159.1L125.6 157.3L124.8 155.0L125.1 154.4L124.8 152.1L125.1 149.4L125.5 148.9L126.2 147.4L127.3 144.4L127.4 140.9L127.6 138.6L128.6 135.5L128.7 133.4L128.9 130.3L128.8 127.3L127.4 126.0L125.1 124.8L123.1 123.6L121.8 122.0L120.8 119.8L119.5 117.4L118.6 115.1L117.5 113.7L116.0 112.7L115.9 111.2L117.1 109.7L117.5 108.6L116.4 108.3L116.4 106.9L117.3 105.7L117.4 104.7L118.8 104.0L118.8 103.6L120.4 102.6L120.8 101.1L120.4 99.2L120.5 97.8L119.9 97.2L119.5 95.9L118.0 95.1L117.0 95.9L117.0 97.1L115.4 96.9L115.7 96.3L114.0 96.1L113.1 95.7L111.9 94.4L110.6 93.9L110.7 92.8L109.8 91.6L108.5 90.4L108.3 90.1L106.3 89.8L103.9 89.2L102.2 87.5L100.4 86.7L98.0 87.2L94.1 86.0L91.6 84.5L89.2 83.4L87.2 81.7L87.7 80.4L86.4 78.4L84.0 76.0L82.8 74.8L81.1 72.9L79.6 71.6L78.7 69.3L76.6 68.3L76.9 70.5L78.7 72.2L80.4 75.2L81.8 77.3L82.3 78.8L79.8 76.7L79.6 75.2L77.3 73.7L76.3 73.0L77.3 72.2L75.5 70.5L74.3 68.5L73.7 67.3L72.2 65.8L69.8 65.2L68.2 62.7L67.5 61.3L66.0 59.3L65.3 58.2L65.5 55.2L65.8 51.4L64.9 48.8L67.5 49.3L66.7 47.8L64.6 46.6L61.6 45.8L61.1 44.0L58.7 41.7L57.0 40.5L54.6 38.2L51.7 37.1L47.3 35.8L42.3 35.2L39.3 34.1L37.0 35.2L33.5 36.2L35.2 33.8L32.3 34.6L31.1 35.8L29.9 37.2L27.6 38.8L25.2 39.9L22.3 40.9L19.4 41.3L17.8 41.6L20.5 40.2L22.9 39.3L25.8 38.2L27.0 36.6L24.7 37.0L21.1 36.8L21.1 35.2L17.0 34.1L16.4 32.9L18.2 31.7L22.3 30.5L22.3 29.6L20.0 29.9L17.0 29.9ZM205.1 63.5L207.8 64.2L209.0 64.5L211.4 63.6L214.9 62.5L217.2 62.5L220.2 62.2L222.9 61.9L224.3 62.2L223.7 62.9L223.8 64.0L224.0 64.9L223.2 65.9L224.4 66.7L226.9 67.0L229.2 67.6L230.9 69.0L232.5 69.5L233.9 70.1L234.8 69.3L235.0 68.0L236.6 67.0L238.4 67.4L239.5 68.1L240.7 68.6L243.1 68.8L245.4 69.4L246.6 69.0L247.8 68.6L249.3 68.9L251.3 69.0L251.9 68.7L252.5 67.2L253.1 65.9L253.4 64.0L253.9 62.7L253.1 62.7L252.0 62.5L250.7 63.3L249.9 63.4L247.4 62.4L247.2 63.1L245.7 63.1L244.2 62.5L243.5 62.2L243.3 61.1L242.8 60.6L242.7 59.5L242.1 59.3L242.1 58.7L241.9 58.0L241.8 57.8L240.0 57.7L239.5 58.5L239.0 58.8L238.3 58.1L237.9 58.8L238.4 59.5L238.7 60.4L239.5 60.8L239.5 61.4L238.6 61.2L238.6 61.8L238.3 62.8L237.6 62.8L236.8 62.5L236.1 61.3L237.0 60.7L236.1 60.6L235.7 59.9L235.1 59.2L234.1 58.4L234.1 57.1L233.7 56.2L232.5 55.5L230.6 54.6L229.2 53.8L228.9 52.8L227.7 53.1L227.3 52.3L227.5 52.0L225.8 52.5L225.9 53.0L226.0 54.0L227.2 54.5L228.0 55.8L230.4 56.5L230.2 57.1L231.3 57.4L232.5 58.0L233.1 58.6L233.0 58.9L231.3 58.1L230.9 59.1L231.4 59.9L230.7 60.6L230.2 61.2L229.8 61.1L229.9 60.1L230.3 59.7L229.7 58.6L228.7 58.0L228.0 57.8L227.3 57.3L226.5 57.2L225.7 56.7L224.4 55.9L223.7 55.2L223.5 54.6L222.9 53.9L221.8 53.5L220.9 54.1L219.9 54.4L218.4 55.1L217.6 54.8L216.6 54.7L215.5 54.8L214.9 55.3L215.0 55.9L215.2 56.0L213.9 57.1L212.5 57.5L212.3 57.9L211.0 59.3L211.6 60.1L210.8 60.7L210.4 61.5L208.8 62.6L206.2 62.6L205.0 63.3L204.8 63.4L204.0 62.8L203.1 62.0L202.0 62.2L200.8 62.2L201.0 60.6L200.2 60.1L200.8 58.7L201.1 57.3L200.9 56.1L200.4 55.2L201.5 54.7L202.1 54.3L204.7 54.5L206.9 54.6L207.8 54.7L209.3 54.7L209.6 54.6L210.0 53.2L210.1 52.1L210.0 51.4L209.0 50.7L208.8 50.1L208.1 49.9L206.2 49.6L205.7 48.8L206.7 48.5L207.8 48.4L209.0 48.6L209.5 48.5L209.5 47.4L210.0 47.7L211.1 47.8L211.5 47.6L212.7 47.1L213.2 46.1L213.6 45.8L214.8 45.6L216.1 44.6L216.9 43.6L217.7 43.2L219.6 43.0L220.8 42.7L221.5 42.4L221.8 42.2L221.5 41.2L221.1 40.5L220.9 39.3L221.5 38.6L223.8 37.9L223.7 38.5L223.5 39.2L224.2 39.5L223.3 39.8L222.9 40.5L222.6 41.1L223.1 41.7L224.2 42.3L225.5 42.0L227.2 41.7L228.0 42.4L230.4 41.9L232.5 41.3L233.3 41.8L234.6 41.7L234.8 41.2L236.0 40.7L236.1 40.3L236.0 39.0L236.6 38.2L237.9 37.9L238.6 38.8L239.5 38.8L240.0 37.8L240.0 37.1L239.0 36.8L238.8 36.2L240.5 35.8L244.2 35.8L246.8 35.3L245.4 35.0L244.8 34.5L242.5 34.8L240.7 35.0L238.4 35.5L237.2 34.8L236.5 34.1L236.4 32.9L236.4 31.6L238.4 30.6L240.1 29.7L241.2 29.4L240.3 28.5L239.7 28.4L237.4 28.7L236.6 29.8L235.4 30.8L233.7 31.5L232.5 32.3L231.8 32.4L231.6 33.2L231.6 34.4L233.1 35.0L233.4 35.8L232.3 36.6L231.1 36.9L231.0 37.8L230.6 39.1L230.2 39.7L229.7 39.7L228.4 39.9L228.0 40.6L226.5 40.5L226.3 39.9L226.5 39.2L225.3 37.9L224.5 36.6L223.8 35.5L223.7 36.2L222.5 36.5L220.8 37.5L219.6 37.6L217.9 36.5L217.5 34.8L217.2 33.5L217.5 32.6L218.6 32.3L219.6 31.7L221.3 31.1L222.9 30.9L223.1 30.3L224.3 29.5L225.8 28.5L226.3 27.7L228.3 26.7L229.0 25.8L230.7 25.2L233.7 23.8L235.8 23.4L239.2 22.7L241.7 22.2L244.2 22.3L247.8 23.0L245.4 23.6L246.6 23.8L250.1 24.3L253.6 24.5L256.0 25.5L258.9 26.4L259.5 27.4L258.3 27.9L256.0 28.1L252.5 27.6L249.5 26.9L250.7 27.6L252.2 28.8L252.1 29.9L254.8 30.6L256.0 30.2L254.2 29.4L255.4 29.2L257.7 29.8L258.9 29.8L258.3 28.8L260.7 27.7L263.0 28.2L263.0 27.0L262.8 25.4L262.2 25.1L265.4 25.5L265.4 27.1L266.6 27.0L268.3 26.2L271.3 25.4L273.6 24.8L274.8 25.5L275.9 25.2L279.5 24.8L281.8 25.0L282.4 23.8L283.0 23.7L287.1 24.7L287.7 25.2L290.0 24.9L291.8 25.5L291.8 23.5L289.7 22.3L291.8 21.1L292.4 20.0L293.6 19.6L295.9 20.1L296.9 21.1L296.5 22.3L296.9 24.1L297.9 25.2L295.3 27.0L295.9 27.8L298.3 27.0L298.8 25.2L300.6 24.7L298.3 23.5L298.3 21.7L300.0 20.8L303.0 20.8L305.3 21.0L307.1 21.4L308.8 22.9L308.8 21.7L306.5 20.0L306.5 19.3L310.6 19.0L313.5 18.8L313.5 17.6L318.2 16.8L321.7 16.3L325.3 16.4L327.6 15.9L330.0 15.3L333.8 14.4L335.8 14.8L337.0 15.9L340.5 15.6L344.1 16.4L340.5 18.8L335.8 20.0L340.5 18.9L344.1 19.0L344.6 19.5L352.3 20.0L355.8 19.1L360.5 19.4L362.8 20.0L362.8 21.4L365.2 22.3L367.5 21.7L372.2 21.7L375.8 20.5L376.9 20.2L382.8 20.7L387.5 21.7L391.0 22.3L395.7 22.3L399.2 23.8L401.6 24.0L411.0 24.7L411.6 23.5L414.5 23.7L418.0 23.8L422.7 24.7L422.7 29.4L421.0 29.9L419.8 29.7L421.6 31.5L421.9 32.3L419.2 32.3L415.7 33.1L413.3 34.1L411.6 35.2L411.3 35.3L407.5 34.8L404.5 35.3L403.1 35.5L403.1 37.6L401.6 37.8L403.1 39.7L401.4 41.1L399.2 41.7L399.2 43.2L397.5 43.6L397.2 44.6L395.4 45.8L394.5 44.0L394.0 41.1L394.3 39.0L395.7 37.8L398.1 37.0L401.0 34.9L403.4 33.5L403.9 32.3L401.6 33.5L399.2 33.1L399.2 34.5L395.4 33.3L393.4 35.8L389.9 36.5L388.4 35.8L386.3 35.8L382.2 35.9L379.3 36.0L375.8 37.9L373.4 39.6L372.5 41.3L370.1 41.5L372.2 42.3L373.4 42.5L375.5 42.0L377.4 43.1L376.9 44.3L377.4 44.7L376.7 45.2L376.6 46.4L376.2 48.1L376.1 48.3L374.0 50.7L371.7 52.8L370.5 53.7L368.1 55.3L366.4 55.0L365.0 55.8L364.0 56.4L363.7 57.2L363.8 57.8L361.7 58.7L361.1 59.5L362.1 60.5L363.3 62.2L363.4 63.4L363.1 64.3L361.7 64.7L359.9 65.3L359.8 64.0L360.1 62.5L360.0 61.6L358.5 61.3L358.1 60.5L358.5 59.3L357.4 58.7L355.8 59.1L354.0 60.0L354.0 59.3L354.9 58.1L353.4 57.5L351.7 58.9L349.9 59.7L349.6 59.9L350.5 60.8L351.1 61.6L353.1 61.3L355.2 61.8L355.0 62.4L353.2 62.8L352.6 63.4L351.5 64.2L351.3 64.8L352.6 65.5L353.4 67.4L354.4 68.5L354.4 69.4L352.9 70.1L354.6 70.7L354.2 72.2L353.2 72.8L352.3 74.2L351.8 75.2L350.7 76.6L350.0 77.0L348.4 78.3L345.8 79.1L345.5 79.5L344.6 79.6L342.9 80.1L341.1 80.7L340.9 81.8L340.3 80.4L338.8 80.2L336.8 81.3L335.8 82.4L335.6 83.6L336.4 84.8L337.6 86.2L338.4 86.8L339.4 88.7L339.7 90.4L339.6 91.8L338.2 93.0L337.0 93.5L336.7 94.4L335.0 95.5L334.7 93.9L333.5 93.4L332.9 93.2L332.1 91.9L331.5 91.4L330.0 90.8L329.4 89.8L328.8 90.4L328.8 91.6L328.2 92.8L327.9 94.8L328.8 95.7L329.4 97.2L330.6 97.7L331.5 98.4L332.8 100.0L332.8 102.2L333.7 104.0L332.9 104.2L331.7 103.2L330.3 102.2L329.4 100.4L329.1 98.9L328.8 98.0L328.2 97.1L327.0 96.3L326.8 96.1L327.0 94.5L327.1 92.8L327.0 91.0L326.7 89.2L326.1 87.5L326.0 86.3L324.7 86.3L323.4 87.1L322.1 86.9L322.3 85.1L321.7 83.4L320.6 82.2L319.7 81.0L319.2 79.5L317.6 79.3L315.9 80.0L313.5 80.4L313.3 81.6L311.8 82.5L310.0 84.0L308.0 86.0L306.5 87.0L305.5 88.1L305.7 90.3L305.2 92.8L305.1 93.6L304.1 94.8L303.2 95.2L302.4 96.2L301.2 95.1L300.6 93.4L299.8 91.6L298.8 89.5L298.3 88.1L297.4 85.7L296.9 83.4L296.7 81.6L296.6 80.4L296.5 79.8L296.1 80.8L294.7 81.3L293.6 81.0L292.4 79.6L293.9 78.7L291.8 78.1L290.6 77.5L290.0 76.6L289.5 75.9L286.5 76.0L283.6 76.2L280.6 75.9L278.6 75.5L278.1 74.0L275.9 74.3L274.2 74.3L272.4 73.2L271.0 71.6L270.1 70.2L268.9 70.0L267.7 70.5L267.7 71.2L268.6 72.6L270.1 74.3L270.3 75.5L271.3 75.2L272.0 76.3L271.6 77.1L273.0 77.3L275.1 77.0L276.3 76.0L277.2 74.9L277.6 76.3L278.1 77.3L280.2 78.0L281.6 79.3L280.4 81.6L279.2 83.4L278.3 84.5L276.3 85.4L274.8 85.7L272.7 86.9L269.5 88.4L267.1 89.6L264.2 90.7L262.4 90.8L262.1 89.8L261.6 88.1L261.4 86.3L260.1 84.5L258.9 82.8L257.4 81.0L257.3 80.4L256.6 78.1L255.2 76.3L253.6 74.6L252.5 72.8L252.5 71.0L251.6 73.0L249.6 70.5L250.7 72.8L251.3 74.2L252.5 76.3L253.3 77.7L254.7 79.8L255.0 81.6L255.2 82.7L256.6 84.5L257.7 87.1L259.5 88.7L261.3 90.4L262.2 91.1L262.1 92.2L263.0 93.4L264.2 93.4L266.6 92.5L268.9 92.4L271.5 91.7L271.4 93.4L271.0 94.5L269.8 96.3L268.3 99.2L267.1 101.0L264.7 103.3L262.4 105.1L260.7 106.9L259.5 108.0L258.6 109.2L258.0 110.4L257.2 112.1L257.5 113.7L257.7 115.7L258.3 117.4L258.9 118.6L259.0 120.9L259.3 122.7L258.9 123.9L258.1 125.1L256.0 126.0L254.8 126.8L253.6 128.0L252.3 128.9L252.9 130.9L253.1 133.3L252.6 134.5L250.1 135.6L249.6 136.2L250.0 138.0L249.4 139.5L247.8 140.8L246.6 142.4L244.8 144.1L243.1 145.1L241.5 145.6L239.5 145.7L237.2 145.8L234.8 146.5L233.0 145.8L232.9 144.1L232.7 142.7L231.7 140.9L230.7 139.3L229.8 138.0L229.0 136.2L228.4 133.9L228.4 132.6L227.2 130.3L226.0 127.8L225.2 126.0L225.2 124.5L225.8 123.3L226.3 121.5L227.3 120.4L227.6 118.6L226.9 116.0L226.4 113.9L225.8 112.7L225.5 111.6L224.6 110.4L223.1 109.0L221.9 107.1L221.7 106.5L222.4 105.2L222.6 103.9L222.9 102.4L222.5 101.1L221.7 100.4L220.8 100.4L219.6 100.5L218.4 100.6L217.2 99.2L216.6 98.3L215.4 98.2L213.7 98.3L212.5 98.8L211.4 99.2L209.0 100.0L207.8 99.7L206.7 99.6L204.3 100.0L202.6 100.5L200.8 99.8L198.7 98.3L196.7 97.0L195.9 95.7L195.3 94.5L193.8 92.8L192.6 91.6L191.8 91.1L191.6 89.8L190.8 88.4L192.0 86.9L192.2 84.5L192.2 82.8L191.4 81.0L192.0 79.3L192.6 77.9L193.8 76.3L194.3 74.8L196.1 73.2L197.3 72.6L199.4 71.3L200.0 69.9L199.9 68.7L200.4 67.5L202.4 66.2L203.4 65.8L204.1 64.3L204.4 63.6M0.0 24.8L3.5 25.6L8.2 27.0L12.0 28.1L10.6 28.8L8.8 30.1L5.9 29.6L4.7 28.8L1.8 27.9L1.2 28.4L0.0 29.4M378.7 118.2L379.9 120.4L380.2 122.5L382.0 123.3L382.6 125.6L383.2 128.0L385.7 129.4L386.7 130.7L388.4 132.7L390.4 135.0L391.3 136.0L391.3 138.0L391.7 139.4L391.0 142.1L390.4 143.6L389.0 145.5L388.3 147.0L387.5 148.9L387.5 149.7L385.2 150.2L383.3 151.6L381.3 150.7L379.9 151.2L377.5 150.8L375.8 149.7L375.2 148.0L374.0 146.8L373.1 147.0L372.2 147.0L373.2 144.4L370.9 146.5L369.9 145.4L368.9 144.2L368.1 143.5L365.8 142.7L362.8 142.9L359.3 143.6L357.0 144.4L354.6 145.5L352.3 145.6L349.9 146.8L346.5 146.1L346.6 145.1L347.2 143.3L346.4 140.9L345.9 139.5L345.2 138.0L344.6 136.2L344.9 134.5L345.0 132.1L345.3 131.3L346.4 130.9L348.5 129.9L350.6 129.5L352.9 128.9L354.0 128.0L354.9 126.8L355.0 125.6L356.4 125.1L356.7 126.0L357.6 124.5L358.7 122.7L360.3 122.0L361.7 123.1L362.8 123.2L363.5 122.1L364.6 120.5L365.1 120.2L366.4 120.0L367.1 119.0L368.1 119.5L369.9 120.0L371.7 119.7L372.1 120.1L371.1 121.3L370.8 122.9L371.7 124.2L373.2 124.8L374.8 126.0L376.3 126.3L376.8 126.2L377.5 123.9L377.6 121.5L377.9 120.1L378.2 118.8ZM126.2 13.9L133.9 12.3L135.0 10.6L140.9 9.4L150.3 8.9L158.5 8.6L164.4 7.8L172.6 7.5L179.7 7.9L186.7 8.8L197.3 10.0L193.8 11.7L190.2 12.3L189.1 14.1L190.2 15.5L187.9 16.4L188.5 17.6L186.7 18.8L185.5 20.2L182.6 20.8L185.5 21.7L185.5 22.9L183.2 23.5L180.8 25.0L176.1 25.7L172.6 27.0L169.1 28.3L166.7 28.7L164.4 29.4L163.2 31.1L161.5 32.9L160.9 34.6L159.7 35.3L157.3 34.4L154.4 33.8L152.7 32.3L150.9 30.5L150.3 29.9L148.5 27.6L148.5 25.8L151.5 24.4L147.4 23.1L147.4 21.7L145.6 20.0L143.8 18.2L140.9 16.7L136.2 16.3L130.9 16.4L128.0 15.3L129.2 14.3ZM139.1 27.4L136.2 25.8L132.7 24.1L130.9 22.9L128.0 21.7L123.3 20.5L119.8 20.0L116.3 19.1L111.6 19.0L106.3 20.0L106.3 22.3L108.0 23.1L111.6 23.5L116.3 23.5L119.8 23.5L123.3 25.2L125.6 25.8L125.1 27.6L124.5 29.4L119.8 29.9L120.4 30.5L123.9 29.9L126.8 30.8L129.2 31.9L131.5 32.6L133.9 33.0L135.0 32.3L132.1 31.1L135.0 31.5L135.6 30.5L132.7 28.2L136.2 29.0L137.4 29.4ZM72.8 22.3L74.0 20.0L78.7 20.2L82.2 20.0L85.7 19.4L88.1 20.0L88.1 21.7L91.6 22.9L92.2 23.8L91.6 24.7L86.9 24.8L82.2 25.0L78.1 25.1L75.2 24.3L73.4 23.3L76.3 22.9ZM64.0 21.1L65.8 18.4L68.7 18.2L72.8 19.0L75.2 19.7L71.6 21.1L68.1 22.0L66.3 22.0ZM122.1 15.9L117.4 16.1L106.9 15.9L104.5 14.1L109.2 12.9L103.3 11.2L102.2 10.2L111.6 8.8L123.3 8.1L131.5 8.2L138.6 8.8L136.2 10.0L131.5 11.2L126.8 12.3L122.1 13.2L123.3 14.1L119.8 15.3ZM117.4 17.0L111.6 16.9L103.3 16.2L103.3 17.8L108.0 18.2L115.1 18.2L117.4 18.0ZM109.2 13.9L101.0 12.3L99.8 11.2L105.7 10.6L109.2 11.5ZM74.0 17.0L75.2 16.1L82.2 16.1L86.9 16.4L86.9 17.6L82.2 17.8L77.5 18.0ZM91.6 20.0L93.9 19.0L97.5 19.7L97.5 21.1L95.1 21.7L91.6 21.1ZM98.6 19.4L99.8 18.8L104.5 18.8L105.1 20.0L102.2 20.8L99.2 20.5ZM89.2 17.0L93.9 15.9L96.9 16.7L96.3 17.6L91.6 17.6ZM109.2 28.8L112.7 28.4L116.3 29.9L116.8 30.9L113.9 31.4L111.0 31.1L109.2 30.5ZM94.5 24.4L97.5 23.7L99.2 24.7L96.9 25.2ZM141.8 49.8L144.0 46.1L146.2 45.1L145.8 46.4L145.6 47.0L146.8 47.6L148.5 47.8L149.1 48.7L149.5 49.9L148.5 50.8L148.0 49.9L146.2 50.5L145.6 49.8ZM111.7 80.0L113.9 78.7L114.7 78.4L117.4 78.7L119.8 79.5L122.1 80.8L124.2 81.8L122.7 82.3L120.1 82.3L120.7 81.5L119.2 81.0L117.4 80.2L115.7 79.6L114.1 79.1L113.3 79.6ZM124.0 84.1L125.9 84.0L126.5 83.7L125.9 83.0L125.2 82.4L127.2 82.4L129.2 82.5L130.1 83.1L131.0 83.8L130.3 84.1L128.6 84.2L127.4 84.9L126.8 84.3L124.7 84.4ZM119.4 84.1L121.8 84.4L121.2 84.8L119.5 84.5ZM132.5 84.1L134.2 84.2L134.1 84.5L132.5 84.5ZM60.7 46.0L64.0 46.7L66.3 48.7L64.6 48.4L62.8 47.6ZM55.2 42.3L56.6 42.3L57.2 44.3L55.8 43.4ZM29.9 38.2L32.3 37.2L32.6 38.3L30.5 39.0ZM10.0 31.1L12.9 31.5L12.9 31.7L10.0 31.5ZM28.2 82.0L29.4 82.5L28.5 83.4L28.2 82.7ZM27.4 81.0L28.2 81.3L27.7 81.5ZM25.6 80.3L26.2 80.6L25.8 80.7ZM23.8 79.6L24.3 79.7L24.1 80.0ZM182.6 28.8L184.9 27.7L187.3 28.7L190.2 27.9L192.6 27.6L194.3 28.2L195.4 29.1L194.0 30.2L190.8 30.9L189.1 31.2L186.7 30.8L184.7 30.8L185.5 30.1L183.2 29.5L185.3 29.0ZM204.7 46.9L207.3 46.7L207.3 46.3L210.2 46.1L212.9 45.7L212.3 45.2L213.4 43.9L211.7 43.4L211.4 42.7L210.0 41.6L209.5 40.5L208.8 39.9L207.8 39.9L209.0 38.2L209.3 38.0L206.7 38.0L207.8 36.9L205.5 36.9L204.6 38.2L204.8 39.3L204.8 40.7L205.7 40.5L205.5 41.5L207.3 41.2L207.8 42.3L207.8 43.0L206.1 43.1L205.8 43.7L206.7 44.0L205.3 44.7L207.8 45.2L208.2 45.1L206.4 45.6ZM199.6 45.1L204.0 44.4L204.3 43.1L204.9 41.7L204.3 40.9L202.6 40.7L201.4 41.7L199.6 42.0L199.6 43.0L200.8 43.3L199.9 44.4ZM224.3 12.3L230.2 11.7L234.8 12.0L236.6 13.5L233.1 14.7L231.3 15.7L227.8 14.7L224.3 13.5ZM232.5 11.5L238.4 11.2L243.1 11.5L240.7 12.6L234.8 12.3ZM236.6 13.9L239.5 14.3L237.8 14.9L236.0 14.6ZM271.8 21.7L273.6 22.5L278.3 22.8L276.5 21.1L278.9 19.4L280.1 18.4L284.2 17.3L291.2 16.2L292.4 15.5L288.9 15.3L281.8 16.2L277.1 17.6L274.8 19.3L274.2 20.5ZM266.6 11.4L271.3 10.8L270.1 11.7ZM275.9 11.4L281.8 10.6L285.3 11.0L280.6 11.7ZM324.1 12.7L328.8 12.0L333.5 12.7L334.7 13.6L328.8 14.1L326.4 13.5ZM321.7 11.5L325.3 10.3L327.6 11.2L324.1 12.0ZM372.2 17.3L375.8 16.4L381.6 17.0L379.3 17.8L373.4 18.0ZM375.8 19.0L379.3 19.3L378.1 19.7L375.8 19.5ZM384.0 17.3L388.1 17.4L386.3 17.8ZM421.0 22.3L422.7 21.7L422.7 22.4M0.0 21.7L2.9 22.0L2.3 22.4L0.0 22.4M378.1 41.9L379.3 43.4L379.6 45.8L380.5 47.8L379.3 48.1L379.0 50.5L379.9 51.1L378.1 51.7L378.1 49.9L378.1 47.0L377.9 44.6L377.9 42.9ZM375.8 57.0L376.3 55.2L377.8 52.3L382.0 54.8L379.3 56.4L376.9 55.8L376.7 56.7ZM376.9 57.1L378.1 59.3L376.9 61.3L376.7 63.4L375.8 64.3L374.4 64.9L372.2 65.1L370.8 66.3L369.9 65.2L367.5 65.4L365.2 65.8L365.8 64.9L367.5 64.0L370.5 63.9L372.0 62.5L372.6 61.6L374.0 61.9L375.2 60.5L375.8 58.7L376.1 57.5ZM364.0 66.3L366.0 66.2L365.8 68.7L364.6 69.0L364.0 67.5ZM367.0 66.0L369.3 65.5L369.1 66.3L367.5 67.2L366.7 66.7ZM353.4 76.1L354.6 76.3L353.2 79.8L352.4 78.7ZM339.0 83.0L340.5 82.1L341.7 82.7L340.5 84.2L339.0 83.8ZM352.9 84.0L354.6 84.0L355.0 85.7L354.0 87.1L354.6 89.0L357.0 90.4L356.4 90.7L354.6 89.5L353.1 89.5L352.6 88.3L352.3 86.9L352.7 85.1ZM354.6 97.5L356.4 95.6L358.5 94.2L359.9 96.9L359.6 98.3L358.7 99.1L357.2 98.3L357.0 96.9ZM357.3 91.0L358.7 91.4L358.5 93.7L357.6 93.4ZM354.6 91.8L356.0 92.2L356.0 94.9L355.1 94.4L354.6 93.4ZM349.0 95.8L351.7 92.4L352.0 93.4L349.7 95.9ZM340.1 103.3L342.2 102.7L344.1 101.9L345.2 100.4L347.6 98.6L348.8 97.5L349.6 98.3L351.3 99.5L349.9 100.6L349.3 101.6L349.9 103.3L351.1 104.5L349.3 105.1L349.3 106.6L348.2 107.4L347.9 109.2L347.6 110.4L345.8 110.4L345.8 109.7L344.1 109.4L342.3 109.4L340.8 109.0L340.5 107.4L339.6 106.3L339.4 104.5ZM323.3 99.1L325.9 99.6L327.3 101.2L329.1 102.7L330.6 103.3L332.3 105.1L333.3 106.9L334.1 108.0L335.8 109.2L335.6 112.5L334.1 112.4L332.3 111.0L330.6 109.2L329.1 106.9L327.6 105.3L326.4 103.3L324.7 101.6ZM334.9 113.7L335.8 112.7L338.8 113.3L341.5 113.2L343.7 113.9L345.8 114.7L345.8 115.9L341.7 115.4L338.2 114.8L336.3 114.4ZM346.6 115.3L351.1 115.3L351.1 116.1L346.6 116.0ZM352.0 115.5L355.8 115.3L355.8 116.0L352.0 116.1ZM356.4 117.8L358.1 116.3L360.8 115.5L359.9 116.4L357.6 117.7ZM351.1 116.8L353.2 117.1L352.5 117.7ZM351.7 112.3L351.7 109.8L350.9 108.9L352.0 105.4L353.2 104.2L355.8 104.5L358.1 103.8L357.6 105.2L353.4 105.2L352.5 106.7L354.0 106.7L356.2 106.7L354.6 107.8L354.0 108.0L355.2 109.6L355.8 111.0L354.6 111.3L354.0 110.4L353.4 108.9L352.7 109.2L352.7 112.1ZM361.1 103.6L362.5 103.9L361.7 106.3L361.3 105.1ZM361.7 109.2L365.0 109.4L364.0 109.9L361.7 109.8ZM359.3 109.4L360.7 109.6L360.1 110.1ZM365.2 106.6L367.0 106.2L368.7 106.6L369.1 108.6L369.9 109.6L371.7 108.3L373.4 107.6L376.9 108.7L379.3 109.7L381.0 110.1L382.6 111.6L384.0 112.7L384.9 113.5L384.0 113.8L384.6 115.1L385.7 116.3L387.5 117.4L388.4 117.8L386.9 117.9L384.6 117.4L382.8 115.7L381.0 114.7L379.9 115.4L379.3 116.5L376.9 116.4L375.2 115.2L373.4 115.5L374.2 114.1L373.4 112.1L371.1 111.1L368.7 110.3L367.5 110.4L367.3 109.6L366.4 109.0L368.4 108.4L366.4 108.1L365.2 107.3ZM385.5 112.3L387.5 111.6L389.3 110.6L390.2 110.7L389.3 112.1L387.5 113.0L385.7 112.7ZM388.4 108.7L390.4 109.8L391.0 111.2L389.9 110.1ZM392.9 112.0L394.4 113.3L393.7 113.7ZM398.7 116.6L400.2 117.2L399.2 117.3ZM395.7 114.3L399.0 115.5L397.5 115.3ZM305.3 94.2L306.7 95.7L307.4 97.5L306.5 98.4L305.5 98.6L305.1 96.9ZM269.3 119.8L270.4 123.9L269.8 125.1L269.5 126.8L268.3 130.3L267.1 133.3L266.6 135.0L264.4 135.6L263.0 135.0L262.2 132.1L263.4 129.2L263.0 126.2L264.2 124.5L266.0 124.1L267.7 122.1L268.7 120.9ZM381.3 153.5L385.5 153.7L385.4 155.6L384.0 156.8L382.8 156.8L382.0 155.4ZM414.2 146.1L416.0 147.1L416.9 148.5L417.8 148.9L418.3 149.8L420.4 149.8L421.0 150.0L420.3 151.7L419.2 151.8L419.1 153.0L417.2 154.5L416.6 154.2L417.0 152.9L415.4 151.8L416.4 150.9L416.5 149.5L415.9 148.4L414.5 146.8ZM414.2 153.2L415.9 154.1L416.0 154.8L414.5 156.2L414.6 157.1L412.5 157.7L411.9 159.6L409.8 160.4L408.1 159.9L406.9 159.5L408.6 157.6L411.0 156.2L412.7 154.8ZM403.9 129.3L405.7 130.3L407.5 131.9L406.3 131.8L404.5 130.3ZM419.6 126.2L421.1 126.3L420.7 127.1L419.6 126.9ZM407.0 123.3L407.7 123.9L407.2 124.1ZM139.7 166.2L143.3 166.0L142.7 167.0L140.3 167.0ZM130.8 167.4L134.8 169.8L133.3 170.4L130.3 170.6L127.4 169.4L128.8 168.5L128.6 167.7ZM292.0 163.0L294.1 163.2L293.6 164.0L292.2 163.9ZM226.0 61.1L229.7 60.7L229.1 62.6L226.0 61.5ZM221.0 57.5L222.6 57.5L222.6 59.7L221.3 59.9L221.1 58.1ZM221.5 55.8L222.4 55.2L222.4 57.0L221.6 56.8ZM239.1 64.0L242.2 64.3L239.5 64.6ZM249.3 64.6L251.9 63.9L250.9 64.8L249.5 64.9ZM224.3 40.3L226.0 39.9L226.0 40.7L224.9 41.1ZM232.7 38.4L233.7 37.7L233.4 38.5ZM138.7 93.1L139.9 93.0L139.7 93.8L138.7 93.8ZM124.5 154.8L125.2 155.0L125.1 156.6L124.0 156.4ZM126.8 186.7L130.3 187.9L130.3 190.2L125.6 189.6ZM66.9 16.2L71.6 14.9L75.2 14.8L74.0 15.9L69.3 16.6ZM77.5 14.9L81.0 14.0L82.8 14.3L81.6 14.9ZM78.7 13.7L82.2 13.2L83.4 13.7L81.0 14.0ZM88.1 13.9L92.8 12.6L95.1 13.2L93.4 14.1L89.8 14.3ZM96.3 14.1L98.6 13.2L100.4 13.9L98.0 14.4ZM98.6 14.7L101.0 14.3L101.6 14.8ZM98.0 17.4L101.0 16.9L101.6 17.8L99.2 18.1ZM71.0 16.8L72.8 16.4L73.4 17.0ZM88.1 17.1L89.8 16.9L89.2 17.6ZM116.3 19.5L119.8 19.1L121.5 20.0L118.6 20.3ZM120.4 25.6L122.7 26.0L122.1 26.7L120.6 26.3ZM113.3 31.7L115.1 31.8L115.3 32.4L113.7 32.6ZM117.1 32.4L118.0 32.8L117.7 33.3ZM115.1 43.2L116.5 43.3L116.0 43.7ZM85.7 19.0L88.1 19.3L87.5 19.8ZM123.3 26.0L124.7 26.0L124.1 26.5ZM119.2 31.1L120.4 31.4L119.8 31.7ZM135.6 47.1L138.6 47.6L138.8 48.0L136.4 47.8ZM136.0 50.7L138.6 51.1L138.0 51.7L136.2 51.3ZM395.0 113.4L396.4 114.3L396.0 114.5L394.9 113.8ZM399.9 115.4L400.9 116.7L400.4 117.0L399.8 115.8ZM400.8 117.7L401.9 118.2L401.4 118.5ZM407.7 124.4L408.4 125.1L407.8 125.1ZM408.8 126.3L409.3 126.5L409.0 126.7ZM420.9 125.5L422.7 124.7L422.6 125.3L421.2 125.8ZM244.2 57.0L245.4 57.3L248.4 57.3L250.7 56.4L252.7 56.4L254.2 57.2L256.0 57.5L258.3 57.5L260.2 56.8L260.1 55.8L258.3 54.6L256.6 53.5L255.4 53.2L254.3 52.5L255.4 51.1L257.2 50.3L256.0 50.4L252.5 51.3L252.5 52.3L253.6 52.8L252.5 53.1L250.9 53.5L249.5 52.4L250.7 51.7L248.9 51.1L247.8 51.0L247.4 51.1L246.2 52.3L245.1 53.4L244.2 54.8L243.9 55.8L244.2 56.5ZM267.1 52.3L268.9 51.1L271.3 50.5L273.6 50.7L273.6 52.5L271.6 52.8L271.3 53.4L270.4 53.7L271.8 55.0L273.0 55.8L273.0 57.0L274.8 57.5L273.6 58.1L273.6 59.3L274.8 61.6L274.8 62.4L272.4 62.7L270.7 62.0L268.9 61.4L268.9 59.9L269.5 58.4L270.3 58.4L268.9 57.0L267.7 55.8L267.1 54.6L266.6 53.4ZM0.0 204.1L10.6 204.7L23.0 205.5L35.3 205.4L43.3 205.5L42.4 204.1L32.6 203.7L30.1 199.7L26.5 197.0L24.8 196.1L30.1 195.3L40.6 193.9L53.0 192.6L61.9 191.8L70.7 191.8L81.3 190.8L90.1 190.0L91.0 192.1L93.6 190.5L99.0 190.8L109.6 190.5L120.1 190.8L124.6 190.0L127.2 189.1L130.7 185.5L134.2 182.0L139.6 180.2L144.0 179.3L141.4 181.2L138.7 182.6L136.0 184.7L137.9 188.2L136.9 190.8L136.0 191.8L127.2 194.3L121.9 195.3L120.1 197.0L123.6 199.2L134.2 199.7L143.1 202.3L150.2 201.5L155.5 198.4L159.9 199.7L169.6 198.8L176.7 198.4L183.8 195.3L192.6 191.8L199.6 189.1L212.0 188.3L222.6 187.9L235.0 187.3L247.3 186.5L258.0 185.5L266.8 183.8L273.8 182.6L282.6 183.8L289.7 184.7L291.4 189.1L294.1 190.0L300.4 186.5L307.4 184.4L314.5 183.3L325.0 183.8L332.1 182.6L339.2 183.8L346.3 183.3L353.3 183.8L362.1 183.3L370.9 182.9L381.6 183.8L388.7 185.5L397.5 186.8L406.3 188.2L411.6 189.1L411.6 191.4L404.5 194.3L406.3 197.0L400.2 198.8L401.9 201.5L411.6 203.3L422.7 204.9" fill="none" stroke="#000" stroke-width="1.55" stroke-linejoin="round" stroke-linecap="round"/>
</g>
<rect x="150.5" y="118.5" width="423" height="212" fill="none" stroke="#000" stroke-width="1.1"/>
<rect x="657.5" y="118.5" width="423" height="212" fill="none" stroke="#000" stroke-width="1.1"/>
<polygon points="192.27,387.5 150.00,395.0 192.27,402.5" fill="#0010fe"/>
<polygon points="1037.73,387.5 1080.00,395.0 1037.73,402.5" fill="#331a16"/>
<rect x="191.97" y="387.5" width="45.10" height="15.0" fill="#0010fe"/>
<rect x="236.47" y="387.5" width="45.10" height="15.0" fill="#00d8fe"/>
<rect x="280.97" y="387.5" width="45.10" height="15.0" fill="#dcf1f2"/>
<rect x="325.47" y="387.5" width="45.10" height="15.0" fill="#eef2a8"/>
<rect x="369.96" y="387.5" width="45.10" height="15.0" fill="#e4ea63"/>
<rect x="414.46" y="387.5" width="45.10" height="15.0" fill="#d8e033"/>
<rect x="458.96" y="387.5" width="45.10" height="15.0" fill="#eebd3f"/>
<rect x="503.46" y="387.5" width="45.10" height="15.0" fill="#e99f25"/>
<rect x="547.95" y="387.5" width="45.10" height="15.0" fill="#e38027"/>
<rect x="592.45" y="387.5" width="45.10" height="15.0" fill="#dd5715"/>
<rect x="636.95" y="387.5" width="45.10" height="15.0" fill="#cc481b"/>
<rect x="681.45" y="387.5" width="45.10" height="15.0" fill="#c33b17"/>
<rect x="725.94" y="387.5" width="45.10" height="15.0" fill="#a02116"/>
<rect x="770.44" y="387.5" width="45.10" height="15.0" fill="#88151a"/>
<rect x="814.94" y="387.5" width="45.10" height="15.0" fill="#741d1d"/>
<rect x="859.44" y="387.5" width="45.10" height="15.0" fill="#591e1c"/>
<rect x="903.93" y="387.5" width="45.10" height="15.0" fill="#4d1e1b"/>
<rect x="948.43" y="387.5" width="45.10" height="15.0" fill="#3c1d19"/>
<rect x="992.93" y="387.5" width="45.10" height="15.0" fill="#331a16"/>
<polygon points="192.27,387.5 150.00,395.0 192.27,402.5 1037.73,402.5 1080.00,395.0 1037.73,387.5" fill="none" stroke="#000" stroke-width="1.11" stroke-linejoin="miter"/>
<text x="192.27" y="419.3" text-anchor="middle" font-size="13.89">−2.5</text>
<text x="281.27" y="419.3" text-anchor="middle" font-size="13.89">−0.5</text>
<text x="370.26" y="419.3" text-anchor="middle" font-size="13.89">1.5</text>
<text x="459.26" y="419.3" text-anchor="middle" font-size="13.89">3.5</text>
<text x="548.25" y="419.3" text-anchor="middle" font-size="13.89">5.5</text>
<text x="637.25" y="419.3" text-anchor="middle" font-size="13.89">7.5</text>
<text x="726.24" y="419.3" text-anchor="middle" font-size="13.89">9.5</text>
<text x="815.24" y="419.3" text-anchor="middle" font-size="13.89">11.5</text>
<text x="904.23" y="419.3" text-anchor="middle" font-size="13.89">13.5</text>
<text x="993.23" y="419.3" text-anchor="middle" font-size="13.89">15.5</text>
<text x="615" y="438.2" text-anchor="middle" font-size="13.89">K</text>
</svg>
</body></html>
